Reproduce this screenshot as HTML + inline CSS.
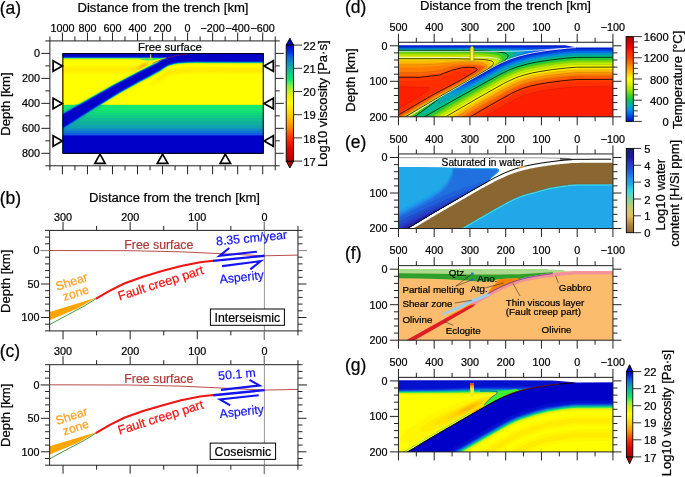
<!DOCTYPE html><html><head><meta charset="utf-8"><style>html,body{margin:0;padding:0;background:#fff;}svg{display:block;will-change:transform;font-family:"Liberation Sans", sans-serif;}</style></head><body>
<svg width="685" height="477" viewBox="0 0 685 477">
<rect width="685" height="477" fill="#fff"/>
<text x="-0.3" y="14" font-size="17.5" text-anchor="start" fill="#000"  stroke="#000" stroke-width="0.22">(a)</text>
<text x="-0.3" y="203.8" font-size="17.5" text-anchor="start" fill="#000"  stroke="#000" stroke-width="0.22">(b)</text>
<text x="-0.3" y="356.8" font-size="17.5" text-anchor="start" fill="#000"  stroke="#000" stroke-width="0.22">(c)</text>
<text x="345" y="13.2" font-size="17.5" text-anchor="start" fill="#000"  stroke="#000" stroke-width="0.22">(d)</text>
<text x="345" y="147.6" font-size="17.5" text-anchor="start" fill="#000"  stroke="#000" stroke-width="0.22">(e)</text>
<text x="345" y="259.2" font-size="17.5" text-anchor="start" fill="#000"  stroke="#000" stroke-width="0.22">(f)</text>
<text x="345" y="371" font-size="17.5" text-anchor="start" fill="#000"  stroke="#000" stroke-width="0.22">(g)</text>
<clipPath id="ca"><rect x="62.9" y="53.6" width="200.29999999999998" height="99.70000000000002"/></clipPath><g clip-path="url(#ca)"><rect x="62.9" y="53.6" width="200.29999999999998" height="99.70000000000002" fill="#b00000"/><path d="M62.4 52.6 264.4 52.6 264.4 154.1 61.9 154.1 61.9 52.6Z" fill="#b00000"/>
<path d="M62.4 52.6 264.4 52.6 264.4 154.1 61.9 154.1 61.9 52.6Z" fill="#ba0000"/>
<path d="M62.4 52.6 264.4 52.6 264.4 154.1 61.9 154.1 61.9 52.6Z" fill="#c30000"/>
<path d="M62.4 52.6 264.4 52.6 264.4 154.1 61.9 154.1 61.9 52.6Z" fill="#cd0000"/>
<path d="M62.4 52.6 264.4 52.6 264.4 154.1 61.9 154.1 61.9 52.6Z" fill="#d60000"/>
<path d="M62.4 52.6 264.4 52.6 264.4 154.1 61.9 154.1 61.9 52.6Z" fill="#e00000"/>
<path d="M62.4 52.6 264.4 52.6 264.4 154.1 61.9 154.1 61.9 52.6Z" fill="#e60a00"/>
<path d="M62.4 52.6 264.4 52.6 264.4 154.1 61.9 154.1 61.9 52.6Z" fill="#ec1300"/>
<path d="M62.4 52.6 264.4 52.6 264.4 154.1 61.9 154.1 61.9 52.6Z" fill="#f31d00"/>
<path d="M62.4 52.6 264.4 52.6 264.4 154.1 61.9 154.1 61.9 52.6Z" fill="#f92600"/>
<path d="M62.4 52.6 264.4 52.6 264.4 154.1 61.9 154.1 61.9 52.6Z" fill="#ff3000"/>
<path d="M62.4 52.6 264.4 52.6 264.4 154.1 61.9 154.1 61.9 52.6Z" fill="#ff4300"/>
<path d="M62.4 52.6 264.4 52.6 264.4 154.1 61.9 154.1 61.9 52.6Z" fill="#ff5600"/>
<path d="M62.4 52.6 264.4 52.6 264.4 154.1 61.9 154.1 61.9 52.6Z" fill="#ff6a00"/>
<path d="M62.4 52.6 264.4 52.6 264.4 154.1 61.9 154.1 61.9 52.6Z" fill="#ff7d00"/>
<path d="M62.4 52.6 264.4 52.6 264.4 154.1 61.9 154.1 61.9 52.6Z" fill="#ff9000"/>
<path d="M62.4 52.6 264.4 52.6 264.4 154.1 61.9 154.1 61.9 52.6Z" fill="#ff9d00"/>
<path d="M62.4 52.6 264.4 52.6 264.4 154.1 61.9 154.1 61.9 52.6Z" fill="#ffaa00"/>
<path d="M62.4 52.6 264.4 52.6 264.4 154.1 61.9 154.1 61.9 52.6Z" fill="#ffb600"/>
<path d="M62.4 52.6 264.4 52.6 264.4 154.1 61.9 154.1 61.9 52.6ZM143 65.1 140.9 66.6 140.6 67.1 140.9 67.4 142.4 67.2 143.6 66.6 144.9 65.6 145.2 65.1 144.9 64.7 143.4 64.9Z" fill="#ffc300"/>
<path d="M62.4 52.6 264.4 52.6 264.4 154.1 61.9 154.1 61.9 52.6ZM144.3 64.1 142.4 64.9 140.6 66.1 139.5 67.1 139.2 67.6 139.2 68.1 139.9 68.3 140.9 68.1 143.4 67.1 145.6 65.6 146.3 64.6 146.2 64.1 145.9 64 144.4 64.1Z" fill="#ffd000"/>
<path d="M62.4 52.6 264.4 52.6 264.4 154.1 61.9 154.1 61.9 52.6ZM144.4 63.6 142.1 64.6 139.8 66.1 138.1 67.6 137.8 68.1 137.7 68.6 138.4 68.9 138.9 68.9 140.7 68.6 143.1 67.6 144.9 66.6 146.7 65.1 147.3 64.1 147.2 63.6 146.9 63.4 145.9 63.3 144.9 63.5Z" fill="#ffd900"/>
<path d="M62.4 52.6 264.4 52.6 264.4 154.1 61.9 154.1 61.9 52.6ZM144.5 63.1 142.4 64 139.9 65.5 136.5 68.1 135.8 69.1 136.5 69.6 137.9 69.6 140.1 69.1 142.7 68.1 144.5 67.1 146.7 65.6 147.7 64.6 148.3 63.6 148.2 63.1 147.4 62.7 146.4 62.7 144.9 63Z" fill="#ffe300"/>
<path d="M62.4 52.6 264.4 52.6 264.4 154.1 61.9 154.1 61.9 52.6ZM146.7 62.1 144.9 62.5 142.9 63.2 140.9 64.3 135.4 67.7 132.9 68.8 130.1 69.6 133.9 70.3 135.9 70.3 139.4 69.6 142.1 68.6 145.8 66.6 147.8 65.1 148.8 64.1 149.3 63.1 149.3 62.6 148.5 62.1 146.9 62.1Z" fill="#ffec00"/>
<path d="M62.4 52.6 264.4 52.6 264.4 67.9 194.9 67.7 184.9 68 177.9 68.5 173.4 69.4 167.9 71.1 161.9 75 157.3 78.6 156.3 79.6 155.7 80.6 155.9 80.9 156.4 81.1 158.9 80.6 161.9 79.1 167.9 75.3 173.4 73.7 178.4 72.8 184.9 72.3 194.9 72 264.4 72.2 264.4 154.1 61.9 154.1 61.9 71.7 123.9 71.7 133.4 71.3 135.9 70.9 138.7 70.1 141.4 69.1 144.4 67.6 146.9 66.1 148.9 64.6 150.3 63.1 150.6 62.1 150.2 61.6 148.9 61.4 146.9 61.5 144.9 61.9 141.4 63.3 135.9 66.5 134.4 67 132.4 67.3 61.9 67.3 61.9 52.6Z" fill="#fff600"/>
<path d="M62.4 52.6 264.4 52.6 264.4 66.4 194.9 66.2 184.9 66.5 177.9 67 173.4 67.9 169.4 69.1 167.9 69.8 163.9 72.3 152.3 80.1 150.2 82.1 149.6 83.1 149.3 84.1 149.5 85.1 149.9 85.6 150.4 85.8 151.4 85.8 153.4 85.3 159.9 82.5 167.9 77.5 173.4 75.9 178.4 74.9 184.9 74.5 194.9 74.1 264.4 74.3 264.4 154.1 61.9 154.1 61.9 73.9 117.9 73.8 122.4 73.8 126.4 73.4 130.4 72.7 134.9 71.6 138 70.6 141.4 69.2 145.4 67.2 148 65.6 150.6 63.6 152.5 61.6 152.3 61.1 150.4 60.7 148.4 60.7 145.9 60.9 141.4 62.2 135.9 64.7 132.9 65.1 61.9 65.2 61.9 52.6Z" fill="#ffff00"/>
<path d="M62.4 52.6 264.4 52.6 264.4 65 194.9 64.8 185.3 65.1 178.4 65.6 173.9 66.5 170 67.6 167.8 68.6 161.4 72.8 151.4 78.5 140.7 84.1 121.6 94.6 105.3 104.6 264.4 104.6 264.4 154.1 61.9 154.1 61.9 104.6 73.9 104.6 111.4 83.3 123.9 76.7 128.9 74.2 138.4 70.7 144.9 67.6 148.4 65.6 155.6 60.6 149.9 60 139.9 60.5 61.9 60.5 61.9 52.6Z" fill="#f9f900"/>
<path d="M62.4 52.6 264.4 52.6 264.4 64.3 194.9 64.1 184.9 64.5 178.4 64.9 173.9 65.8 169.3 67.1 164.9 69.6 159.9 72.9 150.9 77.9 140.9 83.1 120.9 94.1 103.9 104.6 264.4 104.7 264.4 154.1 61.9 154.1 61.9 104.7 75.5 104.6 111.9 83.9 130.4 74.2 138.9 70.6 144.2 68.1 148.7 65.6 157.8 60.1 157.4 59.9 149.9 59.6 140.9 59.8 61.9 59.8 61.9 52.6Z" fill="#f3f300"/>
<path d="M62.4 52.6 264.4 52.6 264.4 63.9 194.9 63.7 184.9 64 178.4 64.5 173.9 65.4 169.6 66.6 168.4 67 164.9 69.1 159.9 72.5 150.9 77.4 141 82.6 120.9 93.6 103.1 104.6 110.9 104.7 264.4 104.7 264.4 154.1 61.9 154.1 61.9 104.7 76.3 104.6 111.9 84.4 130.9 74.4 144.5 68.1 157.1 61.1 159.1 59.6 149.9 59.3 61.9 59.3 61.9 52.6Z" fill="#e6f006"/>
<path d="M62.4 52.6 264.4 52.6 264.4 63.6 195.4 63.5 189 63.6 178.4 64.2 173.7 65.1 168.6 66.6 164.4 69.1 160.4 71.9 150.4 77.4 140.3 82.6 120.4 93.6 102.5 104.6 110.4 104.8 264.4 104.8 264.4 154.1 61.9 154.1 61.9 104.8 76.9 104.6 112.4 84.5 131.9 74.2 144.7 68.1 156.7 61.6 159.7 59.6 158.9 59.3 149.9 59 61.9 59 61.9 52.6Z" fill="#d3f013"/>
<path d="M62.4 52.6 264.4 52.6 264.4 63.4 194.9 63.2 184.9 63.5 177.9 64.1 173.4 65 169.5 66.1 168.1 66.6 164.8 68.6 159.9 71.9 149.9 77.4 139.9 82.6 120.8 93.1 102.1 104.6 109.4 104.8 264.4 104.8 264.4 154.1 61.9 154.1 61.9 104.8 73.4 104.8 77.3 104.6 112.4 84.7 132.9 73.9 145.9 67.6 157.2 61.6 160.1 59.6 160.4 59.2 161 59.1 149.9 58.8 61.9 58.8 61.9 52.6Z" fill="#c0f020"/>
<path d="M62.4 52.6 264.4 52.6 264.4 63.2 192.4 63.1 184.9 63.4 177.9 63.9 173.9 64.6 168.9 66.1 164.4 68.6 160.4 71.4 150.4 76.9 140.4 82.1 120.4 93.1 101.8 104.6 103.9 104.8 108.9 104.9 264.4 104.9 264.4 154.1 61.9 154.1 61.9 104.9 73.9 104.8 77.7 104.6 112.4 84.9 132.4 74.4 144.2 68.6 154.8 63.1 157.6 61.6 159.9 59.9 161.5 59.1 160.9 58.9 149.9 58.6 61.9 58.6 61.9 52.6Z" fill="#a6f02d"/>
<path d="M62.4 52.6 264.4 52.6 264.4 63.1 195.4 62.9 187.4 63.1 177.9 63.7 173.4 64.6 168.4 66.1 164.2 68.6 159.4 71.8 150.4 76.8 140.1 82.1 120.1 93.1 101.5 104.6 103.4 104.9 108.9 104.9 264.4 104.9 264.4 154.1 61.9 154.1 61.9 104.9 73.9 104.9 78 104.6 112.9 84.8 132.9 74.3 155.1 63.1 157.8 61.6 160.4 59.8 161.9 59.1 160.9 58.8 149.9 58.5 61.9 58.5 61.9 52.6Z" fill="#8df03a"/>
<path d="M62.4 52.6 264.4 52.6 264.4 63 195.4 62.8 185.4 63 177.7 63.6 172.9 64.6 168.4 66 163.9 68.6 159.9 71.4 149.9 76.9 139.8 82.1 119.9 93.1 101.2 104.6 103.4 104.9 108.4 105 264.4 105 264.4 154.1 61.9 154.1 61.9 105 74.4 104.9 78.3 104.6 112.4 85.3 133.9 73.9 155.4 63.1 157.9 61.7 160.4 59.9 162.2 59.1 161.9 58.7 161.4 58.6 149.9 58.4 61.9 58.4 61.9 52.6Z" fill="#6aee4a"/>
<path d="M62.4 52.6 264.4 52.6 264.4 62.8 194.9 62.6 184.9 63 177.9 63.5 173.4 64.4 169.2 65.6 167.8 66.1 164.5 68.1 159.9 71.2 150.4 76.5 139.6 82.1 120.5 92.6 101 104.6 102.9 104.9 107.9 105 264.4 105 264.4 154.1 61.9 154.1 61.9 105 74.4 105 78.5 104.6 113.4 84.8 134.4 73.8 155.6 63.1 162.9 58.7 163.8 58.6 149.9 58.2 61.9 58.3 61.9 52.6Z" fill="#3feb5d"/>
<path d="M62.4 52.6 264.4 52.6 264.4 62.7 192.5 62.6 184.9 62.9 177.9 63.4 173.4 64.3 168.8 65.6 167.6 66.1 164.3 68.1 160.4 70.8 158.4 72 149.4 76.9 139.4 82.1 120.3 92.6 100.8 104.6 102.4 105 107.4 105.1 264.4 105.1 264.4 154.1 61.9 154.1 61.9 105.1 74.9 105 78.7 104.6 112.9 85.2 139.4 71.3 154.9 63.6 157.7 62.1 160.4 60.2 162.9 58.9 164.2 58.6 149.9 58.1 61.9 58.1 61.9 52.6Z" fill="#14e870"/>
<path d="M62.4 52.6 264.4 52.6 264.4 62.6 189.4 62.6 177.9 63.3 173.6 64.1 168.5 65.6 164.9 67.6 159.9 71 157.4 72.4 140.1 81.6 120.1 92.6 100.6 104.6 101.9 105 104.5 105.1 100.9 108.1 100 109.1 99.8 110.1 100.4 110.6 105.9 110.8 264.4 110.8 264.4 154.1 61.9 154.1 61.9 109.8 66.5 108.1 73.1 105.1 76.9 104.9 78.9 104.6 112.9 85.3 139.4 71.4 155.1 63.6 157.9 62.1 160.4 60.3 163.4 58.9 164.5 58.6 163.4 58.4 149.9 58.1 61.9 58.1 61.9 52.6Z" fill="#12de76"/>
<path d="M62.4 52.6 264.4 52.6 264.4 62.6 195.4 62.4 186.6 62.6 177.9 63.2 173.4 64.1 168.2 65.6 163.9 68.1 159.9 71 149.9 76.5 139.9 81.6 119.9 92.6 100.5 104.6 100.9 104.9 102.5 105.1 93.5 111.1 93.1 112.1 93.7 112.6 94.9 112.8 99.9 113 264.4 113 264.4 154.1 61.9 154.1 61.9 111.8 65 110.6 75.2 105.1 77.4 104.9 79 104.6 112.9 85.4 139.4 71.4 155.2 63.6 157.9 62.2 160.4 60.3 162.4 59.4 164.8 58.6 163.4 58.4 149.9 58 61.9 58 61.9 52.6Z" fill="#11d57d"/>
<path d="M62.4 52.6 264.4 52.6 264.4 62.5 195.4 62.4 185.4 62.6 177.9 63.1 173.4 64 168.1 65.6 163.9 68.1 159.9 70.9 149.9 76.4 138.9 82.1 119.9 92.5 100.4 104.6 100.9 105 101.5 105.1 92.2 111.1 90.5 112.6 89.8 113.6 89.7 114.1 89.9 114.7 90.9 115.1 95.9 115.3 264.4 115.3 264.4 154.1 61.9 154.1 61.9 112.6 65.4 111.1 76.2 105.1 79.1 104.6 113.9 84.9 136.9 72.8 155.4 63.6 157.9 62.2 160.4 60.4 162.9 59.2 165 58.6 163.4 58.3 149.9 57.9 61.9 57.9 61.9 52.6Z" fill="#10ca86"/>
<path d="M62.4 52.6 264.4 52.6 264.4 62.4 195.4 62.3 185.4 62.5 177.9 63 173.4 63.9 167.9 65.6 163.9 68 159.9 70.8 149.9 76.3 138.9 82 119.9 92.5 100.4 104.5 100.3 104.6 100.4 104.9 100.9 105.1 91.4 111.1 88.8 113.1 86.1 115.6 85.4 116.6 85.4 117.1 85.9 117.5 86.9 117.8 92.4 118 264.4 118 264.4 154.1 61.9 154.1 61.9 113.1 66.2 111.1 76.9 105.1 78.9 104.7 79.9 104.2 90.9 97.9 115.9 83.9 137.9 72.4 155.4 63.7 157.9 62.3 161.4 60 162.9 59.3 165.2 58.6 164.9 58.4 163.9 58.2 149.9 57.9 61.9 57.9 61.9 52.6Z" fill="#10bd93"/>
<path d="M62.4 52.6 264.4 52.6 264.4 62.4 195.4 62.2 185.4 62.4 177.9 63 173.4 63.9 167.9 65.5 163.9 67.9 159.9 70.7 149.9 76.3 138.9 82 119.9 92.4 100.4 104.4 100.2 104.6 100.4 105.1 90.9 111.1 84.2 116.1 80.9 119.1 80.2 120.1 80.2 120.6 80.8 121.1 81.9 121.3 86.9 121.5 264.4 121.5 264.4 154.1 61.9 154.1 61.9 113.5 66.7 111.1 76.9 105.3 78.9 104.8 79.9 104.3 90.9 97.9 115.9 84 138.9 71.9 155.4 63.7 157.9 62.4 161.4 60.1 162.9 59.4 165.3 58.6 164.9 58.3 163.9 58.2 149.9 57.8 61.9 57.8 61.9 52.6Z" fill="#10b0a0"/>
<path d="M62.4 52.6 264.4 52.6 264.4 62.3 195.4 62.2 185.4 62.4 177.9 62.9 172.9 63.9 167.9 65.4 163.9 67.8 159.9 70.7 149.9 76.2 138.9 81.9 119.9 92.4 100.4 104.4 100.1 104.6 100.1 105.1 90.5 111.1 79.3 119.1 75.7 122.1 74.8 123.1 74.5 124.1 74.9 124.5 75.9 124.8 81.4 125 264.4 125 264.4 154.1 61.9 154.1 61.9 113.8 67.2 111.1 77.4 105.3 79.9 104.4 90.9 98 115.9 84.1 139.9 71.5 155.4 63.8 157.9 62.4 160.9 60.4 162.9 59.4 165.5 58.6 164.9 58.2 164.4 58.1 149.9 57.8 61.9 57.8 61.9 52.6Z" fill="#10a3ad"/>
<path d="M62.4 52.6 264.4 52.6 264.4 62.3 195.4 62.1 184.9 62.3 177.9 62.9 172.9 63.9 167.9 65.4 163.9 67.8 158.9 71.1 149.9 76.1 138.9 81.8 119.9 92.3 100.4 104.3 99.4 105.4 89.4 111.6 74.9 121.6 70.5 125.1 69.6 126.1 69.3 126.6 69.3 127.1 69.9 127.6 70.9 127.8 75.9 127.9 264.4 127.9 264.4 154.1 61.9 154.1 61.9 114.1 68.4 110.6 77.9 105.2 79.4 104.7 80.9 103.9 113.2 85.6 139.9 71.5 155.4 63.9 158.4 62.2 160.9 60.5 162.9 59.5 165.7 58.6 165.9 58.1 149.9 57.7 61.9 57.7 61.9 52.6Z" fill="#1096ba"/>
<path d="M62.4 52.6 264.4 52.6 264.4 62.2 195.4 62 184.9 62.3 177.9 62.8 172.9 63.8 167.9 65.3 164.4 67.4 158.9 71.1 149.8 76.1 138.9 81.8 118.9 92.8 100.4 104.2 99.4 105.3 89.9 111.1 71.3 123.6 67.9 126.1 65.7 128.1 65.7 128.6 65.9 128.8 66.8 129.1 71.9 129.3 264.4 129.3 264.4 154.1 61.9 154.1 61.9 114.2 66.9 111.6 77.9 105.3 79.4 104.8 80.9 103.9 113.3 85.6 139.9 71.6 155.4 63.9 158.4 62.3 160.9 60.5 162.9 59.5 165.9 58.6 166 58.1 149.9 57.6 61.9 57.6 61.9 52.6Z" fill="#1086c6"/>
<path d="M62.4 52.6 264.4 52.6 264.4 62.1 195.4 61.9 184.9 62.2 177.9 62.7 172.9 63.7 167.9 65.2 164.4 67.3 159.6 70.6 156.9 72.1 149.6 76.1 139.4 81.4 117.9 93.4 99.9 104.5 99.4 105.1 89.9 111 76 120.1 65 127.6 63.9 128.6 63.3 129.6 63.4 130.1 63.9 130.6 64.4 130.7 69.4 131 264.4 131 264.4 154.1 61.9 154.1 61.9 114.4 66.9 111.7 77.9 105.4 80.4 104.3 113.4 85.6 140 71.6 155.4 64 158.4 62.4 160.9 60.6 162.9 59.6 165.9 58.7 166.2 58.1 165.9 57.9 149.9 57.6 61.9 57.6 61.9 52.6Z" fill="#1073d3"/>
<path d="M62.4 52.6 264.4 52.6 264.4 62.1 194.4 61.8 184.9 62.2 177.9 62.7 172.9 63.7 167.9 65.2 163.4 67.8 159.4 70.6 150.4 75.6 139.4 81.3 119.4 92.3 99.9 104.4 99.2 105.1 89.9 110.8 69.5 124.1 63.6 128.1 61.9 129.5 61.9 114.5 77.9 105.5 80.4 104.4 113.6 85.6 140.2 71.6 155.9 63.8 158.4 62.5 161.1 60.6 163.2 59.6 165.9 58.8 166.2 58.6 166.3 58.1 165.9 57.8 149.9 57.4 61.9 57.4 61.9 52.6ZM62.4 132.9 264.4 133 264.4 154.1 61.9 154.1 61.9 132.9Z" fill="#1060e0"/>
<path d="M62.4 52.6 264.4 52.6 264.4 61.9 191.9 61.8 182.4 62.2 177.4 62.7 173.4 63.4 168.4 64.9 167.4 65.3 163.9 67.4 160 70.1 157.4 71.6 149.3 76.1 139.9 80.9 119.4 92.2 99.9 104.2 99 105.1 88.9 111.4 65.4 126.6 61.9 129 61.9 114.7 78.8 105.1 79.9 104.8 81.4 104 112.9 86.1 140.4 71.6 155.9 64 157.9 62.9 161.3 60.6 163.4 59.6 165.9 58.9 166.4 58.6 166.5 58.1 165.9 57.7 149.9 57.3 61.9 57.3 61.9 52.6ZM62.4 134.8 264.4 134.8 264.4 154.1 61.9 154.1 61.9 134.8Z" fill="#0d4add"/>
<path d="M62.4 52.6 264.4 52.6 264.4 61.8 195.4 61.6 186.9 61.8 177.9 62.4 173.4 63.3 167.9 64.9 163.9 67.2 159 70.6 149.9 75.6 139.9 80.8 119.9 91.8 99.4 104.4 98.8 105.1 89.4 110.9 61.9 128.7 61.9 114.9 79.1 105.1 80.9 104.4 113.2 86.1 139.7 72.1 155.4 64.4 158.4 62.7 161.6 60.6 163.9 59.6 166.4 58.8 166.7 58.1 166.4 57.8 165.9 57.6 149.9 57.2 61.9 57.2 61.9 52.6ZM62.4 135.2 264.4 135.2 264.4 154.1 61.9 154.1 61.9 135.2Z" fill="#0a33da"/>
<path d="M62.4 52.6 264.4 52.6 264.4 61.6 195.4 61.4 184.9 61.7 177.4 62.3 172.9 63.2 167.9 64.7 163.4 67.3 159.5 70.1 155.9 72.1 139.4 80.8 119.4 91.8 99.9 103.9 98.8 104.6 98.4 105.1 88.4 111.3 61.9 128.4 61.9 115.1 79.5 105.1 81.4 104.3 113.5 86.1 140.1 72.1 155.9 64.3 158.4 63 161 61.1 163 60.1 166.4 59 166.8 58.6 166.8 58.1 166.4 57.6 165.9 57.4 149.9 57.1 61.9 57.1 61.9 52.6ZM62.4 135.5 264.4 135.5 264.4 154.1 61.9 154.1 61.9 135.5Z" fill="#0620d5"/>
<path d="M62.4 52.6 264.4 52.6 264.4 61.3 195.4 61.1 186.9 61.3 177.9 61.9 173.4 62.8 167.9 64.4 163.4 67 158.8 70.1 148.9 75.6 138.9 80.8 118.9 91.8 98.4 104.4 97.9 105.1 89.4 110.3 61.9 128.1 61.9 115.4 80.1 105.1 81.9 104.4 113.3 86.6 139.8 72.6 155.4 64.9 158.4 63.3 161.7 61.1 163.9 60.1 166.4 59.4 167.2 58.6 167.2 58.1 166.4 57.2 165.9 57.1 149.9 56.7 61.9 56.7 61.9 52.6ZM62.4 135.8 264.4 135.8 264.4 154.1 61.9 154.1 61.9 135.8Z" fill="#0310ce"/>
<path d="M62.4 52.6 264.4 52.6 264.4 60.7 182.9 60.8 182.4 61.2 177.4 61.3 176.9 61.7 174.4 61.8 173.9 62.2 172.4 62.3 171.9 62.7 170.9 62.8 170.4 63.2 168.9 63.3 168.4 63.7 167.4 63.8 166.4 64.7 165.9 64.8 165.4 65.2 164.9 65.3 164.4 65.7 163.9 65.8 162.9 66.7 162.4 66.8 161.4 67.7 160.9 67.8 159.4 69.2 158.9 69.3 158.4 69.7 157.9 69.8 157.4 70.2 156.9 70.3 155.9 71.2 155.4 71.3 154.9 71.7 154.4 71.8 153.9 72.2 153.4 72.3 152.9 72.7 152.4 72.8 151.4 73.7 150.9 73.8 149.4 74.7 148.9 74.8 148.4 75.2 147.9 75.3 147.4 75.7 146.9 75.8 146.4 76.2 145.9 76.3 145.4 76.7 144.9 76.8 144.4 77.2 143.9 77.3 142.9 78.2 142.4 78.2 141.9 78.7 141.4 78.8 140.9 79.2 140.4 79.3 139.9 79.7 139.4 79.8 138.9 80.2 138.4 80.3 137.9 80.7 137.4 80.8 136.9 81.2 136.4 81.3 135.4 82.2 134.9 82.3 134.4 82.7 133.9 82.8 133.4 83.2 132.9 83.3 132.4 83.7 131.9 83.8 131.4 84.2 130.9 84.3 129.9 85.2 129.4 85.3 128.9 85.7 128.4 85.8 127.9 86.2 127.4 86.3 126.9 86.7 126.4 86.8 125.4 87.7 124.9 87.8 124.4 88.2 123.9 88.3 123.4 88.7 122.9 88.8 122.4 89.2 121.9 89.3 121.4 89.7 120.9 89.8 119.9 90.7 119.4 90.8 118.9 91.2 118.4 91.3 117.4 92.2 116.9 92.3 116.4 92.7 115.9 92.8 114.9 93.7 114.4 93.8 113.4 94.7 112.9 94.8 112.4 95.2 111.9 95.3 110.9 96.2 110.4 96.3 109.9 96.7 109.4 96.8 108.4 97.7 107.9 97.8 106.9 98.7 106.4 98.8 105.9 99.2 105.4 99.3 104.4 100.2 103.9 100.3 103.4 100.7 102.9 100.8 101.9 101.7 101.4 101.8 100.4 102.7 99.9 102.8 99.4 103.2 98.9 103.3 97.9 104.2 97.4 104.3 95.9 105.7 95.4 105.8 94.4 106.7 93.9 106.8 93.4 107.2 92.9 107.3 91.9 108.2 91.4 108.3 90.9 108.7 90.4 108.8 89.4 109.7 88.9 109.8 87.9 110.7 87.4 110.8 86.4 111.7 85.9 111.8 85.4 112.2 84.9 112.3 83.9 113.2 83.4 113.3 82.4 114.2 81.9 114.3 80.9 115.2 80.4 115.3 79.4 116.2 78.9 116.3 77.9 117.2 77.4 117.3 76.9 117.7 76.4 117.8 75.4 118.7 74.9 118.8 73.9 119.7 73.4 119.8 72.4 120.7 71.9 120.8 70.9 121.7 70.4 121.8 69.9 122.2 69.4 122.3 68.4 123.2 67.9 123.3 66.9 124.2 66.4 124.3 65.4 125.2 64.9 125.3 63.9 126.2 63.4 126.3 62.4 127.2 61.9 127.3 61.9 116 62.4 115.9 62.9 115.5 63.4 115.4 63.9 115 64.4 114.9 65.4 114 65.9 113.9 66.4 113.5 66.9 113.4 67.4 113 67.9 112.9 68.4 112.5 68.9 112.4 69.9 111.5 70.4 111.4 70.9 111 71.4 110.9 71.9 110.5 72.4 110.4 73.4 109.5 73.9 109.4 74.4 109 74.9 108.9 75.4 108.5 75.9 108.4 76.9 107.5 77.4 107.4 77.9 107 78.4 106.9 78.9 106.5 79.4 106.4 80.4 105.5 80.9 105.4 81.4 105 82.4 104.9 83.4 104 83.9 103.9 84.4 103.5 84.9 103.4 85.4 103 85.9 102.9 86.9 102 87.4 101.9 87.9 101.5 88.4 101.4 88.9 101 89.4 100.9 90.4 100 90.9 99.9 91.4 99.5 91.9 99.4 92.4 99 92.9 98.9 93.9 98 94.4 97.9 94.9 97.5 95.4 97.4 95.9 97 96.4 96.9 96.9 96.5 97.4 96.4 98.4 95.5 98.9 95.4 99.4 95 99.9 94.9 100.4 94.5 100.9 94.4 101.4 94 101.9 93.9 102.9 93 103.4 92.9 103.9 92.5 104.4 92.4 104.9 92 105.4 91.9 106.4 91 106.9 90.9 107.4 90.5 107.9 90.4 108.4 90 108.9 89.9 109.4 89.5 109.9 89.4 110.9 88.5 111.4 88.4 111.9 88 112.4 87.9 112.9 87.5 113.4 87.4 113.9 87 114.4 86.9 115.4 86 115.9 85.9 116.4 85.5 116.9 85.4 117.4 85 117.9 84.9 118.4 84.5 118.9 84.4 119.4 84 119.9 83.9 120.4 83.5 120.9 83.4 121.4 83 121.9 82.9 122.4 82.5 122.9 82.4 123.9 81.5 124.4 81.5 124.9 81 125.4 80.9 125.9 80.5 126.4 80.4 126.9 80 127.4 79.9 127.9 79.5 128.4 79.4 128.9 79 129.4 78.9 129.9 78.5 130.4 78.4 130.9 78 131.4 77.9 131.9 77.5 132.4 77.4 133.4 76.5 133.9 76.4 134.4 76 134.9 75.9 135.4 75.5 135.9 75.4 136.4 75 136.9 74.9 137.4 74.5 137.9 74.4 138.4 74 138.9 73.9 140.4 73 140.9 72.9 141.4 72.5 141.9 72.4 142.4 72 142.9 71.9 143.4 71.5 143.9 71.4 144.4 71 144.9 70.9 145.4 70.5 145.9 70.4 146.4 70 146.9 69.9 147.4 69.5 147.9 69.4 148.4 69 148.9 68.9 149.4 68.5 149.9 68.4 150.4 68 150.9 67.9 151.4 67.5 151.9 67.4 152.4 67 152.9 66.9 153.4 66.5 153.9 66.4 154.4 66 154.9 65.9 155.4 65.5 155.9 65.4 156.4 65 156.9 64.9 157.4 64.5 157.9 64.4 158.4 64 158.9 63.9 160.4 62.5 160.9 62.4 161.9 61.5 162.9 61.4 163.4 61 163.9 60.9 164.4 60.5 165.4 60.4 165.9 60 166.9 59.9 167.7 59.1 167.8 58.1 167.7 57.6 166.9 56.8 165.4 56.7 164.9 56.3 61.9 56.2 61.9 52.6ZM62.4 136 264.4 136 264.4 154.1 61.9 154.1 61.9 136Z" fill="#0000c8"/><path d="M139 58.6 L152 58.2 L158 58.6 L155 60 L148 60.6 L142 60 Z" fill="#40e060" opacity="0.9"/><path d="M159.5 58.2 L166.5 57.4 L164 59 L160.5 59.6 Z" fill="#50e860"/><rect x="150.1" y="54.2" width="1.1" height="5" fill="#e0e040"/><path d="M152.4 63.4 L160 60.3 L168 57.6 L178 55.3 L188 54.2" fill="none" stroke="#d02020" stroke-width="0.5"/></g><rect x="62.9" y="53.6" width="200.29999999999998" height="99.70000000000002" fill="none" stroke="#000" stroke-width="1"/>
<rect x="49.88" y="40.91" width="225.36" height="124.88" fill="none" stroke="#222" stroke-width="1"/>
<path d="M62.4 40.91v-8.5M87.44 40.91v-8.5M112.48 40.91v-8.5M137.52 40.91v-8.5M162.56 40.91v-8.5M187.6 40.91v-8.5M212.64 40.91v-8.5M237.68 40.91v-8.5M262.72 40.91v-8.5" stroke="#222" stroke-width="1" fill="none"/>
<path d="M49.88 40.91v-4.5M74.92 40.91v-4.5M99.96 40.91v-4.5M125 40.91v-4.5M150.04 40.91v-4.5M175.08 40.91v-4.5M200.12 40.91v-4.5M225.16 40.91v-4.5M250.2 40.91v-4.5M275.24 40.91v-4.5" stroke="#222" stroke-width="1" fill="none"/>
<path d="M62.4 165.79v8.5M87.44 165.79v8.5M112.48 165.79v8.5M137.52 165.79v8.5M162.56 165.79v8.5M187.6 165.79v8.5M212.64 165.79v8.5M237.68 165.79v8.5M262.72 165.79v8.5" stroke="#222" stroke-width="1" fill="none"/>
<path d="M49.88 165.79v4.5M74.92 165.79v4.5M99.96 165.79v4.5M125 165.79v4.5M150.04 165.79v4.5M175.08 165.79v4.5M200.12 165.79v4.5M225.16 165.79v4.5M250.2 165.79v4.5M275.24 165.79v4.5" stroke="#222" stroke-width="1" fill="none"/>
<path d="M49.88 53.4h-8.5M49.88 78.38h-8.5M49.88 103.35h-8.5M49.88 128.33h-8.5M49.88 153.3h-8.5" stroke="#222" stroke-width="1" fill="none"/>
<path d="M49.88 40.91h-4.5M49.88 65.89h-4.5M49.88 90.86h-4.5M49.88 115.84h-4.5M49.88 140.82h-4.5M49.88 165.79h-4.5" stroke="#222" stroke-width="1" fill="none"/>
<path d="M275.24 53.4h8.5M275.24 78.38h8.5M275.24 103.35h8.5M275.24 128.33h8.5M275.24 153.3h8.5" stroke="#222" stroke-width="1" fill="none"/>
<path d="M275.24 40.91h4.5M275.24 65.89h4.5M275.24 90.86h4.5M275.24 115.84h4.5M275.24 140.82h4.5M275.24 165.79h4.5" stroke="#222" stroke-width="1" fill="none"/>
<text x="62.4" y="32" font-size="10.8" text-anchor="middle" fill="#000"  stroke="#000" stroke-width="0.22">1000</text>
<text x="87.44" y="32" font-size="10.8" text-anchor="middle" fill="#000"  stroke="#000" stroke-width="0.22">800</text>
<text x="112.48" y="32" font-size="10.8" text-anchor="middle" fill="#000"  stroke="#000" stroke-width="0.22">600</text>
<text x="137.52" y="32" font-size="10.8" text-anchor="middle" fill="#000"  stroke="#000" stroke-width="0.22">400</text>
<text x="162.56" y="32" font-size="10.8" text-anchor="middle" fill="#000"  stroke="#000" stroke-width="0.22">200</text>
<text x="187.6" y="32" font-size="10.8" text-anchor="middle" fill="#000"  stroke="#000" stroke-width="0.22">0</text>
<text x="212.64" y="32" font-size="10.8" text-anchor="middle" fill="#000"  stroke="#000" stroke-width="0.22">−200</text>
<text x="237.68" y="32" font-size="10.8" text-anchor="middle" fill="#000"  stroke="#000" stroke-width="0.22">−400</text>
<text x="262.72" y="32" font-size="10.8" text-anchor="middle" fill="#000"  stroke="#000" stroke-width="0.22">−600</text>
<text x="40" y="57.3" font-size="10.8" text-anchor="end" fill="#000"  stroke="#000" stroke-width="0.22">0</text>
<text x="40" y="82.28" font-size="10.8" text-anchor="end" fill="#000"  stroke="#000" stroke-width="0.22">200</text>
<text x="40" y="107.25" font-size="10.8" text-anchor="end" fill="#000"  stroke="#000" stroke-width="0.22">400</text>
<text x="40" y="132.23" font-size="10.8" text-anchor="end" fill="#000"  stroke="#000" stroke-width="0.22">600</text>
<text x="40" y="157.2" font-size="10.8" text-anchor="end" fill="#000"  stroke="#000" stroke-width="0.22">800</text>
<text x="163" y="11.8" font-size="13.1" text-anchor="middle" fill="#000"  stroke="#000" stroke-width="0.22">Distance from the trench [km]</text>
<text x="9.7" y="104" font-size="13.1" text-anchor="middle" fill="#000" transform="rotate(-90 9.7 104)" stroke="#000" stroke-width="0.22">Depth [km]</text>
<path d="M264.4 221.5 V339.8 M40.5 250.6 H49.6 M297.9 250.6 H307" stroke="#8a8a8a" stroke-width="0.9" fill="none"/><path d="M49.6 250.5 L130 250.7 L180 251.8 L215 253.4 L264.4 255.8 L297.9 255.1" stroke="#b03a3a" stroke-width="0.9" fill="none"/><path d="M49.6 312 L96.8 297.6 L77.3 308.6 L49.6 320.2 Z" fill="#ffa500"/><path d="M49.6 324.6 L70 313.6 L84 306.2 L96.8 298.3" stroke="#2e8b2e" stroke-width="0.9" fill="none"/><path d="M96.6 298.3 L109 291.1 L124.2 283.5 L143.1 276.8 L162.1 271.1 L181.1 266 L200.1 262.2 L213.4 260.7" stroke="#f01414" stroke-width="2.1" fill="none" stroke-linecap="round"/><path d="M213.2 260.9 L264.6 255.8" stroke="#1414f0" stroke-width="2.4" fill="none"/><path d="M256.9 251.7 L219.5 255.9 L229.3 248 M222.1 266.1 L260.8 261.1 L250.3 269.4" stroke="#1414f0" stroke-width="2.1" fill="none"/><text x="124.3" y="248.6" font-size="12.3" fill="#b03a3a" stroke="#b03a3a" stroke-width="0.22">Free surface</text><text font-size="12.7" fill="#f01414" transform="translate(119.5 300.5) rotate(-17.5)" stroke="#f01414" stroke-width="0.22">Fault creep part</text><text font-size="12.3" fill="#ffa020" text-anchor="middle" transform="translate(72.8 285.6) rotate(-18)" stroke="#ffa020" stroke-width="0.22">Shear</text><text font-size="12.3" fill="#ffa020" text-anchor="middle" transform="translate(77.0 297) rotate(-18)" stroke="#ffa020" stroke-width="0.22">zone</text><text font-size="12.3" fill="#1414f0" transform="translate(216.6 245.5) rotate(-5.5)" stroke="#1414f0" stroke-width="0.22">8.35 cm/year</text><rect x="210.4" y="309.0" width="74" height="16.3" fill="#fff" stroke="#000" stroke-width="1"/><text x="247.4" y="321.9" font-size="12.3" text-anchor="middle" fill="#000" stroke="#000" stroke-width="0.22">Interseismic</text><text font-size="12.3" fill="#1414f0" transform="translate(220.0 283.6) rotate(-6)" stroke="#1414f0" stroke-width="0.22">Asperity</text>
<rect x="49.62" y="230.4" width="248.34" height="100.5" fill="none" stroke="#222" stroke-width="1"/>
<path d="M63.04 230.4v-8.5M130.16 230.4v-8.5M197.28 230.4v-8.5M264.4 230.4v-8.5" stroke="#222" stroke-width="1" fill="none"/>
<path d="M96.6 230.4v-4.5M163.72 230.4v-4.5M230.84 230.4v-4.5M297.96 230.4v-4.5" stroke="#222" stroke-width="1" fill="none"/>
<path d="M63.04 330.9v8.5M130.16 330.9v8.5M197.28 330.9v8.5M264.4 330.9v8.5" stroke="#222" stroke-width="1" fill="none"/>
<path d="M96.6 330.9v4.5M163.72 330.9v4.5M230.84 330.9v4.5M297.96 330.9v4.5" stroke="#222" stroke-width="1" fill="none"/>
<path d="M49.62 250.5h-8.5M49.62 284h-8.5M49.62 317.5h-8.5" stroke="#222" stroke-width="1" fill="none"/>
<path d="M49.62 230.4h-4.5M49.62 237.1h-4.5M49.62 243.8h-4.5M49.62 257.2h-4.5M49.62 263.9h-4.5M49.62 270.6h-4.5M49.62 277.3h-4.5M49.62 290.7h-4.5M49.62 297.4h-4.5M49.62 304.1h-4.5M49.62 310.8h-4.5M49.62 324.2h-4.5M49.62 330.9h-4.5" stroke="#222" stroke-width="1" fill="none"/>
<path d="M297.96 250.5h8.5M297.96 284h8.5M297.96 317.5h8.5" stroke="#222" stroke-width="1" fill="none"/>
<path d="M297.96 230.4h4.5M297.96 237.1h4.5M297.96 243.8h4.5M297.96 257.2h4.5M297.96 263.9h4.5M297.96 270.6h4.5M297.96 277.3h4.5M297.96 290.7h4.5M297.96 297.4h4.5M297.96 304.1h4.5M297.96 310.8h4.5M297.96 324.2h4.5M297.96 330.9h4.5" stroke="#222" stroke-width="1" fill="none"/>
<text x="63.04" y="220.7" font-size="10.8" text-anchor="middle" fill="#000"  stroke="#000" stroke-width="0.22">300</text>
<text x="130.16" y="220.7" font-size="10.8" text-anchor="middle" fill="#000"  stroke="#000" stroke-width="0.22">200</text>
<text x="197.28" y="220.7" font-size="10.8" text-anchor="middle" fill="#000"  stroke="#000" stroke-width="0.22">100</text>
<text x="264.4" y="220.7" font-size="10.8" text-anchor="middle" fill="#000"  stroke="#000" stroke-width="0.22">0</text>
<text x="39.5" y="254.4" font-size="10.8" text-anchor="end" fill="#000"  stroke="#000" stroke-width="0.22">0</text>
<text x="39.5" y="287.9" font-size="10.8" text-anchor="end" fill="#000"  stroke="#000" stroke-width="0.22">50</text>
<text x="39.5" y="321.4" font-size="10.8" text-anchor="end" fill="#000"  stroke="#000" stroke-width="0.22">100</text>
<path d="M40.6 250.5 H49.6 M297.9 250.5 H307" stroke="#8a8a8a" stroke-width="1.1" fill="none"/>
<path d="M264.4 330.9 v8.5 M264.4 230.4 v-8.5" stroke="#8a8a8a" stroke-width="1.1" fill="none"/>
<path d="M264.4 355.8 V474.1 M40.5 384.9 H49.6 M297.9 384.9 H307" stroke="#8a8a8a" stroke-width="0.9" fill="none"/><path d="M49.6 384.8 L130 385 L180 386.1 L215 387.7 L264.4 390.1 L297.9 389.4" stroke="#b03a3a" stroke-width="0.9" fill="none"/><path d="M49.6 446.3 L96.8 431.9 L77.3 442.9 L49.6 454.5 Z" fill="#ffa500"/><path d="M49.6 458.9 L70 447.9 L84 440.5 L96.8 432.6" stroke="#2e8b2e" stroke-width="0.9" fill="none"/><path d="M96.6 432.6 L109 425.4 L124.2 417.8 L143.1 411.1 L162.1 405.4 L181.1 400.3 L200.1 396.5 L213.4 395" stroke="#f01414" stroke-width="2.1" fill="none" stroke-linecap="round"/><path d="M213.2 395.2 L264.6 390.1" stroke="#1414f0" stroke-width="2.4" fill="none"/><path d="M221 389.9 L259.6 385.5 L249.5 379.8 M258.7 395.2 L220 399.4 L230.2 405.3" stroke="#1414f0" stroke-width="2.1" fill="none"/><text x="124.3" y="382.9" font-size="12.3" fill="#b03a3a" stroke="#b03a3a" stroke-width="0.22">Free surface</text><text font-size="12.7" fill="#f01414" transform="translate(119.5 434.8) rotate(-17.5)" stroke="#f01414" stroke-width="0.22">Fault creep part</text><text font-size="12.3" fill="#ffa020" text-anchor="middle" transform="translate(72.8 419.9) rotate(-18)" stroke="#ffa020" stroke-width="0.22">Shear</text><text font-size="12.3" fill="#ffa020" text-anchor="middle" transform="translate(77.0 431.3) rotate(-18)" stroke="#ffa020" stroke-width="0.22">zone</text><text font-size="12.3" fill="#1414f0" transform="translate(218.6 379.9) rotate(-5)" stroke="#1414f0" stroke-width="0.22">50.1 m</text><rect x="210.2" y="443.1" width="65.4" height="16.3" fill="#fff" stroke="#000" stroke-width="1"/><text x="242.9" y="456.2" font-size="12.3" text-anchor="middle" fill="#000" stroke="#000" stroke-width="0.22">Coseismic</text><text font-size="12.3" fill="#1414f0" transform="translate(220.0 417.9) rotate(-6)" stroke="#1414f0" stroke-width="0.22">Asperity</text>
<rect x="49.62" y="364.7" width="248.34" height="100.5" fill="none" stroke="#222" stroke-width="1"/>
<path d="M63.04 364.7v-8.5M130.16 364.7v-8.5M197.28 364.7v-8.5M264.4 364.7v-8.5" stroke="#222" stroke-width="1" fill="none"/>
<path d="M96.6 364.7v-4.5M163.72 364.7v-4.5M230.84 364.7v-4.5M297.96 364.7v-4.5" stroke="#222" stroke-width="1" fill="none"/>
<path d="M63.04 465.2v8.5M130.16 465.2v8.5M197.28 465.2v8.5M264.4 465.2v8.5" stroke="#222" stroke-width="1" fill="none"/>
<path d="M96.6 465.2v4.5M163.72 465.2v4.5M230.84 465.2v4.5M297.96 465.2v4.5" stroke="#222" stroke-width="1" fill="none"/>
<path d="M49.62 384.8h-8.5M49.62 418.3h-8.5M49.62 451.8h-8.5" stroke="#222" stroke-width="1" fill="none"/>
<path d="M49.62 364.7h-4.5M49.62 371.4h-4.5M49.62 378.1h-4.5M49.62 391.5h-4.5M49.62 398.2h-4.5M49.62 404.9h-4.5M49.62 411.6h-4.5M49.62 425h-4.5M49.62 431.7h-4.5M49.62 438.4h-4.5M49.62 445.1h-4.5M49.62 458.5h-4.5M49.62 465.2h-4.5" stroke="#222" stroke-width="1" fill="none"/>
<path d="M297.96 384.8h8.5M297.96 418.3h8.5M297.96 451.8h8.5" stroke="#222" stroke-width="1" fill="none"/>
<path d="M297.96 364.7h4.5M297.96 371.4h4.5M297.96 378.1h4.5M297.96 391.5h4.5M297.96 398.2h4.5M297.96 404.9h4.5M297.96 411.6h4.5M297.96 425h4.5M297.96 431.7h4.5M297.96 438.4h4.5M297.96 445.1h4.5M297.96 458.5h4.5M297.96 465.2h4.5" stroke="#222" stroke-width="1" fill="none"/>
<text x="63.04" y="355" font-size="10.8" text-anchor="middle" fill="#000"  stroke="#000" stroke-width="0.22">300</text>
<text x="130.16" y="355" font-size="10.8" text-anchor="middle" fill="#000"  stroke="#000" stroke-width="0.22">200</text>
<text x="197.28" y="355" font-size="10.8" text-anchor="middle" fill="#000"  stroke="#000" stroke-width="0.22">100</text>
<text x="264.4" y="355" font-size="10.8" text-anchor="middle" fill="#000"  stroke="#000" stroke-width="0.22">0</text>
<text x="39.5" y="388.7" font-size="10.8" text-anchor="end" fill="#000"  stroke="#000" stroke-width="0.22">0</text>
<text x="39.5" y="422.2" font-size="10.8" text-anchor="end" fill="#000"  stroke="#000" stroke-width="0.22">50</text>
<text x="39.5" y="455.7" font-size="10.8" text-anchor="end" fill="#000"  stroke="#000" stroke-width="0.22">100</text>
<path d="M40.6 384.8 H49.6 M297.9 384.8 H307" stroke="#8a8a8a" stroke-width="1.1" fill="none"/>
<path d="M264.4 465.2 v8.5 M264.4 364.7 v-8.5" stroke="#8a8a8a" stroke-width="1.1" fill="none"/>
<text x="174.5" y="202" font-size="13.1" text-anchor="middle" fill="#000"  stroke="#000" stroke-width="0.22">Distance from the trench [km]</text>
<text x="10.3" y="281.3" font-size="13.1" text-anchor="middle" fill="#000" transform="rotate(-90 10.3 281.3)" stroke="#000" stroke-width="0.22">Depth [km]</text>
<text x="10.3" y="415.3" font-size="13.1" text-anchor="middle" fill="#000" transform="rotate(-90 10.3 415.3)" stroke="#000" stroke-width="0.22">Depth [km]</text>
<clipPath id="cd"><rect x="398.4" y="42.3" width="214.5" height="74.5"/></clipPath><g clip-path="url(#cd)"><rect x="398.4" y="40" width="214.5" height="80" fill="#001ecc"/><path d="M397.9 46.7 538.4 46.9 560.4 47.3 565.4 47.5 567.9 48 564.4 48 563.9 48.5 559.4 48.6 558.9 49.1 555.4 49.1 554.9 49.6 551.4 49.6 550.9 50.1 547.4 50.2 546.9 50.7 543.9 50.7 543.4 51.2 540.9 51.2 540.4 51.8 537.9 51.8 537.4 52.3 534.9 52.3 534.4 52.8 532.4 52.8 531.9 53.3 529.9 53.3 529.4 53.8 527.4 53.8 526.9 54.4 525.4 54.3 524.9 54.9 523.4 54.9 522.9 55.4 521.4 55.4 520.9 55.9 519.4 55.9 518.9 56.4 517.9 56.4 517.4 56.9 516.4 56.9 515.9 57.4 514.9 57.4 514.4 57.9 513.4 57.9 512.9 58.4 511.9 58.4 511.4 58.9 510.4 58.9 509.9 59.4 509.4 59.4 508.9 59.9 507.9 59.9 507.4 60.4 506.9 60.4 506.4 60.9 505.4 60.9 504.9 61.4 504.4 61.4 503.9 62 503.4 61.9 502.9 62.5 502.4 62.4 501.9 63 501.4 63 500.9 63.5 499.9 63.5 499.4 64 498.9 64 498.4 64.5 497.9 64.5 497.4 65 496.9 65 496.4 65.5 495.9 65.5 495.4 66 494.9 66 493.9 67 493.4 67 492.9 67.5 492.4 67.5 491.9 68 491.4 68 490.9 68.5 490.4 68.5 489.4 69.5 488.9 69.5 488.4 70 487.9 70 487.4 70.5 486.9 70.5 485.9 71.5 485.4 71.5 484.9 72 484.4 72 483.9 72.5 483.4 72.5 482.9 73 482.4 73 481.4 74 480.9 74 480.4 74.5 479.9 74.5 479.4 75 478.9 75 477.9 76 477.4 76 476.9 76.5 476.4 76.5 475.9 77 475.4 77 474.4 78 473.9 78 473.9 78.4 479.8 76 495.9 67 506.9 61.8 511.9 59.8 517.4 58 523.4 56.3 529.4 54.9 538.4 53.2 548.9 51.7 561.4 50.1 572.4 49.2 576.9 49 613.9 48.9 613.9 118 397.4 118 397.4 46.7ZM472.9 78.5 472.9 78.8 473.7 78.5 472.9 78.5ZM471.9 79 471.9 79.1 472.3 79 471.9 79Z" fill="#003ae4"/>
<path d="M397.9 47.6 479.4 47.6 513.4 47.8 537.9 48.5 542.6 49 543.4 49.5 542.1 50.5 539 51.5 537.9 51.5 537.1 52 534.9 52.1 534.4 52.5 532.4 52.6 531.9 53.1 529.9 53.1 529.4 53.6 527.4 53.7 526.9 54.1 525.4 54.2 524.9 54.7 523.4 54.7 522.9 55.2 521.4 55.2 520.9 55.7 519.4 55.8 518.9 56.3 517.9 56.3 517.4 56.8 516.4 56.8 515.9 57.3 514.9 57.3 514.4 57.8 513.4 57.8 512.9 58.3 511.9 58.3 511.4 58.8 510.4 58.8 509.9 59.3 509.4 59.3 508.9 59.8 507.9 59.9 507.4 60.4 506.9 60.4 506.4 60.9 505.4 60.9 504.9 61.4 504.4 61.4 503.9 61.9 503.4 61.9 502.9 62.4 502.4 62.4 501.9 62.9 501.4 62.9 500.9 63.4 499.9 63.4 499.4 63.9 498.9 63.9 498.4 64.4 497.9 64.4 497.4 64.9 496.9 64.9 496.4 65.4 495.9 65.4 495.4 65.9 494.9 65.9 493.9 66.9 493.4 66.9 492.9 67.4 492.4 67.4 491.9 67.9 491.4 67.9 490.9 68.4 490.4 68.4 489.4 69.4 488.9 69.4 488.4 69.9 487.9 69.9 487.4 70.4 486.9 70.4 485.9 71.4 485.4 71.4 484.9 71.9 484.4 71.9 483.9 72.4 483.4 72.4 482.9 72.9 482.4 72.9 481.4 73.9 480.9 73.9 480.4 74.4 479.9 74.4 479.4 74.9 478.9 74.9 477.9 75.9 477.4 75.9 476.9 76.4 476.4 76.4 475.9 76.9 475.4 76.9 474.4 78 473.9 78 473.4 78.5 472.9 78.5 472.4 79 471.9 79 470.9 80 470.4 80 469.9 80.5 469.4 80.5 468.9 81 468.4 81 467.4 82 466.9 82 466.9 82.4 472.9 80.4 482.6 76 496.9 68 507.4 63.1 512.4 61.1 516.9 59.6 527.9 56.6 535.9 55.1 548.4 53.1 560.4 51.6 571.9 50.6 576.9 50.3 613.9 50.2 613.9 118 397.4 118 397.4 47.6ZM465.9 82.5 466.5 82.5 465.9 82.5Z" fill="#0058f0"/>
<path d="M397.9 48.1 474.9 48.1 505.9 48.4 517.4 48.7 525.9 49.1 530.4 49.6 532.3 50 533.5 50.5 533.2 51 532.4 51.5 530.2 52.5 525.9 54 525.4 54 524.5 54.5 523.4 54.6 522.9 55 521.4 55.1 520.9 55.6 519.4 55.6 518.9 56.1 517.9 56.1 517.4 56.6 516.4 56.7 515.9 57.2 514.9 57.2 514.4 57.7 513.4 57.7 512.9 58.2 511.9 58.2 511.4 58.7 510.4 58.7 509.9 59.2 509.4 59.3 508.9 59.8 507.9 59.8 507.4 60.3 506.9 60.3 506.4 60.8 505.4 60.8 504.9 61.3 504.4 61.3 503.9 61.8 503.4 61.8 502.9 62.3 502.4 62.3 501.9 62.8 501.4 62.8 500.9 63.3 499.9 63.4 499.4 63.9 498.9 63.9 498.4 64.4 497.9 64.4 497.4 64.9 496.9 64.9 496.4 65.4 495.9 65.4 495.4 65.9 494.9 65.9 493.9 66.9 493.4 66.9 492.9 67.4 492.4 67.4 491.9 67.9 491.4 67.9 490.9 68.4 490.4 68.4 489.4 69.4 488.9 69.4 488.4 69.9 487.9 69.9 487.4 70.4 486.9 70.4 485.9 71.4 485.4 71.4 484.9 71.9 484.4 71.9 483.9 72.4 483.4 72.4 482.9 72.9 482.4 72.9 481.4 73.9 480.9 73.9 480.4 74.4 479.9 74.4 479.4 74.9 478.9 74.9 477.9 75.9 477.4 75.9 476.9 76.4 476.4 76.4 475.9 76.9 475.4 76.9 474.4 77.9 473.9 77.9 473.4 78.4 472.9 78.4 472.4 78.9 471.9 78.9 470.9 79.9 470.4 79.9 469.9 80.4 469.4 80.4 468.9 80.9 468.4 80.9 467.4 82 466.9 82 466.4 82.5 465.9 82.5 465.4 83 464.9 83 463.9 84 463.4 84 462.9 84.5 462.4 84.5 461.4 85.5 460.9 85.5 460.4 86 459.9 86 461.4 86.3 462.9 86.2 464.4 85.7 470.9 83 485 76 498.4 68.6 507.9 64.2 512.4 62.4 516.9 60.9 527.9 57.9 536.4 56.2 547.9 54.4 560.9 52.8 572.4 51.7 576.9 51.5 613.9 51.4 613.9 118 397.4 118 397.4 48.1Z" fill="#0078f0"/>
<path d="M397.9 48.5 469.9 48.6 498.9 48.8 509.9 49.2 517.9 49.6 524.4 50.4 525 50.5 525.7 51 525.9 51.5 525.7 52 524.5 53 523.5 53.5 518.5 56 517.9 56 517.4 56.5 516.4 56.6 515.9 57 514.9 57.1 514.4 57.6 513.4 57.6 512.9 58.1 511.9 58.1 511.4 58.6 510.4 58.7 509.9 59.2 509.4 59.2 508.9 59.7 507.9 59.7 507.4 60.2 506.9 60.2 506.4 60.7 505.4 60.7 504.9 61.2 504.4 61.3 503.9 61.8 503.4 61.8 502.9 62.3 502.4 62.3 501.9 62.8 501.4 62.8 500.9 63.3 499.9 63.3 499.4 63.8 498.9 63.8 498.4 64.3 497.9 64.3 497.4 64.8 496.9 64.8 496.4 65.3 495.9 65.3 495.4 65.8 494.9 65.8 493.9 66.8 493.4 66.8 492.9 67.3 492.4 67.4 491.9 67.8 491.4 67.9 490.9 68.4 490.4 68.4 489.4 69.4 488.9 69.4 488.4 69.9 487.9 69.9 487.4 70.4 486.9 70.4 485.9 71.4 485.4 71.4 484.9 71.9 484.4 71.9 483.9 72.4 483.4 72.4 482.9 72.9 482.4 72.9 481.4 73.9 480.9 73.9 480.4 74.4 479.9 74.4 479.4 74.9 478.9 74.9 477.9 75.9 477.4 75.9 476.9 76.4 476.4 76.4 475.9 76.9 475.4 76.9 474.4 77.9 473.9 77.9 473.4 78.4 472.9 78.4 472.4 78.9 471.9 78.9 470.9 79.9 470.4 79.9 469.9 80.4 469.4 80.4 468.9 80.9 468.4 80.9 467.4 81.9 466.9 81.9 466.4 82.4 465.9 82.4 465.4 82.9 464.9 82.9 463.9 83.9 463.4 83.9 462.9 84.4 462.4 84.4 461.4 85.4 460.9 85.5 460.4 86 459.9 86 459.4 86.5 458.9 86.5 457.9 87.5 457.4 87.5 456.9 88 456.4 88 456.5 89 456.8 89.5 457.9 89.9 458.9 89.8 460.9 89.2 468.1 86 487.4 76 497.9 70.1 506.4 66.1 511.4 64 515.4 62.6 521.4 60.7 526.9 59.3 535.4 57.5 547.4 55.6 560.9 53.9 572.4 52.9 576.9 52.7 613.9 52.6 613.9 118 397.4 118 397.4 48.5Z" fill="#0092e0"/>
<path d="M397.9 49 468.4 49.1 496.9 49.4 507.9 49.8 515.9 50.4 518.4 51 519.5 51.5 520.1 52 520.2 52.5 520.1 53 519.6 53.5 514.5 57 512.7 58 511.9 58 511.4 58.5 510.4 58.6 509.9 59.1 509.4 59.1 508.9 59.6 507.9 59.6 507.4 60.1 506.9 60.1 506.4 60.6 505.4 60.7 504.9 61.2 504.4 61.2 503.9 61.7 503.4 61.7 502.9 62.2 502.4 62.2 501.9 62.7 501.4 62.7 500.9 63.2 499.9 63.3 499.4 63.8 498.9 63.8 498.4 64.3 497.9 64.3 497.4 64.8 496.9 64.8 496.4 65.3 495.9 65.3 495.4 65.8 494.9 65.8 493.9 66.8 493.4 66.8 492.9 67.3 492.4 67.3 491.9 67.8 491.4 67.8 490.9 68.3 490.4 68.3 489.4 69.3 488.9 69.3 488.4 69.8 487.9 69.8 487.4 70.3 486.9 70.3 485.9 71.3 485.4 71.3 484.9 71.8 484.4 71.8 483.9 72.3 483.4 72.3 482.9 72.8 482.4 72.8 481.4 73.8 480.9 73.8 480.4 74.3 479.9 74.3 479.4 74.8 478.9 74.8 477.9 75.8 477.4 75.8 476.9 76.3 476.4 76.3 475.9 76.8 475.4 76.8 474.4 77.8 473.9 77.8 473.4 78.3 472.9 78.4 472.4 78.8 471.9 78.9 470.9 79.9 470.4 79.9 469.9 80.4 469.4 80.4 468.9 80.9 468.4 80.9 467.4 81.9 466.9 81.9 466.4 82.4 465.9 82.4 465.4 82.9 464.9 82.9 463.9 83.9 463.4 83.9 462.9 84.4 462.4 84.4 461.4 85.4 460.9 85.4 460.4 85.9 459.9 85.9 459.4 86.4 458.9 86.4 457.9 87.4 457.4 87.4 456.9 87.9 456.4 88 455.4 89 454.9 89 454.4 89.5 453.9 89.5 453.4 90 453 90 450.4 94 450.2 94.5 450.4 95.1 451.9 94.8 454.4 94 463.4 89.9 471.1 86 498.4 71.2 505.4 67.8 514.4 64.1 525.4 60.8 533.8 59 545.9 57 560.4 55.2 571.9 54.1 576.9 53.8 613.9 53.7 613.9 118 397.4 118 397.4 49Z" fill="#00a6c0"/>
<path d="M397.9 49.5 467.4 49.5 495.4 49.9 504.9 50.4 508.9 50.8 513.4 51.8 514.9 52.4 515.5 53 515.3 54 513.6 56 511.7 57.5 508.6 59.5 507.9 59.5 507.4 60 506.9 60.1 506.4 60.5 505.4 60.6 504.9 61.1 504.4 61.1 503.9 61.6 503.4 61.6 502.9 62.1 502.4 62.2 501.9 62.7 501.4 62.7 500.9 63.2 499.9 63.2 499.4 63.7 498.9 63.7 498.4 64.2 497.9 64.2 497.4 64.7 496.9 64.7 496.4 65.2 495.9 65.3 495.4 65.8 494.9 65.8 493.9 66.8 493.4 66.8 492.9 67.3 492.4 67.3 491.9 67.8 491.4 67.8 490.9 68.3 490.4 68.3 489.4 69.3 488.9 69.3 488.4 69.8 487.9 69.8 487.4 70.3 486.9 70.3 485.9 71.3 485.4 71.3 484.9 71.8 484.4 71.8 483.9 72.3 483.4 72.3 482.9 72.8 482.4 72.8 481.4 73.8 480.9 73.8 480.4 74.3 479.9 74.3 479.4 74.8 478.9 74.8 477.9 75.8 477.4 75.8 476.9 76.3 476.4 76.3 475.9 76.8 475.4 76.8 474.4 77.8 473.9 77.8 473.4 78.3 472.9 78.3 472.4 78.8 471.9 78.8 470.9 79.8 470.4 79.8 469.9 80.3 469.4 80.3 468.9 80.8 468.4 80.8 467.4 81.8 466.9 81.8 466.4 82.3 465.9 82.3 465.4 82.8 464.9 82.9 463.9 83.8 463.4 83.9 462.9 84.4 462.4 84.4 461.4 85.4 460.9 85.4 460.4 85.9 459.9 85.9 459.4 86.4 458.9 86.4 457.9 87.4 457.4 87.4 456.9 87.9 456.4 87.9 455.4 88.9 454.9 88.9 454.4 89.4 453.9 89.4 453.4 89.9 452.9 90 451.9 91 451.4 91 450.9 91.5 450.4 91.5 449.9 92 449.5 92 446.5 95 439.2 101.5 438.5 102.5 438.4 103 438.9 103.2 441.3 102.5 444.7 101 457.9 94.5 473.9 86 501.4 71 512.4 66.1 517.4 64.4 522.9 62.7 531.9 60.6 543.9 58.5 558.9 56.5 570.9 55.4 576.9 55 613.9 54.9 613.9 118 397.4 118 397.4 49.5Z" fill="#00b69c"/>
<path d="M397.9 49.9 465.9 50 493.9 50.5 501.4 51.1 506.9 51.9 510.4 53 511.2 54 511.2 55.5 510.6 56.5 509.1 58 506 60.5 505.4 60.5 504.9 61 504.4 61.1 503.9 61.6 503.4 61.6 502.9 62.1 502.4 62.1 501.9 62.6 501.4 62.6 500.9 63.1 499.9 63.2 499.4 63.7 498.9 63.7 498.4 64.2 497.9 64.2 497.4 64.7 496.9 64.7 496.4 65.2 495.9 65.2 495.4 65.7 494.9 65.7 493.9 66.7 493.4 66.7 492.9 67.2 492.4 67.2 491.9 67.7 491.4 67.7 490.9 68.2 490.4 68.3 489.4 69.2 488.9 69.3 488.4 69.7 487.9 69.8 487.4 70.3 486.9 70.3 485.9 71.2 485.4 71.3 484.9 71.8 484.4 71.8 483.9 72.3 483.4 72.3 482.9 72.8 482.4 72.8 481.4 73.8 480.9 73.8 480.4 74.3 479.9 74.3 479.4 74.8 478.9 74.8 477.9 75.7 477.4 75.8 476.9 76.3 476.4 76.3 475.9 76.8 475.4 76.8 474.4 77.8 473.9 77.8 473.4 78.3 472.9 78.3 472.4 78.8 471.9 78.8 470.9 79.8 470.4 79.8 469.9 80.3 469.4 80.3 468.9 80.8 468.4 80.8 467.4 81.8 466.9 81.8 466.4 82.3 465.9 82.3 465.4 82.8 464.9 82.8 463.9 83.8 463.4 83.8 462.9 84.3 462.4 84.3 461.4 85.3 460.9 85.3 460.4 85.8 459.9 85.8 459.4 86.3 458.9 86.3 457.9 87.3 457.4 87.4 456.9 87.8 456.4 87.9 455.4 88.9 454.9 88.9 454.4 89.4 453.9 89.4 453.4 89.9 452.9 89.9 451.9 90.9 451.4 90.9 450.9 91.4 450.4 91.4 449.9 91.9 449.4 91.9 448.4 92.9 447.9 93 447.4 93.5 446.9 93.5 446.4 94 446 94 425.4 110.5 421.7 114 421.4 114.5 421.9 114.7 422.9 114.5 426.4 113 435.2 108.5 458.3 96 500.4 72.8 510.9 68 514.9 66.5 519.9 64.8 528.4 62.5 537.4 60.8 549.9 58.8 564.9 57.1 576.4 56.2 613.9 56.1 613.9 118 397.4 118 397.4 49.9Z" fill="#00c274"/>
<path d="M397.9 50.4 460.9 50.5 476.9 50.7 488.4 51.1 497.9 51.8 504.4 52.9 506.8 54 508.1 55.5 508.1 56 507.5 57.5 506 59.5 503.8 61.5 503.4 61.5 502.9 62 502.4 62 501.9 62.5 501.4 62.6 500.9 63.1 499.9 63.1 499.4 63.6 498.9 63.6 498.4 64.1 497.9 64.1 497.4 64.6 496.9 64.7 496.4 65.2 495.9 65.2 495.4 65.7 494.9 65.7 493.9 66.7 493.4 66.7 492.9 67.2 492.4 67.2 491.9 67.7 491.4 67.7 490.9 68.2 490.4 68.2 489.4 69.2 488.9 69.2 488.4 69.7 487.9 69.7 487.4 70.2 486.9 70.2 485.9 71.2 485.4 71.2 484.9 71.7 484.4 71.7 483.9 72.2 483.4 72.2 482.9 72.7 482.4 72.7 481.4 73.7 480.9 73.7 480.4 74.2 479.9 74.2 479.4 74.7 478.9 74.7 477.9 75.7 477.4 75.7 476.9 76.2 476.4 76.2 475.9 76.7 475.4 76.7 474.4 77.7 473.9 77.7 473.4 78.2 472.9 78.2 472.4 78.7 471.9 78.8 470.9 79.7 470.4 79.8 469.9 80.2 469.4 80.3 468.9 80.7 468.4 80.8 467.4 81.7 466.9 81.8 466.4 82.3 465.9 82.3 465.4 82.8 464.9 82.8 463.9 83.8 463.4 83.8 462.9 84.3 462.4 84.3 461.4 85.3 460.9 85.3 460.4 85.8 459.9 85.8 459.4 86.3 458.9 86.3 457.9 87.3 457.4 87.3 456.9 87.8 456.4 87.8 455.4 88.8 454.9 88.8 454.4 89.3 453.9 89.3 453.4 89.8 452.9 89.9 451.9 90.8 451.4 90.9 450.9 91.4 450.4 91.4 449.9 91.9 449.4 91.9 448.4 92.9 447.9 92.9 447.4 93.4 446.9 93.4 446.4 93.9 445.9 93.9 444.9 94.9 444.4 95 443.9 95.4 443.4 95.5 442.4 96.5 441.9 96.5 441.2 97 428.9 106.3 415.9 115.8 412.4 118 397.4 118 397.4 50.4ZM574.4 57.5 613.9 57.3 613.9 118 422.4 118 444.4 105.4 497.4 75.8 504.4 72.2 512.4 68.7 517.4 66.9 523.9 64.9 529.9 63.4 535.9 62.2 545.9 60.6 555.9 59.3 564.4 58.3 574.2 57.5Z" fill="#12cb50"/>
<path d="M397.9 51.2 460.4 51.3 475.4 51.6 486.4 52 494.9 52.6 500.2 53.5 502.4 54.2 504.7 55.5 505 56 505.2 57 504.5 59.5 502.8 61.5 500.9 63 499.9 63.1 499.4 63.6 498.9 63.6 498.4 64.1 497.9 64.1 497.4 64.6 496.9 64.6 496.4 65.1 495.9 65.1 495.4 65.6 494.9 65.6 493.9 66.6 493.4 66.6 492.9 67.1 492.4 67.2 491.9 67.6 491.4 67.7 490.9 68.2 490.4 68.2 489.4 69.2 488.9 69.2 488.4 69.7 487.9 69.7 487.4 70.2 486.9 70.2 485.9 71.2 485.4 71.2 484.9 71.7 484.4 71.7 483.9 72.2 483.4 72.2 482.9 72.7 482.4 72.7 481.4 73.7 480.9 73.7 480.4 74.2 479.9 74.2 479.4 74.7 478.9 74.7 477.9 75.7 477.4 75.7 476.9 76.2 476.4 76.2 475.9 76.7 475.4 76.7 474.4 77.7 473.9 77.7 473.4 78.2 472.9 78.2 472.4 78.7 471.9 78.7 470.9 79.7 470.4 79.7 469.9 80.2 469.4 80.2 468.9 80.7 468.4 80.7 467.4 81.7 466.9 81.7 466.4 82.2 465.9 82.2 465.4 82.7 464.9 82.7 463.9 83.7 463.4 83.7 462.9 84.2 462.4 84.2 461.4 85.2 460.9 85.2 460.4 85.7 459.9 85.7 459.4 86.2 458.9 86.3 457.9 87.2 457.4 87.3 456.9 87.8 456.4 87.8 455.4 88.7 454.9 88.8 454.4 89.3 453.9 89.3 453.4 89.8 452.9 89.8 451.9 90.8 451.4 90.8 450.9 91.3 450.4 91.3 449.9 91.8 449.4 91.8 448.4 92.8 447.9 92.8 447.4 93.3 446.9 93.4 446.4 93.8 445.9 93.9 444.9 94.8 444.4 94.9 443.9 95.4 443.4 95.4 442.4 96.4 441.9 96.4 441.4 96.9 440.9 96.9 440.4 97.4 439.9 97.5 438.9 98.4 438.4 98.5 437.9 99 437.6 99 419.4 112.3 414 116 410.8 118 397.4 118 397.4 51.2ZM600.4 58.5 613.9 58.5 613.9 118 425.6 118 446.4 105.9 497.9 76.8 502.4 74.5 507.9 71.9 516.4 68.4 524.9 65.9 533.4 63.9 545.4 61.9 558.4 60.2 575.4 58.6 600.3 58.5Z" fill="#36d130"/>
<path d="M397.9 52 461.9 52.2 476.9 52.5 487.4 53 495.4 54 497.6 54.5 500.7 55.5 501.4 56 502.3 57 502.9 59.5 501.8 61.5 499.4 63.5 498.9 63.5 498.4 64 497.9 64.1 497.4 64.5 496.9 64.6 496.4 65.1 495.9 65.1 495.4 65.6 494.9 65.6 493.9 66.6 493.4 66.6 492.9 67.1 492.4 67.1 491.9 67.6 491.4 67.6 490.9 68.1 490.4 68.1 489.4 69.1 488.9 69.1 488.4 69.6 487.9 69.7 487.4 70.2 486.9 70.2 485.9 71.1 485.4 71.2 484.9 71.6 484.4 71.7 483.9 72.1 483.4 72.2 482.9 72.7 482.4 72.7 481.4 73.6 480.9 73.7 480.4 74.1 479.9 74.2 479.4 74.7 478.9 74.7 477.9 75.6 477.4 75.7 476.9 76.1 476.4 76.2 475.9 76.7 475.4 76.7 474.4 77.6 473.9 77.7 473.4 78.2 472.9 78.2 472.4 78.7 471.9 78.7 470.9 79.6 470.4 79.7 469.9 80.2 469.4 80.2 468.9 80.7 468.4 80.7 467.4 81.7 466.9 81.7 466.4 82.2 465.9 82.2 465.4 82.7 464.9 82.7 463.9 83.7 463.4 83.7 462.9 84.2 462.4 84.2 461.4 85.2 460.9 85.2 460.4 85.7 459.9 85.7 459.4 86.2 458.9 86.2 457.9 87.2 457.4 87.2 456.9 87.7 456.4 87.7 455.4 88.7 454.9 88.7 454.4 89.2 453.9 89.2 453.4 89.7 452.9 89.8 451.9 90.7 451.4 90.8 450.9 91.2 450.4 91.3 449.9 91.7 449.4 91.8 448.4 92.7 447.9 92.8 447.4 93.3 446.9 93.3 446.4 93.8 445.9 93.8 444.9 94.8 444.4 94.8 443.9 95.3 443.4 95.3 442.4 96.3 441.9 96.3 440.4 97.3 439.9 97.4 438.9 98.3 438.4 98.4 437.9 98.9 437.4 98.9 436.4 99.9 435.9 99.9 435.4 100.4 434.9 100.5 433.9 101.4 433.4 101.5 418.4 112.3 409.8 118 397.4 118 397.4 52ZM572.4 60 576.9 59.8 613.9 59.7 613.9 118 428.4 118 447.4 106.8 497.4 78.4 503.9 75 512.9 71 517.4 69.3 523.9 67.3 529.4 65.9 535.4 64.7 551.9 62.1 562.4 60.9 572.2 60Z" fill="#5ed818"/>
<path d="M397.9 52.8 460.4 53 473.9 53.3 483.4 53.8 490.4 54.5 496.4 55.7 498.1 56.5 499.4 57.5 500.1 58.5 501.1 59.5 501.1 60.5 500.3 62 497.4 64.5 496.9 64.5 496.4 65 495.9 65.1 495.4 65.5 494.9 65.6 493.9 66.5 493.4 66.6 492.9 67.1 492.4 67.1 491.9 67.6 491.4 67.6 490.9 68.1 490.4 68.1 489.4 69.1 488.9 69.1 488.4 69.6 487.9 69.6 487.4 70.1 486.9 70.1 485.9 71.1 485.4 71.1 484.9 71.6 484.4 71.6 483.9 72.1 483.4 72.1 482.9 72.6 482.4 72.6 481.4 73.6 480.9 73.6 480.4 74.1 479.9 74.1 479.4 74.6 478.9 74.6 477.9 75.6 477.4 75.6 476.9 76.1 476.4 76.1 475.9 76.6 475.4 76.6 474.4 77.6 473.9 77.6 473.4 78.1 472.9 78.1 472.4 78.6 471.9 78.6 470.9 79.6 470.4 79.6 469.9 80.1 469.4 80.1 468.9 80.6 468.4 80.7 467.4 81.6 466.9 81.6 466.4 82.1 465.9 82.2 465.4 82.6 464.9 82.7 463.9 83.6 463.4 83.7 462.9 84.1 462.4 84.2 461.4 85.1 460.9 85.2 460.4 85.6 459.9 85.7 459.4 86.1 458.9 86.2 457.9 87.1 457.4 87.2 456.9 87.7 456.4 87.7 455.4 88.6 454.9 88.7 454.4 89.2 453.9 89.2 453.4 89.7 452.9 89.7 451.9 90.7 451.4 90.7 450.9 91.2 450.4 91.2 449.9 91.7 449.4 91.7 448.4 92.7 447.9 92.7 447.4 93.2 446.9 93.2 446.4 93.7 445.9 93.7 444.9 94.7 444.4 94.7 443.9 95.2 443.4 95.3 442.4 96.2 441.9 96.3 440.4 97.2 439.9 97.3 438.9 98.2 438.4 98.3 437.9 98.8 437.4 98.8 436.4 99.7 434.9 100.4 433.9 101.3 433.4 101.4 432.9 101.8 431.4 102.5 430.4 103.4 429.9 103.5 416.9 112.8 408.9 118 397.4 118 397.4 52.8ZM574.9 61 613.9 60.8 613.9 118 431 118 448.4 107.7 498.4 79.2 505.4 75.6 513.9 71.9 518.9 70.1 524.9 68.3 530.4 66.9 536.9 65.6 546.9 64 556.9 62.7 564.9 61.8 574.7 61Z" fill="#8ae208"/>
<path d="M397.9 53.8 456.4 53.9 470.9 54.2 480.9 54.7 489 55.5 493.4 56.6 495.5 57.5 497 58.5 499 59.5 499.5 61 499.2 62 497.8 63.5 496.1 65 495.3 65.5 494.9 65.5 493.8 66.5 493.4 66.5 492.9 67 492.4 67 491.9 67.5 491.4 67.6 490.9 68 490.4 68.1 489.4 69 488.9 69.1 488.4 69.6 487.9 69.6 487.4 70.1 486.9 70.1 485.9 71.1 485.4 71.1 484.9 71.6 484.4 71.6 483.9 72.1 483.4 72.1 482.9 72.6 482.4 72.6 481.4 73.6 480.9 73.6 480.4 74.1 479.9 74.1 479.4 74.6 478.9 74.6 477.9 75.6 477.4 75.6 476.9 76.1 476.4 76.1 475.9 76.6 475.4 76.6 474.4 77.6 473.9 77.6 473.4 78.1 472.9 78.1 472.4 78.6 471.9 78.6 470.9 79.6 470.4 79.6 469.9 80.1 469.4 80.1 468.9 80.6 468.4 80.6 467.4 81.6 466.9 81.6 466.4 82.1 465.9 82.1 465.4 82.6 464.9 82.6 463.9 83.6 463.4 83.6 462.9 84.1 462.4 84.1 461.4 85.1 460.9 85.1 460.4 85.6 459.9 85.6 459.4 86.1 458.9 86.1 457.9 87.1 457.4 87.1 456.9 87.6 456.4 87.6 455.4 88.6 454.9 88.6 454.4 89.1 453.9 89.1 453.4 89.6 452.9 89.7 451.9 90.6 451.4 90.6 450.9 91.1 450.4 91.2 449.9 91.6 449.4 91.7 448.4 92.6 447.9 92.7 447.4 93.1 446.9 93.2 446.4 93.6 445.9 93.7 444.9 94.6 444.4 94.7 443.9 95.1 443.4 95.2 442.4 96.1 441.9 96.2 441.4 96.6 440.9 96.7 440.4 97.2 439.9 97.2 438.9 98.1 437.4 98.7 436.4 99.6 434.9 100.3 433.9 101.1 431.4 102.3 430.4 103.2 428.9 103.9 413.4 114.7 408.2 118 397.4 118 397.4 53.8ZM570.9 62.5 576.9 62.1 613.9 62 613.9 118 433.4 118 447.8 109.5 473.9 94.5 499.4 80 506.3 76.5 514.2 73 518.4 71.5 524.9 69.5 530.9 68 535.9 67 551.9 64.5 560.4 63.5 570.5 62.5Z" fill="#aee900"/>
<path d="M397.9 54.7 453.4 54.9 467.4 55.1 477.8 55.5 484.9 56.3 490.5 57.5 496.6 59.5 497.7 60.5 498 61.5 498 62 497.3 63 495.4 65 491.7 67.5 491.4 67.5 490.9 68 490.4 68 489.4 69 488.9 69 488.4 69.5 487.9 69.6 487.4 70 486.9 70.1 485.9 71 485.4 71.1 484.9 71.5 484.4 71.6 483.9 72 483.4 72.1 482.9 72.5 482.4 72.6 481.4 73.5 480.9 73.6 480.4 74 479.9 74.1 479.4 74.5 478.9 74.6 477.9 75.5 477.4 75.6 476.9 76 476.4 76.1 475.9 76.5 475.4 76.6 474.4 77.5 473.9 77.6 473.4 78 472.9 78.1 472.4 78.5 471.9 78.6 470.9 79.5 470.4 79.6 469.9 80 469.4 80.1 468.9 80.6 468.4 80.6 467.4 81.5 466.9 81.6 466.4 82 465.9 82.1 465.4 82.6 464.9 82.6 463.9 83.5 463.4 83.6 462.9 84.1 462.4 84.1 461.4 85 460.9 85.1 460.4 85.5 459.9 85.6 459.4 86.1 458.9 86.1 457.9 87 457.4 87.1 456.9 87.6 456.4 87.6 455.4 88.5 454.9 88.6 454.4 89.1 453.9 89.1 453.4 89.6 452.9 89.6 451.9 90.5 451.4 90.6 450.9 91.1 450.4 91.1 449.9 91.6 449.4 91.6 448.4 92.5 447.9 92.6 447.4 93.1 446.9 93.1 446.4 93.6 445.9 93.6 444.9 94.5 444.4 94.6 443.9 95.1 443.4 95.1 442.4 96 440.9 96.6 440.4 97.1 439.9 97.1 438.9 98 437.4 98.6 436.4 99.5 434.9 100.1 433.9 101 431.4 102.2 430.4 103 428.9 103.7 427.9 104.5 422.8 107.5 422.4 108 421.1 108.5 420.9 109.1 420.3 109 420.3 109.5 419.4 110.1 418.9 109.8 418.6 110 418.9 110.5 410.9 115.9 407.6 118 405.5 118 405.4 117.8 405 118 397.4 118 397.4 54.7ZM417.8 110.5 417.9 110.7 418 110.5 417.9 110.4ZM416.1 111.5 416.4 111.8 416.6 111.5 416.4 111.3ZM415.2 112 415.4 112.1 415.4 111.9ZM414.4 112.5ZM413.5 113 413.9 113.2 414.1 113 413.9 112.8ZM412.7 113.5 412.9 113.6 412.9 113.4ZM411.8 114 411.9 113.9ZM411 114.5 411.4 114.7 411.5 114.5 411.4 114.2ZM410.1 115 410.4 115.1 410.4 114.8ZM409.3 115.5 409.4 115.4ZM408.4 116 408.9 116.2 409 116 408.9 115.7ZM407.6 116.5 407.9 116.6 407.9 116.3ZM406.7 117 406.9 117.1 406.9 116.9ZM405.9 117.5ZM574.4 63.5 613.9 63.3 613.9 118 436 118 475.9 94.8 499.4 81.5 505.9 78.1 514.9 74.1 519.4 72.5 525.4 70.7 530.9 69.3 536.9 68.1 546.4 66.6 555.9 65.3 564.4 64.3 574 63.5Z" fill="#caef00"/>
<path d="M397.9 55.8 450.4 55.9 463.9 56.2 473.9 56.6 482.9 57.5 493.6 59.5 495.5 60.5 496.1 61 496.6 62 495.8 63.5 494.6 65 488.3 69.5 487.9 69.5 487.4 70 486.9 70 485.9 70.9 485.4 71 484.9 71.5 484.4 71.5 483.9 72 483.4 72 482.9 72.5 482.4 72.5 481.4 73.4 480.9 73.5 480.4 74 479.9 74 479.4 74.5 478.9 74.5 477.9 75.4 477.4 75.5 476.9 76 476.4 76 475.9 76.5 475.4 76.5 473.4 78 472.9 78 472.4 78.5 471.9 78.5 470.9 79.4 470.4 79.5 469.9 80 469.4 80 468.9 80.5 468.4 80.5 467.4 81.4 466.9 81.5 466.4 82 465.9 82 465.4 82.5 464.9 82.6 463.9 83.5 463.4 83.5 462.9 84 462.4 84 460.4 85.5 459.9 85.5 459.4 86 458.9 86.1 457.8 87 457.4 87 456.9 87.5 456.4 87.5 454.4 89 453.9 89 453.4 89.5 452.9 89.6 451.9 90.4 451.4 90.5 450.9 91 450.4 91 449.9 91.5 449.4 91.6 448.4 92.4 447.3 93 446.9 93 446.4 93.5 445.9 93.6 444.9 94.3 443.4 95 442.9 95.5 439.9 97 431.4 102.1 414.7 112 415.4 112.5 414.4 113.2 414.3 113 414.6 112.5 414.4 112.2 412.4 113.3 412.1 113.5 412.9 113.8 413.4 113.2 414 113.5 411.9 114.9 411.7 114.5 412.1 114 411.9 113.6 409.9 114.8 409.6 115 410.4 115.3 410.9 114.7 411.8 115 407 118 405.6 118 406 117.5 405.9 117.2 404.5 118 397.4 118 397.4 55.8ZM408.7 115.5 407 116.5 407.9 116.8 408.4 116.2 408.9 116.3 409.6 115.5 409.4 115.1 408.9 115.4ZM406.2 117 406.9 117.2 407.1 117 406.9 116.6 406.4 116.9ZM571.4 65 576.9 64.7 613.9 64.6 613.9 118 438.5 118 476.9 95.7 500.2 82.5 505.9 79.5 514.9 75.5 518.9 74 524.9 72.2 530.4 70.7 535.9 69.6 551.9 67.1 562.4 65.8 571.2 65ZM417.4 110.7 417.6 111 417.4 111.2 417.2 111ZM415.9 111.8 416.2 112 415.9 112.2 415.8 112Z" fill="#e2f500"/>
<path d="M397.9 57.2 448.4 57.3 470.4 57.8 482.4 58.7 489.9 59.5 493 60.5 494.4 61.3 495 62 494.6 63.5 493.7 65 492 66.5 487 70 438.4 97.7 403.9 118 397.4 118 397.4 57.2ZM574.9 66 613.9 65.8 613.9 118 441.1 118 477.9 96.6 501.4 83.3 508.4 79.7 516.4 76.3 521.4 74.5 526.9 72.9 532.4 71.6 538.4 70.5 547.9 68.9 557.9 67.6 574.9 66ZM414.9 112.5ZM413.4 113.5ZM412.4 113.8 412.7 114 412.4 114.2 412.3 114ZM411.9 114.5ZM410.9 114.9 411.3 115 410.9 115.2 410.8 115ZM409.9 115.3 410.5 115.5 409.9 115.9 409.7 115.5ZM409.4 115.9 409.8 116 409.4 116.2 409.3 116ZM408.4 116.3 409 116.5 408.4 116.8 408.2 116.5ZM407.4 116.8 408.1 117 406.5 118 405.7 118 406.4 117.2 406.9 117.4 407.2 117Z" fill="#f5fc00"/>
<path d="M397.9 58.7 456.9 58.7 479.9 59.2 484.9 59.6 489.9 60.5 491.4 61 492.9 61.8 493.2 62 493.3 63 493 64.5 491.8 66 486.5 70 439.4 96.8 403.3 118 397.4 118 397.4 58.7ZM571.9 67.5 576.9 67.2 613.9 67.1 613.9 118 443.6 118 478.9 97.5 501.8 84.5 508.7 81 516.7 77.5 526 74.5 531.9 73 537 72 553.1 69.5 561.9 68.4 571.9 67.5ZM409.9 115.4 410.1 115.5 409.8 115.5ZM408.4 116.5ZM407.4 116.9 407.7 117 407.4 117.2 407.3 117ZM406.4 117.3 406.9 117.5 406.4 117.8 406.3 117.5ZM405.9 117.9 406.1 118 405.9 118Z" fill="#fff300"/>
<path d="M447.4 59.5 470.9 59.5 481.9 60.1 486.9 60.8 490.4 61.8 490.9 62 491.3 62.5 491.7 64 491.5 65 490.5 66.5 486 70 437.9 97.2 402.6 118 397.4 118 397.4 59.7 447.2 59.5ZM590.4 68.5 613.9 68.5 613.9 118 446.3 118 480.9 97.9 503.4 85.2 511.9 81 519.4 78 526.4 75.8 532.9 74.2 540.9 72.7 551.4 71.1 563.4 69.6 574.4 68.7 590.2 68.5ZM406.4 117.5Z" fill="#ffdc00"/>
<path d="M446.4 60.5 464.9 60.2 474.4 60.4 481.4 60.9 484.9 61.3 488 62 489.7 63.5 490.1 65 489.8 65.5 489.9 66 489.6 66.5 485.3 70 438.9 96.2 401.8 118 397.4 118 397.4 61 419.9 61 439.9 60.7 446 60.5ZM574.9 70 613.9 69.8 613.9 118 448.9 118 481.9 98.9 503.4 86.7 510.4 83.2 517.9 79.9 522.9 78.2 528.4 76.6 533.4 75.5 539.4 74.3 548.4 72.9 557.9 71.6 574.6 70Z" fill="#ffc400"/>
<path d="M450.9 61.5 461.4 61.1 466.9 61.1 475.9 61.3 481.9 61.7 483.9 62 486.9 63.4 488.1 64.5 488.3 65 488.3 65.5 488.7 66 488.5 66.5 488.1 67 484.6 70 456.4 86 438.9 95.7 400.9 118 397.4 118 397.4 62.8 419.9 62.8 439.9 62.3 450.6 61.5ZM572.9 71.5 576.9 71.3 613.9 71.2 613.9 118 451.6 118 483.6 99.5 504.4 87.7 511.4 84.2 518.4 81.2 522.9 79.6 528.4 78 538.9 75.8 555.4 73.3 572.6 71.5Z" fill="#ffac00"/>
<path d="M461.9 62 473.4 62.1 479.9 62.7 482.4 63.3 484.4 64 485.9 65 486.2 65.5 487.1 66 487.2 66.5 486 68 483.8 70 456.5 85.5 438.9 95.1 399.9 118 397.4 118 397.4 64.7 419.9 64.7 439.9 63.8 449.4 62.7 461.9 62ZM571.4 73 576.9 72.6 613.9 72.5 613.9 118 454.3 118 485.4 100 504.9 89 511.8 85.5 518.8 82.5 526.4 80 532.2 78.5 537 77.5 552.7 75 571 73Z" fill="#ff9400"/>
<path d="M460.9 63.5 469.9 63.5 477.4 64 481.4 64.8 483.1 65.5 485.1 66 485.6 66.5 485.4 67 484.7 68 482.8 70 465.4 80 437.4 95.3 398.8 118 397.4 118 397.4 67.6 419.9 67.6 439.9 66.1 448.9 64.5 460.5 63.5ZM573.9 74.5 577.4 74.3 613.9 74.2 613.9 118 457.7 118 485.9 101.7 505.9 90.4 512.9 86.9 519.9 83.9 524.9 82.2 529.9 80.8 539.9 78.7 548.4 77.3 557.4 76.1 573.7 74.5Z" fill="#ff7c00"/>
<path d="M461.9 65.5 468.9 65.4 479.9 65.7 482.4 66.1 483.3 66.5 483.5 67 482.7 68.5 481.5 70 464.3 80 436.4 95.1 397.4 118 397.4 72.6 419.9 72.6 439.9 70.6 445.4 68.7 450.9 67 455.4 66.2 461.7 65.5ZM590.4 76 613.9 76 613.9 118 461.2 118 487.4 102.9 507.5 91.5 516.4 87.2 523.4 84.5 529.9 82.6 535.9 81.2 545.4 79.5 554.4 78.3 564.9 77 574.9 76.1 590.2 76Z" fill="#ff6400"/>
<path d="M464.9 66.5 473.9 66.2 478.9 66.4 479.6 66.5 480.5 67 480.7 68 480.5 69 479.9 70 462.9 80 434.4 95.2 397.4 117 397.4 75.7 419.9 75.7 439.9 73.5 446.9 70.8 454.4 68.4 459.8 67 464.6 66.5ZM573.4 78 577.4 77.8 613.9 77.7 613.9 118 464.7 118 487.9 104.6 507.9 93.2 514.9 89.8 521.4 87 530.9 84.1 540.9 82 557.4 79.6 573.2 78Z" fill="#ff4c00"/>
<path d="M463.9 67.5 469.9 67.3 473.9 67.6 475.4 68 476.5 68.5 477 69 477.4 70 461 80 432.5 95 397.4 115.6 397.4 77.3 419.9 77.3 439.9 75 444.5 73 451.5 70.5 459.9 68.1 461.9 67.7 463.8 67.5ZM577.4 79.5 613.9 79.4 613.9 118 468.2 118 485.4 108 507.4 95.5 516.4 91 522.4 88.5 532.6 85.5 537.2 84.5 545.7 83 552.4 82 564.7 80.5 577.3 79.5Z" fill="#ff3a00"/>
<path d="M465.4 70 469.9 70.1 471.4 70.5 471.5 71 463.5 76.5 457.8 80 449.1 84.5 439.9 89 429.1 95 397.4 113.6 397.4 80.9 419.9 80.9 439.9 78.4 446.9 75.2 454.4 72.5 461.9 70.3 465.4 70ZM574.4 82.5 577.4 82.3 613.9 82.2 613.9 118 473.8 118 510.4 97.1 517.4 93.7 523.4 91.2 532.4 88.5 542.4 86.4 558.9 84 574.1 82.5Z" fill="#ff2e00"/>
<path d="M397.9 86.8 412.4 86.9 419.9 87.3 426.2 87 428.5 87.5 429 88 429 88.5 428.6 89.5 427.2 91 421.3 95.5 397.4 109.7 397.4 86.8ZM571.9 87 577.4 86.6 613.9 86.5 613.9 118 482.3 118 512.9 100.6 519.9 97.2 525.4 95 533.9 92.5 542.4 90.7 555.4 88.8 571.6 87Z" fill="#fe1e00"/><path d="M397.4 47.6 479.4 47.6 513.4 47.8 537.9 48.5 542.6 49 543.4 49.5 542.1 50.5 539 51.5 537.9 51.5 537.1 52 534.9 52.1 534.4 52.5 532.4 52.6 531.9 53.1 529.9 53.1 529.4 53.6 527.4 53.7 526.9 54.1 525.4 54.2 524.9 54.7 523.4 54.7 522.9 55.2 521.4 55.2 520.9 55.7 519.4 55.8 518.9 56.3 517.9 56.3 517.4 56.8 516.4 56.8 515.9 57.3 514.9 57.3 514.4 57.8 513.4 57.8 512.9 58.3 511.9 58.3 511.4 58.8 510.4 58.8 509.9 59.3 509.4 59.3 508.9 59.8 507.9 59.9 507.4 60.4 506.9 60.4 506.4 60.9 505.4 60.9 504.9 61.4 504.4 61.4 503.9 61.9 503.4 61.9 502.9 62.4 502.4 62.4 501.9 62.9 501.4 62.9 500.9 63.4 499.9 63.4 499.4 63.9 498.9 63.9 498.4 64.4 497.9 64.4 497.4 64.9 496.9 64.9 496.4 65.4 495.9 65.4 495.4 65.9 494.9 65.9 493.9 66.9 493.4 66.9 492.9 67.4 492.4 67.4 491.9 67.9 491.4 67.9 490.9 68.4 490.4 68.4 489.4 69.4 488.9 69.4 488.4 69.9 487.9 69.9 487.4 70.4 486.9 70.4 485.9 71.4 485.4 71.4 484.9 71.9 484.4 71.9 483.9 72.4 483.4 72.4 482.9 72.9 482.4 72.9 481.4 73.9 480.9 73.9 480.4 74.4 479.9 74.4 479.4 74.9 478.9 74.9 477.9 75.9 477.4 75.9 476.9 76.4 476.4 76.4 475.9 76.9 475.4 76.9 474.4 78 473.9 78 473.4 78.5 472.9 78.5 472.4 79 471.9 79 470.9 80 470.4 80 469.9 80.5 469.4 80.5 468.9 81 468.4 81 467.4 82 466.9 82 466.9 82.4 472.9 80.4 482.6 76 496.9 68 507.4 63.1 512.4 61.1 516.9 59.6 527.9 56.6 535.9 55.1 548.4 53.1 560.4 51.6 571.9 50.6 576.9 50.3 613.9 50.2M465.9 82.5 466.5 82.5 466.4 82.5Z" fill="none" stroke="#000" stroke-width="0.3" opacity="0.35"/>
<path d="M397.4 48.5 469.9 48.6 498.9 48.8 509.9 49.2 517.9 49.6 524.4 50.4 525 50.5 525.7 51 525.9 51.5 525.7 52 524.5 53 523.5 53.5 518.5 56 517.9 56 517.4 56.5 516.4 56.6 515.9 57 514.9 57.1 514.4 57.6 513.4 57.6 512.9 58.1 511.9 58.1 511.4 58.6 510.4 58.7 509.9 59.2 509.4 59.2 508.9 59.7 507.9 59.7 507.4 60.2 506.9 60.2 506.4 60.7 505.4 60.7 504.9 61.2 504.4 61.3 503.9 61.8 503.4 61.8 502.9 62.3 502.4 62.3 501.9 62.8 501.4 62.8 500.9 63.3 499.9 63.3 499.4 63.8 498.9 63.8 498.4 64.3 497.9 64.3 497.4 64.8 496.9 64.8 496.4 65.3 495.9 65.3 495.4 65.8 494.9 65.8 493.9 66.8 493.4 66.8 492.9 67.3 492.4 67.4 491.9 67.8 491.4 67.9 490.9 68.4 490.4 68.4 489.4 69.4 488.9 69.4 488.4 69.9 487.9 69.9 487.4 70.4 486.9 70.4 485.9 71.4 485.4 71.4 484.9 71.9 484.4 71.9 483.9 72.4 483.4 72.4 482.9 72.9 482.4 72.9 481.4 73.9 480.9 73.9 480.4 74.4 479.9 74.4 479.4 74.9 478.9 74.9 477.9 75.9 477.4 75.9 476.9 76.4 476.4 76.4 475.9 76.9 475.4 76.9 474.4 77.9 473.9 77.9 473.4 78.4 472.9 78.4 472.4 78.9 471.9 78.9 470.9 79.9 470.4 79.9 469.9 80.4 469.4 80.4 468.9 80.9 468.4 80.9 467.4 81.9 466.9 81.9 466.4 82.4 465.9 82.4 465.4 82.9 464.9 82.9 463.9 83.9 463.4 83.9 462.9 84.4 462.4 84.4 461.4 85.4 460.9 85.5 460.4 86 459.9 86 459.4 86.5 458.9 86.5 457.9 87.5 457.4 87.5 456.9 88 456.4 88 456.5 89 456.8 89.5 457.9 89.9 458.9 89.8 460.9 89.2 468.1 86 487.4 76 497.9 70.1 506.4 66.1 511.4 64 515.4 62.6 521.4 60.7 526.9 59.3 535.4 57.5 547.4 55.6 560.9 53.9 572.4 52.9 576.9 52.7 613.9 52.6" fill="none" stroke="#000" stroke-width="0.3" opacity="0.35"/>
<path d="M397.4 49.5 467.4 49.5 495.4 49.9 504.9 50.4 508.9 50.8 513.4 51.8 514.9 52.4 515.5 53 515.3 54 513.6 56 511.7 57.5 508.6 59.5 507.9 59.5 507.4 60 506.9 60.1 506.4 60.5 505.4 60.6 504.9 61.1 504.4 61.1 503.9 61.6 503.4 61.6 502.9 62.1 502.4 62.2 501.9 62.7 501.4 62.7 500.9 63.2 499.9 63.2 499.4 63.7 498.9 63.7 498.4 64.2 497.9 64.2 497.4 64.7 496.9 64.7 496.4 65.2 495.9 65.3 495.4 65.8 494.9 65.8 493.9 66.8 493.4 66.8 492.9 67.3 492.4 67.3 491.9 67.8 491.4 67.8 490.9 68.3 490.4 68.3 489.4 69.3 488.9 69.3 488.4 69.8 487.9 69.8 487.4 70.3 486.9 70.3 485.9 71.3 485.4 71.3 484.9 71.8 484.4 71.8 483.9 72.3 483.4 72.3 482.9 72.8 482.4 72.8 481.4 73.8 480.9 73.8 480.4 74.3 479.9 74.3 479.4 74.8 478.9 74.8 477.9 75.8 477.4 75.8 476.9 76.3 476.4 76.3 475.9 76.8 475.4 76.8 474.4 77.8 473.9 77.8 473.4 78.3 472.9 78.3 472.4 78.8 471.9 78.8 470.9 79.8 470.4 79.8 469.9 80.3 469.4 80.3 468.9 80.8 468.4 80.8 467.4 81.8 466.9 81.8 466.4 82.3 465.9 82.3 465.4 82.8 464.9 82.9 463.9 83.8 463.4 83.9 462.9 84.4 462.4 84.4 461.4 85.4 460.9 85.4 460.4 85.9 459.9 85.9 459.4 86.4 458.9 86.4 457.9 87.4 457.4 87.4 456.9 87.9 456.4 87.9 455.4 88.9 454.9 88.9 454.4 89.4 453.9 89.4 453.4 89.9 452.9 90 451.9 91 451.4 91 450.9 91.5 450.4 91.5 449.9 92 449.5 92 446.5 95 439.2 101.5 438.5 102.5 438.4 103 438.9 103.2 441.3 102.5 444.7 101 457.9 94.5 473.9 86 501.4 71 512.4 66.1 517.4 64.4 522.9 62.7 531.9 60.6 543.9 58.5 558.9 56.5 570.9 55.4 576.9 55 613.9 54.9" fill="none" stroke="#000" stroke-width="0.3" opacity="0.35"/>
<path d="M397.4 52 461.9 52.2 476.9 52.5 487.4 53 495.4 54 497.6 54.5 500.7 55.5 501.4 56 502.3 57 502.9 59.5 501.8 61.5 499.4 63.5 498.9 63.5 498.4 64 497.9 64.1 497.4 64.5 496.9 64.6 496.4 65.1 495.9 65.1 495.4 65.6 494.9 65.6 493.9 66.6 493.4 66.6 492.9 67.1 492.4 67.1 491.9 67.6 491.4 67.6 490.9 68.1 490.4 68.1 489.4 69.1 488.9 69.1 488.4 69.6 487.9 69.7 487.4 70.2 486.9 70.2 485.9 71.1 485.4 71.2 484.9 71.6 484.4 71.7 483.9 72.1 483.4 72.2 482.9 72.7 482.4 72.7 481.4 73.6 480.9 73.7 480.4 74.1 479.9 74.2 479.4 74.7 478.9 74.7 477.9 75.6 477.4 75.7 476.9 76.1 476.4 76.2 475.9 76.7 475.4 76.7 474.4 77.6 473.9 77.7 473.4 78.2 472.9 78.2 472.4 78.7 471.9 78.7 470.9 79.6 470.4 79.7 469.9 80.2 469.4 80.2 468.9 80.7 468.4 80.7 467.4 81.7 466.9 81.7 466.4 82.2 465.9 82.2 465.4 82.7 464.9 82.7 463.9 83.7 463.4 83.7 462.9 84.2 462.4 84.2 461.4 85.2 460.9 85.2 460.4 85.7 459.9 85.7 459.4 86.2 458.9 86.2 457.9 87.2 457.4 87.2 456.9 87.7 456.4 87.7 455.4 88.7 454.9 88.7 454.4 89.2 453.9 89.2 453.4 89.7 452.9 89.8 451.9 90.7 451.4 90.8 450.9 91.2 450.4 91.3 449.9 91.7 449.4 91.8 448.4 92.7 447.9 92.8 447.4 93.3 446.9 93.3 446.4 93.8 445.9 93.8 444.9 94.8 444.4 94.8 443.9 95.3 443.4 95.3 442.4 96.3 441.9 96.3 440.4 97.3 439.9 97.4 438.9 98.3 438.4 98.4 437.9 98.9 437.4 98.9 436.4 99.9 435.9 99.9 435.4 100.4 434.9 100.5 433.9 101.4 433.4 101.5 418.4 112.3 409.8 118M428.4 118 447.4 106.8 499.4 77.3 503.9 75 510.9 71.8 515.4 70 519.9 68.5 528.4 66.2 537.4 64.4 549.9 62.4 564.9 60.6 576.4 59.8 613.9 59.7" fill="none" stroke="#000" stroke-width="0.3" opacity="0.35"/>
<path d="M397.4 53.8 455.4 53.9 469.9 54.2 479.9 54.6 489 55.5 492.9 56.5 495.4 57.4 497 58.5 499 59.5 499.5 60.5 499.5 61 499.2 62 498.3 63 496.1 65 495.3 65.5 494.9 65.5 493.8 66.5 493.4 66.5 492.9 67 492.4 67 491.9 67.5 491.4 67.6 490.9 68 490.4 68.1 489.4 69 488.9 69.1 488.4 69.6 487.9 69.6 487.4 70.1 486.9 70.1 485.9 71.1 485.4 71.1 484.9 71.6 484.4 71.6 483.9 72.1 483.4 72.1 482.9 72.6 482.4 72.6 481.4 73.6 480.9 73.6 480.4 74.1 479.9 74.1 479.4 74.6 478.9 74.6 477.9 75.6 477.4 75.6 476.9 76.1 476.4 76.1 475.9 76.6 475.4 76.6 474.4 77.6 473.9 77.6 473.4 78.1 472.9 78.1 472.4 78.6 471.9 78.6 470.9 79.6 470.4 79.6 469.9 80.1 469.4 80.1 468.9 80.6 468.4 80.6 467.4 81.6 466.9 81.6 466.4 82.1 465.9 82.1 465.4 82.6 464.9 82.6 463.9 83.6 463.4 83.6 462.9 84.1 462.4 84.1 461.4 85.1 460.9 85.1 460.4 85.6 459.9 85.6 459.4 86.1 458.9 86.1 457.9 87.1 457.4 87.1 456.9 87.6 456.4 87.6 455.4 88.6 454.9 88.6 454.4 89.1 453.9 89.1 453.4 89.6 452.9 89.7 451.9 90.6 451.4 90.6 450.9 91.1 450.4 91.2 449.9 91.6 449.4 91.7 448.4 92.6 447.9 92.7 447.4 93.1 446.9 93.2 446.4 93.6 445.9 93.7 444.9 94.6 444.4 94.7 443.9 95.1 443.4 95.2 442.4 96.1 441.9 96.2 441.4 96.6 440.9 96.7 440.4 97.2 439.9 97.2 438.9 98.1 437.4 98.7 436.4 99.6 434.9 100.3 433.9 101.1 431.4 102.3 430.4 103.2 428.9 103.9 413.4 114.7 408.2 118M433.4 118 447.8 109.5 473.9 94.5 500.4 79.5 505.2 77 511.9 74 516.9 72 521.4 70.5 528.9 68.5 538.8 66.5 551.9 64.5 564.9 63 576.4 62.1 613.9 62" fill="none" stroke="#000" stroke-width="0.3" opacity="0.35"/>
<path d="M397.4 55.8 450.4 55.9 463.9 56.2 473.9 56.6 482.9 57.5 493.6 59.5 495.5 60.5 496.1 61 496.6 62 495.8 63.5 494.6 65 488.3 69.5 487.9 69.5 487.4 70 486.9 70 485.9 70.9 485.4 71 484.9 71.5 484.4 71.5 483.9 72 483.4 72 482.9 72.5 482.4 72.5 481.4 73.4 480.9 73.5 480.4 74 479.9 74 479.4 74.5 478.9 74.5 477.9 75.4 477.4 75.5 476.9 76 476.4 76 475.9 76.5 475.4 76.5 473.4 78 472.9 78 472.4 78.5 471.9 78.5 470.9 79.4 470.4 79.5 469.9 80 469.4 80 468.9 80.5 468.4 80.5 467.4 81.4 466.9 81.5 466.4 82 465.9 82 465.4 82.5 464.9 82.6 463.9 83.5 463.4 83.5 462.9 84 462.4 84 460.4 85.5 459.9 85.5 459.4 86 458.9 86.1 457.8 87 457.4 87 456.9 87.5 456.4 87.5 454.4 89 453.9 89 453.4 89.5 452.9 89.6 451.9 90.4 451.4 90.5 450.9 91 450.4 91 449.9 91.5 449.4 91.6 448.4 92.4 447.3 93 446.9 93 446.4 93.5 445.9 93.6 444.9 94.3 443.4 95 442.9 95.5 439.9 97 431.4 102.1 414.7 112 415.4 112.5 414.4 113.2 414.3 113 414.6 112.5 414.4 112.2 412.4 113.3 412.1 113.5 412.9 113.8 413.4 113.2 414 113.5 411.9 114.9 411.7 114.5 412.1 114 411.9 113.6 409.9 114.8 409.6 115 410.4 115.3 410.9 114.7 411.8 115 407 118M405.6 118 406 117.5 405.9 117.2 404.5 118M438.5 118 477.4 95.4 502.4 81.3 513.4 76.1 517.4 74.5 522.4 72.9 530.4 70.7 539.4 69 550.9 67.2 565.9 65.5 576.4 64.7 613.9 64.6M417.4 110.7 417.6 111 417.4 111.2 417.2 111ZM415.9 111.8 416.2 112 415.9 112.2 415.8 112ZM408.9 115.4 407 116.5 407.9 116.8 408.4 116.2 408.9 116.3 409.6 115.5 409.4 115.1ZM406.4 116.9 406.2 117 406.9 117.2 407.1 117 406.9 116.6Z" fill="none" stroke="#000" stroke-width="0.3" opacity="0.35"/>
<path d="M397.4 61 419.9 61 439.9 60.7 461.4 60.2 475.4 60.5 482.9 61 488 62 489.7 63.5 490.1 65 489.8 65.5 489.9 66 489.6 66.5 485.3 70 438.9 96.2 401.8 118M448.9 118 483.5 98 505.4 85.6 516.4 80.5 519.9 79.2 525.3 77.5 533.4 75.5 542.9 73.7 553.4 72.2 567.4 70.6 576.9 69.9 613.9 69.8" fill="none" stroke="#000" stroke-width="0.3" opacity="0.35"/>
<path d="M397.4 64.7 419.9 64.7 439.9 63.8 447.9 62.9 457.4 62.2 462.4 62 470.9 62 477.9 62.4 482.4 63.3 484.3 64 485.4 64.6 485.9 65 486.2 65.5 487.1 66 487.2 66.5 486 68 483.8 70 456.5 85.5 438.9 95.1 399.9 118M454.3 118 485.4 100 506.7 88 512.9 85 517.5 83 521.6 81.5 526.4 80 534.4 78 545.8 76 560.7 74 571 73 576.9 72.6 613.9 72.5" fill="none" stroke="#000" stroke-width="0.3" opacity="0.35"/>
<path d="M397.4 72.6 419.9 72.6 439.9 70.6 445.4 68.7 450.9 67 455.4 66.2 461.9 65.5 468.9 65.4 479.9 65.7 482.4 66.1 483.3 66.5 483.5 67 482.7 68.5 481.5 70 464.3 80 436.4 95.1 397.4 118M461.2 118 488.9 102 508.9 90.8 519.4 86 528.4 83 536.4 81.1 547.9 79.2 561.9 77.3 573.4 76.3 577.4 76 613.9 76" fill="none" stroke="#000" stroke-width="0.3" opacity="0.35"/>
<path d="M397.4 86.8 412.4 86.9 419.9 87.3 426.2 87 428.5 87.5 429 88 429 88.5 428.6 89.5 427.2 91 421.3 95.5 397.4 109.7M482.3 118 498.4 108.7 514.9 99.5 524.4 95.3 529.4 93.7 534.4 92.4 541.4 90.9 552.4 89.2 564.4 87.7 574.9 86.7 613.9 86.5" fill="none" stroke="#000" stroke-width="0.3" opacity="0.35"/><path d="M397.4 50.4 459.4 50.5 475.4 50.7 486.9 51.1 496.9 51.7 503.4 52.7 504.8 53 506.4 53.7 507.4 54.5 508.1 55.5 508 56.5 507.5 57.5 506 59.5 503.8 61.5 503.4 61.5 502.9 62 502.4 62 501.9 62.5 501.4 62.6 500.9 63.1 499.9 63.1 499.4 63.6 498.9 63.6 498.4 64.1 497.9 64.1 497.4 64.6 496.9 64.7 496.4 65.2 495.9 65.2 495.4 65.7 494.9 65.7 493.9 66.7 493.4 66.7 492.9 67.2 492.4 67.2 491.9 67.7 491.4 67.7 490.9 68.2 490.4 68.2 489.4 69.2 488.9 69.2 488.4 69.7 487.9 69.7 487.4 70.2 486.9 70.2 485.9 71.2 485.4 71.2 484.9 71.7 484.4 71.7 483.9 72.2 483.4 72.2 482.9 72.7 482.4 72.7 481.4 73.7 480.9 73.7 480.4 74.2 479.9 74.2 479.4 74.7 478.9 74.7 477.9 75.7 477.4 75.7 476.9 76.2 476.4 76.2 475.9 76.7 475.4 76.7 474.4 77.7 473.9 77.7 473.4 78.2 472.9 78.2 472.4 78.7 471.9 78.8 470.9 79.7 470.4 79.8 469.9 80.2 469.4 80.3 468.9 80.7 468.4 80.8 467.4 81.7 466.9 81.8 466.4 82.3 465.9 82.3 465.4 82.8 464.9 82.8 463.9 83.8 463.4 83.8 462.9 84.3 462.4 84.3 461.4 85.3 460.9 85.3 460.4 85.8 459.9 85.8 459.4 86.3 458.9 86.3 457.9 87.3 457.4 87.3 456.9 87.8 456.4 87.8 455.4 88.8 454.9 88.8 454.4 89.3 453.9 89.3 453.4 89.8 452.9 89.9 451.9 90.8 451.4 90.9 450.9 91.4 450.4 91.4 449.9 91.9 449.4 91.9 448.4 92.9 447.9 92.9 447.4 93.4 446.9 93.4 446.4 93.9 445.9 93.9 444.9 94.9 444.4 95 443.9 95.4 443.4 95.5 442.4 96.5 441.9 96.5 441.2 97 428.9 106.3 415.9 115.8 412.4 118M422.4 118 445.4 104.8 499.4 74.7 509.9 69.7 514.4 67.9 518.9 66.4 527.9 63.9 536.4 62.1 548.9 60.2 564.4 58.3 576.4 57.4 613.9 57.3" fill="none" stroke="#000" stroke-width="0.75"/>
<path d="M397.4 58.7 455.9 58.7 478.9 59.2 484.4 59.5 488.9 60.3 490.9 60.8 492.4 61.5 493.2 62 493.3 62.5 493.3 63.5 493 64.5 491.8 66 486.5 70 439.4 96.8 403.3 118M405.9 118 405.9 117.9 406.1 118M443.6 118 478.9 97.5 503.7 83.5 509.8 80.5 515.4 78 519.4 76.5 524.2 75 531.9 73 539.9 71.5 552.9 69.5 566.4 68 576.4 67.2 613.9 67.1M409.9 115.4 410.1 115.5 409.8 115.5ZM408.4 116.5ZM407.4 116.9 407.7 117 407.4 117.2 407.3 117ZM406.4 117.3 406.9 117.5 406.4 117.8 406.3 117.5Z" fill="none" stroke="#000" stroke-width="0.75"/>
<path d="M397.4 77.3 419.9 77.3 439.9 75 444.5 73 451.4 70.5 456.5 69 462.4 67.6 469.4 67.3 473.9 67.6 475.4 68 476.5 68.5 477 69 477.4 70 461 80 432.5 95 397.4 115.6M468.2 118 492.4 104 511.2 93.5 516.4 91 522.4 88.5 530.6 86 537.2 84.5 548.9 82.5 560.3 81 570.2 80 576.9 79.5 613.9 79.4" fill="none" stroke="#000" stroke-width="0.75"/><path d="M380 133 382 131.8 384 130.7 386 129.5 388 128.3 390 127.1 392 126 394 124.8 396 123.6 398 122.4 400 121.3 402 120.1 404 118.9 406 117.7 408 116.5 410 115.3 412 114.2 414 113 416 111.8 418 110.6 420 109.3 422 108.1 424 106.9 426 105.7 428 104.5 430 103.3 432 102.1 434 100.9 436 99.8 438 98.6 440 97.4 442 96.2 444 95.1 446 93.9 448 92.8 450 91.6 452 90.5 454 89.3 456 88.2 458 87 460 85.9 462 84.7 464 83.5 466 82.4 468 81.2 470 80 472 78.9 474 77.7 476 76.6 478 75.5 480 74.3 482 73.2 484 72.1 486 71 488 69.8 490 68.7 492 67.6 494 66.5 496 65.4 498 64.4 500 63.4 502 62.5 504 61.6 506 60.7 508 59.9 510 59.1 512 58.3 514 57.7 516 57 518 56.4 520 55.8 522 55.3 524 54.8 526 54.3 528 53.8 530 53.4 532 53 534 52.6 536 52.3 538 51.9 540 51.6 542 51.3 544 51 546 50.7 548 50.4 550 50.1 552 49.9 554 49.6 556 49.4 558 49.1 560 48.9 562 48.7 564 48.5 566 48.3 568 48.2 570 48 572 47.8 574 47.7 576 47.6" fill="none" stroke="#fff" stroke-width="0.8"/><path d="M398 51.3 L470 51.3 L497 51.5 L520 51.0 L545 49.6 L566 48.4" fill="none" stroke="#f4f4f4" stroke-width="0.75"/><path d="M398 57.4 L470 57.5 L494 57.8 L500 59.5" fill="none" stroke="#f4f4f4" stroke-width="0.75"/><path d="M470.0 61 L470.2 48.6 Q470.4 46.2 472.0 46.2 Q473.6 46.2 473.8 48.6 L474.0 61 Z" fill="#f0e000" stroke="#8a8a00" stroke-width="0.5"/><rect x="471.1" y="49.5" width="1.8" height="11" fill="#f8f060"/><path d="M390 38 L620 38 L620 47.4 L577 47.4 L565 45.3 L390 45.3 Z" fill="#fff"/></g>
<rect x="398.45" y="42.25" width="214.5" height="74.55" fill="none" stroke="#222" stroke-width="1"/>
<path d="M398.45 42.25v-8.5M434.2 42.25v-8.5M469.95 42.25v-8.5M505.7 42.25v-8.5M541.45 42.25v-8.5M577.2 42.25v-8.5M612.95 42.25v-8.5" stroke="#222" stroke-width="1" fill="none"/>
<path d="M416.33 42.25v-4.5M452.08 42.25v-4.5M487.83 42.25v-4.5M523.58 42.25v-4.5M559.33 42.25v-4.5M595.08 42.25v-4.5" stroke="#222" stroke-width="1" fill="none"/>
<path d="M398.45 116.8v8.5M434.2 116.8v8.5M469.95 116.8v8.5M505.7 116.8v8.5M541.45 116.8v8.5M577.2 116.8v8.5M612.95 116.8v8.5" stroke="#222" stroke-width="1" fill="none"/>
<path d="M416.33 116.8v4.5M452.08 116.8v4.5M487.83 116.8v4.5M523.58 116.8v4.5M559.33 116.8v4.5M595.08 116.8v4.5" stroke="#222" stroke-width="1" fill="none"/>
<path d="M398.45 45.8h-8.5M398.45 81.3h-8.5M398.45 116.8h-8.5" stroke="#222" stroke-width="1" fill="none"/>
<path d="M398.45 52.9h-4.5M398.45 60h-4.5M398.45 67.1h-4.5M398.45 74.2h-4.5M398.45 88.4h-4.5M398.45 95.5h-4.5M398.45 102.6h-4.5M398.45 109.7h-4.5" stroke="#222" stroke-width="1" fill="none"/>
<path d="M612.95 45.8h8.5M612.95 81.3h8.5M612.95 116.8h8.5" stroke="#222" stroke-width="1" fill="none"/>
<path d="M612.95 52.9h4.5M612.95 60h4.5M612.95 67.1h4.5M612.95 74.2h4.5M612.95 88.4h4.5M612.95 95.5h4.5M612.95 102.6h4.5M612.95 109.7h4.5" stroke="#222" stroke-width="1" fill="none"/>
<text x="398.45" y="30.95" font-size="10.8" text-anchor="middle" fill="#000"  stroke="#000" stroke-width="0.22">500</text>
<text x="434.2" y="30.95" font-size="10.8" text-anchor="middle" fill="#000"  stroke="#000" stroke-width="0.22">400</text>
<text x="469.95" y="30.95" font-size="10.8" text-anchor="middle" fill="#000"  stroke="#000" stroke-width="0.22">300</text>
<text x="505.7" y="30.95" font-size="10.8" text-anchor="middle" fill="#000"  stroke="#000" stroke-width="0.22">200</text>
<text x="541.45" y="30.95" font-size="10.8" text-anchor="middle" fill="#000"  stroke="#000" stroke-width="0.22">100</text>
<text x="577.2" y="30.95" font-size="10.8" text-anchor="middle" fill="#000"  stroke="#000" stroke-width="0.22">0</text>
<text x="612.95" y="30.95" font-size="10.8" text-anchor="middle" fill="#000"  stroke="#000" stroke-width="0.22">−100</text>
<text x="387.5" y="49.7" font-size="10.8" text-anchor="end" fill="#000"  stroke="#000" stroke-width="0.22">0</text>
<text x="387.5" y="85.2" font-size="10.8" text-anchor="end" fill="#000"  stroke="#000" stroke-width="0.22">100</text>
<text x="387.5" y="120.7" font-size="10.8" text-anchor="end" fill="#000"  stroke="#000" stroke-width="0.22">200</text>
<g transform="translate(0 111.7)"><clipPath id="ce"><rect x="398.4" y="42.3" width="214.5" height="74.5"/></clipPath><g clip-path="url(#ce)"><path d="M382.9 161 383.9 160.5 384.9 159.9 385.9 159.3 386.9 158.7 387.9 158.1 389 157.5 390 156.9 391 156.4 392 155.8 393 155.2 394 154.6 395 154 396 153.4 397 152.8 398 152.2 399 151.7 400 151.1 401 150.5 402 149.9 403 149.3 404 148.7 405 148.1 406 147.5 407 146.9 408 146.3 409 145.8 410 145.2 411 144.6 412 144 413 143.4 414 142.8 415 142.2 416 141.6 417.1 141 418.1 140.4 419.1 139.8 420.1 139.2 421.1 138.6 422.1 138 423.1 137.4 424.2 136.8 425.2 136.2 426.2 135.6 427.2 135 428.2 134.4 429.2 133.8 430.2 133.2 431.2 132.6 432.2 131.9 433.2 131.3 434.3 130.7 435.3 130.1 436.3 129.5 437.2 128.9 438.2 128.3 439.2 127.7 440.2 127.1 441.2 126.5 442.2 125.9 443.2 125.3 444.2 124.8 445.2 124.2 446.1 123.6 447.1 123 448.1 122.4 449.1 121.8 450 121.3 451 120.7 452 120.1 453 119.5 453.9 119 454.9 118.4 455.8 117.9 456.8 117.3 457.8 116.8 458.8 116.2 459.7 115.6 460.7 115.1 461.7 114.5 462.7 113.9 463.8 113.3 464.8 112.7 465.8 112.2 466.8 111.6 467.9 111 468.9 110.4 469.9 109.8 470.9 109.2 471.9 108.6 472.9 108 473.9 107.4 474.9 106.8 475.9 106.2 476.9 105.7 477.9 105.1 478.9 104.5 479.9 104 480.8 103.4 481.8 102.8 482.8 102.3 483.8 101.7 484.8 101.1 485.7 100.6 486.7 100 487.7 99.4 488.7 98.9 489.7 98.3 490.7 97.8 491.6 97.2 492.6 96.7 493.6 96.1 494.5 95.6 495.5 95 496.5 94.4 497.6 93.8 498.7 93.2 499.7 92.6 500.7 92.1 501.7 91.5 502.6 91 503.6 90.4 504.5 89.9 505.3 89.5 506.2 89 507 88.6 507.7 88.2 508.5 87.8 509.2 87.4 510 87 510.9 86.6 511.9 86.2 512.7 85.8 513.6 85.4 514.5 85 515.3 84.6 516.1 84.2 516.9 83.9 517.7 83.6 518.4 83.3 519.2 83 519.9 82.7 520.5 82.5 521.2 82.2 522 82 522.9 81.7 523.7 81.4 524.5 81.2 525.3 80.9 526.2 80.7 527 80.5 527.8 80.2 528.6 80 529.4 79.8 530.2 79.6 531.1 79.4 531.9 79.2 532.7 79 533.5 78.8 534.3 78.6 535.1 78.3 535.9 78 536.8 77.8 537.6 77.5 538.5 77.3 539.3 77 540.2 76.8 541.1 76.5 542.1 76.3 543 76 543.9 75.8 544.8 75.6 545.8 75.3 546.7 75.1 547.6 74.9 548.5 74.6 549.4 74.4 550.3 74.2 551.2 74 552.1 73.8 553 73.7 554 73.5 555 73.4 556 73.2 556.9 73.1 557.9 72.9 558.8 72.8 559.8 72.7 560.7 72.5 561.6 72.4 562.6 72.3 563.5 72.1 564.4 72 565.3 71.9 566.2 71.8 567.1 71.7 568 71.6 569 71.4 570 71.3 571 71.2 572 71.1 572.9 71 573.7 71 574.5 70.9 575.2 70.9 575.9 70.8 576.5 70.8 577.2 70.8 578.1 70.8 579.1 70.8 580.1 70.8 581.1 70.8 582.1 70.8 583.1 70.8 584.1 70.8 585.1 70.8 586.1 70.8 587.1 70.8 588.1 70.8 589.1 70.8 590.1 70.8 591.1 70.7 592.1 70.7 593.1 70.7 594.1 70.7 595.1 70.7 596.1 70.7 597.1 70.7 598.1 70.7 599 70.7 600 70.7 601 70.7 602 70.7 603 70.7 604 70.7 605 70.7 606 70.7 607 70.7 608 70.7 609 70.7 610 70.7 611 70.7 612 70.7 613 70.7 614 70.7 615 70.7 616 70.7 617 70.7 618 70.7 619 70.7 620 70.7 621 70.7 622 70.7 623 70.7 624 70.7 625 70.7 626 70.7 627 70.7 628 70.7 629 70.7 630 70.7 631 70.7 632 70.7 633 70.7 634 70.7 635 70.7 636 70.7 637 70.7 638 70.7 639 70.7 640 70.7 L640 125 L370 125 Z" fill="#20a8e8"/><path d="M386.5 132.7 387.5 132.1 388.5 131.5 389.5 130.9 390.5 130.3 391.5 129.7 392.5 129.1 393.5 128.6 394.5 128 395.5 127.4 396.5 126.8 397.5 126.2 398.5 125.6 399.5 125 400.5 124.4 401.5 123.8 402.5 123.3 403.5 122.7 404.5 122.1 405.5 121.5 406.5 120.9 407.5 120.3 408.5 119.7 409.5 119.1 410.5 118.5 411.5 117.9 412.5 117.3 413.5 116.7 414.5 116.1 415.5 115.5 416.5 114.9 417.5 114.3 418.5 113.7 419.5 113.1 420.5 112.5 421.5 111.9 422.5 111.3 423.5 110.7 424.5 110.1 425.5 109.5 426.5 108.9 427.5 108.3 428.5 107.7 429.5 107.1 430.5 106.5 431.5 105.9 432.5 105.3 433.5 104.7 434.5 104.1 435.5 103.5 436.5 102.9 437.5 102.3 438.5 101.7 439.5 101.2 440.5 100.6 441.5 100 442.5 99.4 443.5 98.8 444.5 98.3 445.5 97.7 446.5 97.1 447.5 96.5 448.5 96 449.5 95.4 450.5 94.8 451.5 94.2 452.5 93.7 453.5 93.1 454.5 92.5 455.5 91.9 456.5 91.4 457.5 90.8 458.5 90.2 459.5 89.6 460.5 89 461.5 88.4 462.5 87.9 463.5 87.3 464.5 86.7 465.5 86.1 466.5 85.5 467.5 84.9 468.5 84.4 469.5 83.8 470.5 83.2 471.5 82.6 472.5 82.1 473.5 81.5 474.5 80.9 475.5 80.3 476.5 79.8 477.5 79.2 478.5 78.6 479.5 78.1 480.5 77.5 481.5 76.9 482.5 76.4 483.5 75.9 484.5 75.3 485.5 74.8 486.5 74.2 487.6 73.7 488.6 73.1 489.6 72.6 490.6 72 491.6 71.5 492.6 71 493.6 70.4 494.6 69.9 495.6 69.4 496.6 68.9 497.6 68.4 498.5 67.9 499.5 67.5 500.5 67 501.5 66.6 502.5 66.1 503.5 65.7 504.5 65.2 505.4 64.8 506.4 64.4 507.4 63.9 508.4 63.5 509.3 63.1 510.3 62.7 511.3 62.4 512.2 62 513.2 61.7 514.1 61.3 515.1 61 516.1 60.7 517.1 60.4 518 60.1 519 59.8 520 59.5 521 59.2 521.9 58.9 522.9 58.7 523.9 58.4 524.9 58.2 525.8 57.9 526.8 57.7 527.8 57.5 528.8 57.3 529.7 57 530.7 56.8 531.7 56.6 532.7 56.5 533.6 56.3 534.6 56.1 535.6 55.9 536.6 55.7 537.6 55.6 538.6 55.4 539.6 55.2 540.6 55.1 541.6 54.9 542.5 54.8 543.5 54.6 544.5 54.5 545.5 54.3 546.5 54.2 547.5 54 548.5 53.9 549.5 53.8 550.5 53.6 551.4 53.5 552.4 53.4 553.4 53.3 554.4 53.1 555.4 53 556.4 52.9 557.4 52.8 558.4 52.7 559.4 52.6 560.4 52.4 561.4 52.3 562.4 52.2 563.3 52.1 564.3 52 565.3 52 566.3 51.9 567.3 51.8 568.3 51.7 569.3 51.6 570.3 51.5 571.3 51.4 572.3 51.4 573.2 51.3 574.2 51.2 575.1 51.2 576.1 51.2 577 51.2 578 51.2 579 51.1 580 51.1 581 51.1 582 51.1 583 51.1 584 51.1 585 51.1 586 51.1 587 51.1 588 51.1 589 51.1 590 51.1 591 51.1 592 51.1 593 51.1 594 51.1 595 51.1 596 51.1 597 51.1 598 51.1 599 51.1 600 51.1 601 51.1 602 51.1 603 51.1 604 51.1 605 51.1 606 51.1 607 51.1 608 51.1 609 51.1 610 51.1 611 51.1 612 51.1 613 51.1 614 51.1 615 51.1 616 51.1 617 51.1 618 51.1 619 51.1 620 51.1 621 51.1 622 51.1 623 51.1 624 51.1 625 51.1 626 51.1 627 51.1 628 51.1 629 51.1 630 51.1  L640 72.2 639 72.2 638 72.2 637 72.2 636 72.2 635 72.2 634 72.2 633 72.2 632 72.2 631 72.2 630 72.2 629 72.2 628 72.2 627 72.2 626 72.2 625 72.2 624 72.2 623 72.2 622 72.2 621 72.2 620 72.2 619 72.2 618 72.2 617 72.2 616 72.2 615 72.2 614 72.2 613 72.2 612 72.2 611 72.2 610 72.2 609 72.2 608 72.2 607 72.2 606 72.2 605 72.2 604 72.2 603 72.2 602 72.2 601 72.2 600 72.2 599.1 72.2 598.1 72.2 597.1 72.2 596.1 72.2 595.1 72.2 594.1 72.2 593.1 72.2 592.1 72.2 591.1 72.2 590.1 72.3 589.1 72.3 588.1 72.3 587.1 72.3 586.1 72.3 585.1 72.3 584.1 72.3 583.1 72.3 582.1 72.3 581.1 72.3 580.1 72.3 579.1 72.3 578.1 72.3 577.2 72.3 576.6 72.3 576 72.3 575.3 72.4 574.6 72.4 573.8 72.5 573 72.5 572.1 72.6 571.2 72.7 570.2 72.8 569.1 72.9 568.1 73.1 567.2 73.2 566.3 73.3 565.4 73.4 564.5 73.5 563.6 73.6 562.7 73.7 561.8 73.9 560.9 74 560 74.1 559 74.3 558.1 74.4 557.1 74.6 556.1 74.7 555.2 74.9 554.2 75 553.2 75.2 552.3 75.3 551.4 75.5 550.5 75.7 549.6 75.9 548.7 76.1 547.8 76.4 546.9 76.6 546 76.8 545.1 77 544.2 77.3 543.2 77.5 542.3 77.8 541.4 78 540.5 78.3 539.6 78.5 538.7 78.8 537.9 79 537 79.3 536.2 79.5 535.4 79.8 534.6 80 533.8 80.3 533 80.5 532.2 80.6 531.4 80.8 530.6 81 529.8 81.2 529 81.5 528.2 81.7 527.4 81.9 526.6 82.1 525.8 82.4 525 82.6 524.1 82.9 523.3 83.1 522.5 83.4 521.7 83.7 521 83.9 520.4 84.1 519.7 84.4 519 84.7 518.2 85 517.5 85.3 516.7 85.6 515.9 86 515.1 86.3 514.2 86.7 513.4 87.1 512.5 87.5 511.6 88 510.7 88.4 509.9 88.8 509.2 89.1 508.4 89.5 507.7 89.9 506.9 90.3 506.1 90.8 505.2 91.2 504.3 91.7 503.4 92.3 502.4 92.8 501.5 93.4 500.4 93.9 499.4 94.5 498.3 95.1 497.3 95.8 496.2 96.3 495.3 96.9 494.3 97.4 493.3 98 492.4 98.5 491.4 99.1 490.4 99.6 489.4 100.2 488.5 100.7 487.5 101.3 486.5 101.9 485.5 102.4 484.5 103 483.5 103.6 482.5 104.1 481.6 104.7 480.6 105.3 479.6 105.8 478.7 106.4 477.7 107 476.7 107.5 475.7 108.1 474.7 108.7 473.7 109.3 472.7 109.9 471.7 110.5 470.7 111.1 469.6 111.7 468.6 112.3 467.6 112.9 466.5 113.5 465.5 114 464.5 114.6 463.5 115.2 462.5 115.8 461.5 116.4 460.5 116.9 459.5 117.5 458.5 118.1 457.5 118.6 456.6 119.2 455.6 119.7 454.7 120.3 453.7 120.8 452.7 121.4 451.8 122 450.8 122.6 449.8 123.1 448.9 123.7 447.9 124.3 446.9 124.9 445.9 125.5 444.9 126 444 126.6 443 127.2 442 127.8 441 128.4 440 129 439 129.6 438 130.2 437 130.8 436 131.4 435 132 434 132.6 433 133.2 432 133.8 431 134.4 430 135.1 429 135.7 428 136.3 427 136.9 425.9 137.5 424.9 138.1 423.9 138.7 422.9 139.3 421.9 139.9 420.8 140.5 419.8 141.1 418.8 141.7 417.8 142.3 416.8 142.9 415.8 143.5 414.8 144.1 413.8 144.7 412.8 145.3 411.8 145.9 410.8 146.5 409.8 147 408.8 147.6 407.8 148.2 406.8 148.8 405.8 149.4 404.8 150 403.8 150.6 402.8 151.2 401.8 151.8 400.8 152.4 399.8 152.9 398.8 153.5 397.7 154.1 396.7 154.7 395.7 155.3 394.7 155.9 393.7 156.5 392.7 157.1 391.7 157.7 390.7 158.2 389.7 158.8 388.7 159.4 387.7 160 386.7 160.6 385.7 161.2 384.7 161.8 383.7 162.3 Z" fill="#8a6630"/><path d="M384.1 163.1 385.1 162.5 386.1 162 387.1 161.4 388.2 160.8 389.2 160.2 390.2 159.6 391.2 159 392.2 158.4 393.2 157.8 394.2 157.3 395.2 156.7 396.2 156.1 397.2 155.5 398.2 154.9 399.2 154.3 400.2 153.7 401.2 153.1 402.2 152.5 403.2 152 404.2 151.4 405.2 150.8 406.2 150.2 407.2 149.6 408.2 149 409.2 148.4 410.2 147.8 411.2 147.2 412.3 146.6 413.3 146 414.3 145.5 415.3 144.9 416.3 144.3 417.3 143.7 418.3 143.1 419.3 142.5 420.3 141.9 421.3 141.3 422.3 140.7 423.3 140.1 424.4 139.5 425.4 138.9 426.4 138.3 427.4 137.6 428.4 137 429.4 136.4 430.5 135.8 431.5 135.2 432.5 134.6 433.5 134 434.5 133.4 435.5 132.8 436.5 132.2 437.5 131.6 438.5 131 439.5 130.4 440.5 129.8 441.5 129.2 442.5 128.6 443.4 128 444.4 127.4 445.4 126.8 446.4 126.2 447.4 125.6 448.3 125.1 449.3 124.5 450.3 123.9 451.3 123.3 452.2 122.8 453.2 122.2 454.2 121.6 455.1 121.1 456.1 120.5 457 120 458 119.4 459 118.8 459.9 118.3 460.9 117.7 461.9 117.1 462.9 116.6 463.9 116 464.9 115.4 466 114.8 467 114.2 468 113.6 469.1 113 470.1 112.4 471.1 111.8 472.1 111.2 473.1 110.7 474.2 110.1 475.2 109.5 476.2 108.9 477.1 108.3 478.1 107.7 479.1 107.2 480.1 106.6 481.1 106 482 105.5 483 104.9 484 104.3 485 103.8 486 103.2 486.9 102.6 487.9 102.1 488.9 101.5 489.9 101 490.9 100.4 491.8 99.8 492.8 99.3 493.8 98.7 494.8 98.2 495.7 97.7 496.7 97.1 497.7 96.5 498.8 95.9 499.9 95.3 500.9 94.7 501.9 94.2 502.9 93.6 503.8 93.1 504.7 92.5 505.6 92 506.5 91.6 507.3 91.1 508.1 90.7 508.8 90.3 509.6 89.9 510.3 89.6 511.1 89.2 512 88.8 512.9 88.3 513.7 87.9 514.6 87.5 515.4 87.2 516.3 86.8 517.1 86.5 517.8 86.1 518.6 85.8 519.3 85.5 520 85.2 520.7 85 521.3 84.8 522 84.5 522.8 84.3 523.6 84 524.4 83.7 525.2 83.5 526 83.2 526.8 83 527.6 82.8 528.4 82.5 529.2 82.3 530 82.1 530.8 81.9 531.6 81.7 532.4 81.5 533.2 81.3 534 81.2 534.8 80.9 535.6 80.6 536.4 80.4 537.2 80.1 538 79.9 538.9 79.6 539.8 79.4 540.6 79.1 541.5 78.9 542.5 78.7 543.4 78.4 544.3 78.2 545.2 77.9 546.1 77.7 547 77.5 547.9 77.2 548.8 77 549.7 76.8 550.6 76.6 551.5 76.4 552.4 76.2 553.4 76.1 554.3 75.9 555.3 75.8 556.3 75.6 557.2 75.5 558.2 75.3 559.1 75.2 560.1 75 561 74.9 561.9 74.8 562.8 74.6 563.7 74.5 564.6 74.4 565.5 74.3 566.4 74.2 567.3 74.1 568.2 74 569.2 73.8 570.2 73.7 571.2 73.6 572.2 73.5 573.1 73.4 573.9 73.4 574.7 73.3 575.4 73.3 576 73.2 576.6 73.2 577.2 73.2 578.1 73.2 579.1 73.2 580.1 73.2 581.1 73.2 582.1 73.2 583.1 73.2 584.1 73.2 585.1 73.2 586.1 73.2 587.1 73.2 588.1 73.2 589.1 73.2 590.1 73.2 591.1 73.1 592.1 73.1 593.1 73.1 594.1 73.1 595.1 73.1 596.1 73.1 597.1 73.1 598.1 73.1 599.1 73.1 600.1 73.1 601 73.1 602 73.1 603 73.1 604 73.1 605 73.1 606 73.1 607 73.1 608 73.1 609 73.1 610 73.1 611 73.1 612 73.1 613 73.1 614 73.1 615 73.1 616 73.1 617 73.1 618 73.1 619 73.1 620 73.1 621 73.1 622 73.1 623 73.1 624 73.1 625 73.1 626 73.1 627 73.1 628 73.1 629 73.1 630 73.1 631 73.1 632 73.1 633 73.1 634 73.1 635 73.1 636 73.1 637 73.1 638 73.1 639 73.1 640 73.1" fill="none" stroke="#40e0e8" stroke-width="1.3"/><path d="M383.7 162.4 384.7 161.8 385.7 161.3 386.7 160.7 387.7 160.1 388.8 159.5 389.8 158.9 390.8 158.3 391.8 157.7 392.8 157.2 393.8 156.6 394.8 156 395.8 155.4 396.8 154.8 397.8 154.2 398.8 153.6 399.8 153 400.8 152.4 401.8 151.9 402.8 151.3 403.8 150.7 404.8 150.1 405.8 149.5 406.8 148.9 407.8 148.3 408.8 147.7 409.8 147.1 410.8 146.5 411.8 146 412.8 145.4 413.8 144.8 414.9 144.2 415.9 143.6 416.9 143 417.9 142.4 418.9 141.8 419.9 141.2 420.9 140.6 421.9 140 422.9 139.4 424 138.8 425 138.2 426 137.6 427 137 428 136.4 429 135.7 430 135.1 431.1 134.5 432.1 133.9 433.1 133.3 434.1 132.7 435.1 132.1 436.1 131.5 437.1 130.9 438.1 130.3 439.1 129.7 440.1 129.1 441.1 128.5 442 127.9 443 127.3 444 126.7 445 126.1 446 125.5 447 125 447.9 124.4 448.9 123.8 449.9 123.2 450.9 122.6 451.8 122.1 452.8 121.5 453.8 120.9 454.7 120.4 455.7 119.8 456.6 119.3 457.6 118.7 458.6 118.1 459.6 117.6 460.5 117 461.5 116.4 462.5 115.9 463.5 115.3 464.5 114.7 465.6 114.1 466.6 113.5 467.6 112.9 468.7 112.3 469.7 111.7 470.7 111.2 471.7 110.6 472.7 110 473.8 109.4 474.8 108.8 475.8 108.2 476.7 107.6 477.7 107 478.7 106.5 479.7 105.9 480.7 105.3 481.6 104.8 482.6 104.2 483.6 103.7 484.6 103.1 485.6 102.5 486.5 102 487.5 101.4 488.5 100.8 489.5 100.3 490.5 99.7 491.4 99.2 492.4 98.6 493.4 98 494.4 97.5 495.3 97 496.3 96.4 497.3 95.8 498.4 95.2 499.5 94.6 500.5 94 501.5 93.5 502.5 92.9 503.4 92.4 504.4 91.8 505.2 91.3 506.1 90.9 506.9 90.4 507.7 90 508.5 89.6 509.2 89.2 509.9 88.9 510.7 88.5 511.6 88 512.5 87.6 513.4 87.2 514.3 86.8 515.1 86.4 515.9 86.1 516.7 85.7 517.5 85.4 518.3 85.1 519 84.8 519.7 84.5 520.4 84.2 521.1 84 521.8 83.8 522.5 83.5 523.4 83.2 524.2 83 525 82.7 525.8 82.5 526.6 82.2 527.4 82 528.2 81.8 529 81.6 529.8 81.3 530.6 81.1 531.4 80.9 532.2 80.7 533 80.6 533.8 80.4 534.6 80.1 535.4 79.9 536.2 79.6 537.1 79.4 537.9 79.1 538.8 78.9 539.6 78.6 540.5 78.4 541.4 78.1 542.3 77.9 543.3 77.6 544.2 77.4 545.1 77.1 546 76.9 546.9 76.7 547.8 76.5 548.7 76.2 549.6 76 550.5 75.8 551.4 75.6 552.3 75.4 553.2 75.3 554.2 75.1 555.2 75 556.2 74.8 557.1 74.7 558.1 74.5 559 74.4 560 74.2 560.9 74.1 561.8 74 562.7 73.8 563.7 73.7 564.6 73.6 565.4 73.5 566.3 73.4 567.2 73.3 568.1 73.2 569.1 73 570.2 72.9 571.2 72.8 572.1 72.7 573 72.6 573.8 72.6 574.6 72.5 575.3 72.5 576 72.4 576.6 72.4 577.2 72.4 578.1 72.4 579.1 72.4 580.1 72.4 581.1 72.4 582.1 72.4 583.1 72.4 584.1 72.4 585.1 72.4 586.1 72.4 587.1 72.4 588.1 72.4 589.1 72.4 590.1 72.4 591.1 72.3 592.1 72.3 593.1 72.3 594.1 72.3 595.1 72.3 596.1 72.3 597.1 72.3 598.1 72.3 599.1 72.3 600 72.3 601 72.3 602 72.3 603 72.3 604 72.3 605 72.3 606 72.3 607 72.3 608 72.3 609 72.3 610 72.3 611 72.3 612 72.3 613 72.3 614 72.3 615 72.3 616 72.3 617 72.3 618 72.3 619 72.3 620 72.3 621 72.3 622 72.3 623 72.3 624 72.3 625 72.3 626 72.3 627 72.3 628 72.3 629 72.3 630 72.3 631 72.3 632 72.3 633 72.3 634 72.3 635 72.3 636 72.3 637 72.3 638 72.3 639 72.3 640 72.3" fill="none" stroke="#7a5a28" stroke-width="0.5"/><clipPath id="cwe"><path d="M398.4 55.1 L440 55.6 L470 56.5 L496 56.8 Q500.2 57.1 498.6 59.6 L487.4 69.8 L487 70.4 L486 71 L485 71.5 L484 72.1 L483 72.6 L482 73.2 L481 73.8 L480 74.3 L479 74.9 L478 75.5 L477 76 L476 76.6 L475 77.2 L474 77.7 L473 78.3 L472 78.9 L471 79.5 L470 80 L469 80.6 L468 81.2 L467 81.8 L466 82.4 L465 82.9 L464 83.5 L463 84.1 L462 84.7 L461 85.3 L460 85.9 L459 86.4 L458 87 L457 87.6 L456 88.2 L455 88.8 L454 89.3 L453 89.9 L452 90.5 L451 91.1 L450 91.6 L449 92.2 L448 92.8 L447 93.4 L446 93.9 L445 94.5 L444 95.1 L443 95.7 L442 96.2 L441 96.8 L440 97.4 L439 98 L438 98.6 L437 99.2 L436 99.8 L435 100.3 L434 100.9 L433 101.5 L432 102.1 L431 102.7 L430 103.3 L429 103.9 L428 104.5 L427 105.1 L426 105.7 L425 106.3 L424 106.9 L423 107.5 L422 108.1 L421 108.7 L420 109.3 L419 110 L418 110.6 L417 111.2 L416 111.8 L415 112.4 L414 113 L413 113.6 L412 114.2 L411 114.8 L410 115.3 L409 115.9 L408 116.5 L407 117.1 L406 117.7 L405 118.3 L404 118.9 L403 119.5 L402 120.1 L401 120.7 L400 121.3 L399 121.8 L398 122.4 L397 123 L396 123.6 L395 124.2 Z"/></clipPath><g clip-path="url(#cwe)"><rect x="395" y="50" width="110" height="75" fill="#20a8e8"/><path d="M454.4 56 504.9 55.9 504.9 118 397.4 118 397.4 99.8 415.3 91 429.9 83.4 439.9 76.7 446.9 69.6 451.9 59.9 452.3 57.5 452.8 56.5 453.4 56.1 454.2 56Z" fill="#209ce8"/>
<path d="M454.4 56.5 504.9 56.4 504.9 118 397.4 118 397.4 101.8 414.9 93.2 429.9 85.3 439.9 78.5 446.9 71.3 451.9 61.7 452.6 57.5 452.9 57 453.4 56.6 454.2 56.5Z" fill="#2090e8"/>
<path d="M454.4 57 504.9 56.9 504.9 118 397.4 118 397.4 103.3 414.9 94.7 429.9 86.7 439.9 80 446.9 73 451.9 63.5 452.9 57.5 453.4 57.1 454.2 57Z" fill="#2080e4"/>
<path d="M454.4 57.5 504.9 57.4 504.9 118 397.4 118 397.4 104.8 414.9 96.2 429.9 88.4 439.9 81.9 446.9 75.6 451.8 68 452.2 67 454.2 57.5Z" fill="#2070e0"/>
<path d="M492.9 66.9 493.9 66.7 504.9 66.7 504.9 118 397.4 118 397.4 106.9 429.9 90.9 437.4 87 445.4 83.3 454.4 79.7 463.9 76.3 474.9 72.7 484.7 70 492.7 67Z" fill="#2060d8"/>
<path d="M477.4 75.5 478.9 75 504.9 75 504.9 118 397.4 118 397.4 110.5 407.7 105 427.4 95.7 444.4 88.2 462.9 80.7 477.3 75.5Z" fill="#2050d0"/>
<path d="M467.4 81.4 468.4 81.3 504.9 81.2 504.9 118 397.4 118 397.4 113.8 413.7 105 426.9 98.7 437.9 93.7 467.3 81.5Z" fill="#2444c8"/>
<path d="M456.4 87.9 457.4 87.5 504.9 87.5 504.9 118 397.4 118 397.4 116.2 418.1 105 436.9 96.2 456 88Z" fill="#2838c0"/>
<path d="M446.9 93.4 447.9 93.2 504.9 93.2 504.9 118 397.7 118 421.6 105 435.9 98.2 446.7 93.5Z" fill="#252cb4"/>
<path d="M437.4 98.9 438.4 98.6 504.9 98.6 504.9 118 400.5 118 424.4 105 437.1 99Z" fill="#2220a8"/></g><path d="M470 56.9 L496 57.0 Q499.8 57.3 498.4 59.6 L491 66.5" fill="none" stroke="#30c0f0" stroke-width="0.8"/><path d="M395 124.2 397 123 399 121.8 401 120.7 403 119.5 405 118.3 407 117.1 409 115.9 411 114.8 413 113.6 415 112.4 417 111.2 419 110 421 108.7 423 107.5 425 106.3 427 105.1 429 103.9 431 102.7 433 101.5 435 100.3 437 99.2 439 98 441 96.8 443 95.7 445 94.5 447 93.4 449 92.2 451 91.1 453 89.9 455 88.8 457 87.6 459 86.4 461 85.3 463 84.1 465 82.9 467 81.8 469 80.6 471 79.5 473 78.3 475 77.2 477 76 479 74.9 481 73.8 483 72.6 485 71.5 487 70.4 489 69.2 491 68.1 493 67 495 65.9 497 64.9 499 63.9 501 63 503 62 505 61.1 507 60.3 509 59.5 511 58.7 513 58 515 57.3 517 56.7 519 56.1 521 55.5 523 55 525 54.5 527 54 529 53.6 531 53.2 533 52.8 535 52.4 537 52.1 539 51.8 541 51.4 543 51.1 545 50.8 547 50.5 549 50.3 551 50 553 49.8 555 49.5 557 49.3 559 49 561 48.8 563 48.6 565 48.4 567 48.3 569 48.1 571 47.9 573 47.8 575 47.6 577 47.6 579 47.6 581 47.6 583 47.6 585 47.6 587 47.6 589 47.6 591 47.5 593 47.5 595 47.5 597 47.5 599 47.5 601 47.5 603 47.5 605 47.5 607 47.5 609 47.5 611 47.5" fill="none" stroke="#000" stroke-width="1.0"/><path d="M398.4 46.0 L540 46.1 L566 46.6 L574 47.6" fill="none" stroke="#555" stroke-width="0.6"/><path d="M560 47.2 L568 47.6 L572 47.9" fill="none" stroke="#222" stroke-width="1.2"/><path d="M517.5 55.2 L527.5 53.6 L523.5 55.6 L520 56.8 Z" fill="#d8a040"/></g></g><text x="441.6" y="165.6" font-size="10.2" fill="#000" stroke="#000" stroke-width="0.22">Saturated in water</text>
<rect x="398.45" y="153.95" width="214.5" height="74.55" fill="none" stroke="#222" stroke-width="1"/>
<path d="M398.45 153.95v-8.5M434.2 153.95v-8.5M469.95 153.95v-8.5M505.7 153.95v-8.5M541.45 153.95v-8.5M577.2 153.95v-8.5M612.95 153.95v-8.5" stroke="#222" stroke-width="1" fill="none"/>
<path d="M416.33 153.95v-4.5M452.08 153.95v-4.5M487.83 153.95v-4.5M523.58 153.95v-4.5M559.33 153.95v-4.5M595.08 153.95v-4.5" stroke="#222" stroke-width="1" fill="none"/>
<path d="M398.45 228.5v8.5M434.2 228.5v8.5M469.95 228.5v8.5M505.7 228.5v8.5M541.45 228.5v8.5M577.2 228.5v8.5M612.95 228.5v8.5" stroke="#222" stroke-width="1" fill="none"/>
<path d="M416.33 228.5v4.5M452.08 228.5v4.5M487.83 228.5v4.5M523.58 228.5v4.5M559.33 228.5v4.5M595.08 228.5v4.5" stroke="#222" stroke-width="1" fill="none"/>
<path d="M398.45 157.5h-8.5M398.45 193h-8.5M398.45 228.5h-8.5" stroke="#222" stroke-width="1" fill="none"/>
<path d="M398.45 164.6h-4.5M398.45 171.7h-4.5M398.45 178.8h-4.5M398.45 185.9h-4.5M398.45 200.1h-4.5M398.45 207.2h-4.5M398.45 214.3h-4.5M398.45 221.4h-4.5" stroke="#222" stroke-width="1" fill="none"/>
<path d="M612.95 157.5h8.5M612.95 193h8.5M612.95 228.5h8.5" stroke="#222" stroke-width="1" fill="none"/>
<path d="M612.95 164.6h4.5M612.95 171.7h4.5M612.95 178.8h4.5M612.95 185.9h4.5M612.95 200.1h4.5M612.95 207.2h4.5M612.95 214.3h4.5M612.95 221.4h4.5" stroke="#222" stroke-width="1" fill="none"/>
<text x="398.45" y="142.65" font-size="10.8" text-anchor="middle" fill="#000"  stroke="#000" stroke-width="0.22">500</text>
<text x="434.2" y="142.65" font-size="10.8" text-anchor="middle" fill="#000"  stroke="#000" stroke-width="0.22">400</text>
<text x="469.95" y="142.65" font-size="10.8" text-anchor="middle" fill="#000"  stroke="#000" stroke-width="0.22">300</text>
<text x="505.7" y="142.65" font-size="10.8" text-anchor="middle" fill="#000"  stroke="#000" stroke-width="0.22">200</text>
<text x="541.45" y="142.65" font-size="10.8" text-anchor="middle" fill="#000"  stroke="#000" stroke-width="0.22">100</text>
<text x="577.2" y="142.65" font-size="10.8" text-anchor="middle" fill="#000"  stroke="#000" stroke-width="0.22">0</text>
<text x="612.95" y="142.65" font-size="10.8" text-anchor="middle" fill="#000"  stroke="#000" stroke-width="0.22">−100</text>
<text x="387.5" y="161.4" font-size="10.8" text-anchor="end" fill="#000"  stroke="#000" stroke-width="0.22">0</text>
<text x="387.5" y="196.9" font-size="10.8" text-anchor="end" fill="#000"  stroke="#000" stroke-width="0.22">100</text>
<text x="387.5" y="232.4" font-size="10.8" text-anchor="end" fill="#000"  stroke="#000" stroke-width="0.22">200</text>
<g transform="translate(0 223.4)"><clipPath id="cf"><rect x="398.4" y="42.3" width="214.5" height="74.5"/></clipPath><g clip-path="url(#cf)"><rect x="395" y="40" width="222" height="85" fill="#fbbc6e"/><path d="M395 45.5 L562 45.5 Q572 46.0 578 47.5 L578 47.4 L577 47.4 L576 47.4 L575 47.4 L574 47.5 L573 47.6 L572 47.6 L571 47.7 L570 47.8 L569 47.9 L568 48 L567 48.1 L566 48.1 L565 48.2 L564 48.3 L563 48.4 L562 48.5 L561 48.6 L560 48.7 L559 48.8 L558 48.9 L557 49.1 L556 49.2 L555 49.3 L554 49.4 L553 49.6 L552 49.7 L551 49.8 L550 49.9 L549 50.1 L548 50.2 L540 50.0 L520 50.9 L500 51.1 L470 51.1 L440 50.4 L395 49.9 Z" fill="#a8dc8c"/><path d="M395 49.8 L440 50.3 L470 51.1 L500 51.0 L520 50.8 L540 49.5 L553 48.9 L553 49.5 L552 49.6 L551 49.7 L550 49.8 L549 50 L548 50.1 L547 50.2 L546 50.4 L545 50.5 L544 50.7 L543 50.8 L542 51 L541 51.1 L540 51.3 L539 51.5 L538 51.6 L536.9 51.8 L535.9 52 L534.9 52.1 L533.9 52.3 L532.9 52.5 L531.9 52.7 L530.9 52.9 L529.9 53.1 L528.9 53.3 L527.9 53.5 L526.9 53.7 L525.9 54 L524.9 54.2 L523.9 54.5 L522.9 54.7 L521.9 55 L520.9 55.3 L519.9 55.5 L518.9 55.8 L517.9 56.1 L518 54.8 L497.6 55.8 L492 57.6 L485 58.0 L475 57.8 L470 57.4 L446 55.8 L420 55.0 L395 54.7 Z" fill="#2ea02e"/><path d="M470 80 471 79.5 472 78.9 473 78.3 474 77.7 475 77.2 476 76.6 477 76 478 75.5 479 74.9 480 74.3 481 73.8 482 73.2 483 72.6 484 72.1 485 71.5 486 71 487 70.4 488 69.8 489 69.2 490 68.7 491 68.1 492 67.6 493 67 494 66.5 495 65.9 496 65.4 497 64.9 498 64.4 499 63.9 500 63.4 501 63 502 62.5 503 62 504 61.6 505 61.1 506 60.7 507 60.3 508 59.9 509 59.5 510 59.1 511 58.7 512 58.3 513 58 514 57.7 515 57.3 516 57 517 56.7 518 56.4 519 56.1 520 55.8 521 55.5 522 55.3 523 55 524 54.8 525 54.5 526 54.3 527 54 528 53.8 529 53.6 530 53.4 531 53.2 532 53 533 52.8 534 52.6 535 52.4 536 52.3 537 52.1 538 51.9 539 51.8 540 51.6 541 51.4 542 51.3 543 51.1 544 51 545 50.8 546 50.7 547 50.5 548 50.4 549 50.3 550 50.1 551 50 552 49.9 553 49.8 554 49.6 555 49.5 556 49.4 557 49.3 558 49.1 559 49 560 48.9 561 48.8 562 48.7 563 48.6 564 48.5 565 48.4 566 48.3 567 48.3 568 48.2 569 48.1 570 48 571 47.9 572 47.8 573 47.8 574 47.7 575 47.6 576 47.6 577 47.6 578 47.6 579 47.6 580 47.6 581 47.6 582 47.6 583 47.6 584 47.6 585 47.6 586 47.6 587 47.6 588 47.6 589 47.6 590 47.6 591 47.5 592 47.5 593 47.5 594 47.5 595 47.5 596 47.5 597 47.5 598 47.5 599 47.5 600 47.5 601 47.5 602 47.5 603 47.5 604 47.5 605 47.5 606 47.5 607 47.5 608 47.5 609 47.5 610 47.5 611 47.5 612 47.5 613 47.5 614 47.5 615 47.5 616 47.5 617 47.5 618 47.5 619 47.5 620 47.5 621 47.5 622 47.5 623 47.5 624 47.5 625 47.5 L625 51 624 51 623 51 622 51 621 51 620 51 619 51 618 51 617 51 616 51 615 51 614 51 613 51 612 51 611 51 610 51 609 51 608 51 607 51 606 51 605 51 604 51 603 51 602 51 601 51 600 51 599 51 598 51 597 51 596 51 595 51 594 51 593 51 592 51 591 51 590 51.1 589 51.1 588 51.1 587 51.1 586 51.1 585 51.1 584 51.1 583 51.1 582 51.1 581 51.1 580 51.1 579 51.1 578 51.1 577 51.1 576.1 51.1 575.1 51.1 574.2 51.2 573.2 51.2 572.3 51.3 571.3 51.4 570.3 51.5 569.3 51.6 568.3 51.7 567.3 51.7 566.3 51.8 565.3 51.9 564.3 52 563.3 52.1 562.4 52.2 561.4 52.3 560.4 52.4 559.4 52.5 558.4 52.6 557.4 52.7 556.4 52.9 555.4 53 554.4 53.1 553.4 53.2 552.4 53.4 551.4 53.5 550.4 53.6 549.5 53.7 548.5 53.9 547.5 54 546.5 54.1 545.5 54.3 544.5 54.4 543.5 54.6 542.5 54.7 541.6 54.9 540.6 55.1 539.6 55.2 538.6 55.4 537.6 55.5 536.6 55.7 535.6 55.9 534.6 56.1 533.6 56.2 532.7 56.4 531.7 56.6 530.7 56.8 529.7 57 528.7 57.2 527.8 57.4 526.8 57.7 525.8 57.9 524.9 58.1 523.9 58.4 522.9 58.7 521.9 58.9 521 59.2 520 59.5 519 59.8 518 60.1 517.1 60.4 516.1 60.7 515.1 61 514.1 61.3 513.2 61.6 512.2 62 511.3 62.4 510.3 62.7 509.3 63.1 508.4 63.5 507.4 63.9 506.4 64.4 505.4 64.8 504.5 65.2 503.5 65.7 502.5 66.1 501.5 66.6 500.5 67.1 499.5 67.5 498.6 68 497.6 68.5 496.6 69 495.7 69.5 494.7 70.1 493.7 70.6 492.7 71.2 491.7 71.7 490.7 72.3 489.7 72.9 488.7 73.4 487.7 74 486.7 74.6 485.7 75.1 484.7 75.7 483.7 76.3 482.7 76.8 481.7 77.4 480.7 77.9 479.7 78.5 478.7 79.1 477.7 79.6 476.7 80.2 475.7 80.8 474.7 81.4 473.7 81.9 472.7 82.5 471.7 83.1Z" fill="#f4929a"/><path d="M560 40 L625 40 L625 47.6 L577 47.6 L566 47.9 L560 45.4 Z" fill="#fff"/><path d="M548 46.2 L566 46.8 L577 47.6 L625 47.6 L625 45 L548 45 Z" fill="#fff"/><path d="M395 123.2 L409.8 114.9 L447.3 93.8 L469.2 82.1 L476.0 80.5 L473.0 83.3 L447.0 98.4 L409.8 119.6 L395 128.0 Z" fill="#e01e26"/><path d="M448 93.2 L469.2 81.6 L473.5 80.6" fill="none" stroke="#fb8a1c" stroke-width="1.0"/><path d="M441.6 91.2 L442.6 89.9 L460 81.5 L471 76.2 L489.6 69.2 L489.9 72.2 L471 79.8 L460 85.3 L443.8 91.5 Z" fill="#a0cce8"/><path d="M497.6 55.8 L518 54.8 L520 56.2 L487.9 69.8 L491.5 64.2 L497.2 58.6 Z" fill="#f98208"/><path d="M487.7 70.5 488.7 69.9 489.7 69.3 490.7 68.7 491.7 68.2 492.7 67.6 493.7 67.1 494.7 66.5 495.7 66 496.7 65.5 497.7 65 498.7 64.5 499.7 64 500.7 63.6 501.7 63.1 502.7 62.6 503.7 62.2 504.7 61.7 505.7 61.3 506.7 60.9 507.7 60.5 508.6 60 509.6 59.6 510.6 59.3 511.6 58.9 512.6 58.5 513.6 58.2 514.6 57.9 515.6 57.6 516.6 57.2 517.6 56.9 518.6 56.6 519.6 56.4 520.6 56.1 521.6 55.8 522.6 55.5 523.6 55.3 524.6 55 525.6 54.8 526.6 54.5 527.6 54.3 528.6 54.1 529.6 53.9 530.6 53.7 531.6 53.5 532.6 53.3 533.6 53.1 534.6 52.9 535.6 52.7 536.6 52.6 537.6 52.4 538.6 52.2 539.6 52.1 540.6 51.9 541.6 51.8 542.6 51.6 543.6 51.4 544.6 51.3 545.6 51.2 546.6 51 547.6 50.9 548.6 50.7 549.6 50.6 550.6 50.5 551.6 50.3 552.6 50.2" fill="none" stroke="#6a40a8" stroke-width="1.0"/><rect x="471.1" y="49.2" width="2.5" height="2.3" fill="#2a6cc8"/><rect x="471.1" y="55.3" width="2.5" height="2.3" fill="#2a6cc8"/><path d="M390 38 L620 38 L620 47.6 L578 47.6 L572 46.5 L565 45.8 L560 45.5 L390 45.5 Z" fill="#fff"/></g></g><path d="M455.8 286.2 L471.5 274.2 M455.8 286.2 L471.5 280.2 M454.5 303.0 L471.6 300.4 M453.2 325.3 L444.5 321.6 M485.3 287.9 L503.7 283.1 M520 296 L512.9 283.3 M558.5 283.3 L555.6 275.8" fill="none" stroke="#222" stroke-width="0.55"/><text x="448.8" y="275.9" font-size="9.8" fill="#000" stroke="#000" stroke-width="0.22">Qtz.</text><text x="477.2" y="281.7" font-size="9.8" fill="#000" stroke="#000" stroke-width="0.22">Ano.</text><text x="402.4" y="293.3" font-size="9.8" fill="#000" stroke="#000" stroke-width="0.22">Partial melting</text><text x="470.3" y="292.4" font-size="9.8" fill="#000" stroke="#000" stroke-width="0.22">Atg.</text><text x="402.4" y="306.6" font-size="9.8" fill="#000" stroke="#000" stroke-width="0.22">Shear zone</text><text x="402.4" y="322.6" font-size="9.8" fill="#000" stroke="#000" stroke-width="0.22">Olivine</text><text x="445.8" y="333.5" font-size="9.8" fill="#000" stroke="#000" stroke-width="0.22">Eclogite</text><text x="558.8" y="290.6" font-size="9.8" fill="#000" stroke="#000" stroke-width="0.22">Gabbro</text><text x="505.8" y="305.6" font-size="9.8" fill="#000" stroke="#000" stroke-width="0.22">Thin viscous layer</text><text x="505.8" y="314.6" font-size="9.8" fill="#000" stroke="#000" stroke-width="0.22">(Fault creep part)</text><text x="541.6" y="333.2" font-size="9.8" fill="#000" stroke="#000" stroke-width="0.22">Olivine</text>
<rect x="398.45" y="265.65" width="214.5" height="74.55" fill="none" stroke="#222" stroke-width="1"/>
<path d="M398.45 265.65v-8.5M434.2 265.65v-8.5M469.95 265.65v-8.5M505.7 265.65v-8.5M541.45 265.65v-8.5M577.2 265.65v-8.5M612.95 265.65v-8.5" stroke="#222" stroke-width="1" fill="none"/>
<path d="M416.33 265.65v-4.5M452.08 265.65v-4.5M487.83 265.65v-4.5M523.58 265.65v-4.5M559.33 265.65v-4.5M595.08 265.65v-4.5" stroke="#222" stroke-width="1" fill="none"/>
<path d="M398.45 340.2v8.5M434.2 340.2v8.5M469.95 340.2v8.5M505.7 340.2v8.5M541.45 340.2v8.5M577.2 340.2v8.5M612.95 340.2v8.5" stroke="#222" stroke-width="1" fill="none"/>
<path d="M416.33 340.2v4.5M452.08 340.2v4.5M487.83 340.2v4.5M523.58 340.2v4.5M559.33 340.2v4.5M595.08 340.2v4.5" stroke="#222" stroke-width="1" fill="none"/>
<path d="M398.45 269.2h-8.5M398.45 304.7h-8.5M398.45 340.2h-8.5" stroke="#222" stroke-width="1" fill="none"/>
<path d="M398.45 276.3h-4.5M398.45 283.4h-4.5M398.45 290.5h-4.5M398.45 297.6h-4.5M398.45 311.8h-4.5M398.45 318.9h-4.5M398.45 326h-4.5M398.45 333.1h-4.5" stroke="#222" stroke-width="1" fill="none"/>
<path d="M612.95 269.2h8.5M612.95 304.7h8.5M612.95 340.2h8.5" stroke="#222" stroke-width="1" fill="none"/>
<path d="M612.95 276.3h4.5M612.95 283.4h4.5M612.95 290.5h4.5M612.95 297.6h4.5M612.95 311.8h4.5M612.95 318.9h4.5M612.95 326h4.5M612.95 333.1h4.5" stroke="#222" stroke-width="1" fill="none"/>
<text x="398.45" y="254.35" font-size="10.8" text-anchor="middle" fill="#000"  stroke="#000" stroke-width="0.22">500</text>
<text x="434.2" y="254.35" font-size="10.8" text-anchor="middle" fill="#000"  stroke="#000" stroke-width="0.22">400</text>
<text x="469.95" y="254.35" font-size="10.8" text-anchor="middle" fill="#000"  stroke="#000" stroke-width="0.22">300</text>
<text x="505.7" y="254.35" font-size="10.8" text-anchor="middle" fill="#000"  stroke="#000" stroke-width="0.22">200</text>
<text x="541.45" y="254.35" font-size="10.8" text-anchor="middle" fill="#000"  stroke="#000" stroke-width="0.22">100</text>
<text x="577.2" y="254.35" font-size="10.8" text-anchor="middle" fill="#000"  stroke="#000" stroke-width="0.22">0</text>
<text x="612.95" y="254.35" font-size="10.8" text-anchor="middle" fill="#000"  stroke="#000" stroke-width="0.22">−100</text>
<text x="387.5" y="273.1" font-size="10.8" text-anchor="end" fill="#000"  stroke="#000" stroke-width="0.22">0</text>
<text x="387.5" y="308.6" font-size="10.8" text-anchor="end" fill="#000"  stroke="#000" stroke-width="0.22">100</text>
<text x="387.5" y="344.1" font-size="10.8" text-anchor="end" fill="#000"  stroke="#000" stroke-width="0.22">200</text>
<g transform="translate(0 335.1)"><clipPath id="cg"><rect x="398.4" y="42.3" width="214.5" height="74.5"/></clipPath><g clip-path="url(#cg)"><rect x="395" y="40" width="222" height="85" fill="#b00000"/><path d="M397.9 43 613.9 43 613.9 118 397.4 118 397.4 43Z" fill="#ba0000"/>
<path d="M397.9 43 613.9 43 613.9 118 397.4 118 397.4 43Z" fill="#c30000"/>
<path d="M397.9 43 613.9 43 613.9 118 397.4 118 397.4 43Z" fill="#cd0000"/>
<path d="M397.9 43 613.9 43 613.9 118 397.4 118 397.4 43Z" fill="#d60000"/>
<path d="M397.9 43 613.9 43 613.9 118 397.4 118 397.4 43Z" fill="#e00000"/>
<path d="M397.9 43 613.9 43 613.9 118 397.4 118 397.4 43Z" fill="#e60a00"/>
<path d="M397.9 43 613.9 43 613.9 118 397.4 118 397.4 43Z" fill="#ec1300"/>
<path d="M397.9 43 613.9 43 613.9 118 397.4 118 397.4 43Z" fill="#f31d00"/>
<path d="M397.9 43 613.9 43 613.9 118 397.4 118 397.4 43Z" fill="#f92600"/>
<path d="M397.9 43 613.9 43 613.9 118 397.4 118 397.4 43Z" fill="#ff3000"/>
<path d="M397.9 43 613.9 43 613.9 118 397.4 118 397.4 43Z" fill="#ff4300"/>
<path d="M397.9 43 613.9 43 613.9 118 397.4 118 397.4 43ZM480.2 74 480.4 73.9ZM479.2 74.5 479.4 74.4ZM478.4 75Z" fill="#ff5600"/>
<path d="M397.9 43 613.9 43 613.9 118 397.4 118 397.4 43ZM480.7 73.5 481.4 73.5 481.4 73.3 480.9 73.4ZM479.6 74 480.4 74 480.4 73.6 479.9 73.9ZM478.6 74.5 479.4 74.5 479.4 74.1 478.9 74.4ZM477.8 75 477.1 75.5 477.9 75.5 478.4 75 478.4 74.7 477.9 74.9ZM476.9 76Z" fill="#ff6a00"/>
<path d="M397.9 43 613.9 43 613.9 118 397.4 118 397.4 43ZM481.4 73 478.2 74.5 476.1 76 476.9 76 477.4 75.5 477.9 75.5 478.9 74.5 479.4 74.5 479.9 74 480.4 74 480.9 73.5 481.4 73.5 481.9 72.8 481.4 73ZM475.9 76.5Z" fill="#ff7d00"/>
<path d="M397.9 43 613.9 43 613.9 118 397.4 118 397.4 43ZM482.2 72.5 482.9 72.5 482.9 72.3 482.4 72.4ZM480.9 73 477.1 75 475.1 76.5 475.9 76.5 476.4 76 476.9 76 477.4 75.5 477.9 75.5 478.9 74.5 479.4 74.5 479.9 74 480.4 74 480.9 73.5 481.4 73.5 481.9 73 481.9 72.6 481.4 72.8Z" fill="#ff9000"/>
<path d="M397.9 43 613.9 43 613.9 118 397.4 118 397.4 43ZM483.1 72 483.9 72 483.9 71.8 483.4 71.9ZM481.7 72.5 478.9 73.8 476 75.5 474.7 76.5 474.2 77 474.4 77.3 475.4 76.5 475.9 76.5 476.4 76 476.9 76 477.4 75.5 477.9 75.5 478.9 74.5 479.4 74.6 479.9 74 480.4 74.1 480.9 73.5 481.4 73.5 482.4 72.5 482.9 72.5 482.9 72.1 481.9 72.4Z" fill="#ff9d00"/>
<path d="M397.9 43 613.9 43 613.9 118 397.4 118 397.4 43ZM484.1 71.5 484.9 71.5 484.9 71.3 484.4 71.4ZM482.6 72 479.4 73.4 476.5 75 474.3 76.5 473.4 77.5 474.4 77.5 475.4 76.5 475.9 76.5 476.4 76 476.9 76.1 477.4 75.6 477.9 75.6 478.9 74.6 479.4 74.6 479.9 74.1 480.4 74.1 480.9 73.6 481.4 73.6 482.4 72.5 482.9 72.5 483.4 72 483.9 72 483.9 71.5 482.9 71.9Z" fill="#ffaa00"/>
<path d="M397.9 43 613.9 43 613.9 118 397.4 118 397.4 43ZM485.1 71 485.9 71 485.9 70.9 485.4 70.9ZM483.4 71.5 480.4 72.7 476.4 74.8 473.3 77 472.8 77.5 472.6 78 473.4 78 473.9 77.5 474.4 77.5 475.4 76.5 475.9 76.6 476.4 76.1 476.9 76.1 477.4 75.6 477.9 75.6 478.9 74.6 479.4 74.6 479.9 74.1 480.4 74.1 480.9 73.6 481.4 73.6 482.4 72.5 482.9 72.6 483.4 72 483.9 72 484.4 71.5 484.9 71.5 484.9 71 483.9 71.3Z" fill="#ffb600"/>
<path d="M397.9 43 613.9 43 613.9 118 397.4 118 397.4 43ZM472.1 70.5 469.5 71.5 466.5 73 464.1 74.5 463.1 75.5 463.4 75.9 464.4 75.8 468.2 74.5 472.9 72 474.5 70.5 473.9 70.2 472.4 70.4ZM486.1 70.5 486.4 70.4ZM484.3 71 479.9 72.8 475.4 75.2 472.3 77.5 471.9 78 471.9 78.5 472.4 78.5 472.9 78 473.4 78 473.9 77.5 474.4 77.5 475.4 76.6 475.9 76.6 476.4 76.1 476.9 76.1 477.4 75.6 477.9 75.6 478.9 74.6 479.4 74.6 479.9 74.1 480.4 74.1 480.9 73.6 481.4 73.6 482.4 72.6 482.9 72.6 483.4 72.1 483.9 72.1 484.4 71.5 484.9 71.5 485.4 71 485.9 71 485.9 70.5 484.4 71Z" fill="#ffc300"/>
<path d="M397.9 43 613.9 43 613.9 118 397.4 118 397.4 43ZM477.3 68 475 68.5 472 69.5 465.5 72.5 460.5 75.5 458.7 77 458 78 458.3 78.5 458.9 78.6 461.7 78 465.9 76.5 471.2 74 475.5 71.5 478.1 69.5 478.8 68.5 478.4 68.1 477.4 68ZM487.2 70 487.4 70ZM485.1 70.5 480.4 72.4 474.9 75.3 471.8 77.5 471 78.5 471.1 79 471.4 79 471.9 78.5 472.4 78.5 472.9 78 473.4 78 473.9 77.6 474.4 77.6 475.4 76.6 475.9 76.6 476.4 76.1 476.9 76.1 477.4 75.6 477.9 75.6 478.9 74.6 479.4 74.6 479.9 74.1 480.4 74.1 480.9 73.6 481.4 73.6 482.4 72.6 482.9 72.6 483.4 72.1 483.9 72.1 484.4 71.6 484.9 71.6 485.4 71 485.9 71 486.4 70.5 486.4 70.1 485.4 70.4Z" fill="#ffd000"/>
<path d="M397.9 43 613.9 43 613.9 118 397.4 118 397.4 43ZM479 66.5 475.4 67.5 471.9 68.8 467.4 70.7 462.9 73 458.6 75.5 455.7 77.5 453.5 79.5 453 80.5 453.4 80.9 454.4 81 456.4 80.7 458.9 80 465.4 77.5 472.4 74.2 476.3 72 479.3 70 481.6 68 482.1 67 481.9 66.5 481.4 66.3 479.4 66.4ZM488 69.5 488.4 69.5ZM485.9 70 479.9 72.3 474.4 75.3 470.7 78 469.9 79 470.1 79.5 470.9 79.5 471.9 78.5 472.4 78.5 472.9 78.1 473.4 78.1 473.9 77.6 474.4 77.6 475.4 76.6 475.9 76.6 476.4 76.1 476.9 76.1 477.4 75.6 477.9 75.6 478.9 74.6 479.4 74.6 479.9 74.1 480.4 74.1 480.9 73.6 481.4 73.6 482.4 72.6 482.9 72.6 483.4 72.1 483.9 72.1 484.4 71.6 484.9 71.6 485.4 71.1 485.9 71.1 486.9 70 487.4 70 487.4 69.6 485.9 70Z" fill="#ffd900"/>
<path d="M397.9 43 613.9 43 613.9 118 397.4 118 397.4 43ZM481.1 65 476.4 66.3 471.4 68.2 465.4 70.9 459.9 73.7 454.2 77 449 80.5 447.2 82 446.4 83 446.2 83.5 446.4 84 447.4 84.2 449.4 84 455.9 82.2 463.4 79.3 474.4 74.3 474.6 74.5 471.4 76.7 469 79 468.7 79.5 468.8 80 469.9 80 470.4 79.5 470.9 79.5 471.9 78.5 472.4 78.6 472.9 78.1 473.4 78.1 473.9 77.6 474.4 77.6 475.4 76.6 475.9 76.6 476.4 76.1 476.9 76.1 477.4 75.6 477.9 75.6 478.9 74.6 479.4 74.6 479.9 74.1 480.4 74.1 480.9 73.6 481.4 73.6 482.4 72.6 482.9 72.6 483.4 72.1 483.9 72.1 484.4 71.6 484.9 71.6 485.4 71.1 485.9 71.1 486.9 70 487.4 70 487.9 69.5 488.4 69.5 488.9 69 489.4 69 488.4 69 485.4 69.8 478.9 72.3 476.4 73.5 475.9 73.6 475.6 73.5 478.4 71.7 482.9 68.5 484.5 67 485.2 66 485.3 65.5 485.1 65 484.4 64.7 481.4 64.9ZM474.9 73.9 475.4 73.8 475.5 74 474.9 74.1 474.7 74Z" fill="#ffe300"/>
<path d="M397.9 43 613.9 43 613.9 118 397.4 118 397.4 43ZM483 63.5 477.9 64.9 471.4 67.3 463.4 70.9 454.9 75.2 444.2 81 438.5 84.5 436.4 86 434.7 87.5 433.9 88.5 433.7 89 433.8 89.5 434.9 90 436.4 89.9 438.9 89.5 443.4 88.2 452.9 84.8 466.4 79.2 466.9 79.2 467.1 79.5 466.9 80.5 467.4 80.9 467.8 81 468.4 80.5 468.9 80.5 469.4 80 469.9 80 470.4 79.5 470.9 79.5 471.9 78.6 472.4 78.6 472.9 78.1 473.4 78.1 473.9 77.6 474.4 77.6 475.4 76.6 475.9 76.6 476.4 76.1 476.9 76.1 477.4 75.6 477.9 75.6 478.9 74.6 479.4 74.6 479.9 74.1 480.4 74.1 480.9 73.6 481.4 73.6 482.4 72.6 482.9 72.6 483.4 72.1 483.9 72.1 484.4 71.6 484.9 71.6 485.4 71.1 485.9 71.1 486.9 70 487.4 70.1 487.9 69.5 488.4 69.5 488.9 69 489.4 69 489.9 68.5 489.9 68.2 485.4 69.2 484.4 69.1 488 65.5 488.6 64.5 488.7 64 488.4 63.5 487.4 63.1 485.9 63.1 483.4 63.4Z" fill="#ffec00"/>
<path d="M397.9 43 613.9 43 613.9 83.1 574.9 83.3 566.4 84.1 554.9 85.8 547.9 87 542.9 88.3 534.9 90.6 524.4 94.3 515.9 98 509.4 101.4 480.4 118 397.4 118 397.4 43ZM484.8 62 477.9 63.8 468.4 67.3 449.4 75.8 437.4 81.6 429.9 86 424.4 90 422.3 92 421 93.5 420.4 95 420.5 96 421.2 96.5 421.9 96.7 424.4 96.8 427.9 96.3 432.4 95 437.9 93.2 443.9 90.8 461.4 83 462.9 82.6 465.4 82.4 465.9 82 466.4 82 466.9 81.5 467.4 81.5 468.4 80.5 468.9 80.5 469.4 80 469.9 80 470.4 79.6 470.9 79.6 471.9 78.6 472.4 78.6 472.9 78.1 473.4 78.1 473.9 77.6 474.4 77.6 475.4 76.6 475.9 76.6 476.4 76.1 476.9 76.1 477.4 75.7 477.9 75.7 478.9 74.7 479.4 74.7 479.9 74.2 480.4 74.2 480.9 73.7 481.4 73.7 482.4 72.6 482.9 72.6 483.4 72.1 483.9 72.1 484.4 71.6 484.9 71.6 485.4 71.1 485.9 71.1 486.9 70.1 487.4 70.1 487.9 69.6 488.4 69.6 488.9 69 489.4 69 490.4 68 490.9 68 491.4 67.5 491.9 67.5 492.2 67 490.3 67 490 66.5 492.5 63.5 492.6 62.5 492 62 490.9 61.7 489.4 61.6 484.9 62ZM572.9 88.5 577.4 88.2 613.9 88.1 613.9 97.6 576.9 97.7 567.9 98.5 554.3 100.5 547.9 101.6 544.6 102.5 538.4 104.3 533.5 106 529.8 107.5 520.4 111.8 509.4 118 490.3 118 516 103.5 523.9 99.8 532.9 96.4 539.4 94.3 548.4 92 563.4 89.6 572.8 88.5ZM574.4 103 577.4 102.7 613.9 102.7 613.9 118 519.7 118 522.9 116.3 532.4 111.8 537.9 109.7 543.9 107.9 547.9 106.8 555.9 105.4 567.4 103.7 574 103Z" fill="#fff600"/>
<path d="M397.9 43 613.9 43 613.9 80.4 577.4 80.5 573.9 80.7 564.4 81.7 551.4 83.7 547.9 84.3 540.4 86.2 533.9 88.2 523.4 91.8 518.9 93.6 513.4 96.2 495.4 106.2 475.1 118 397.4 118 397.4 43ZM488.4 60.5 483.4 61.1 474.4 62.8 467.9 64.2 462.4 65.8 456.9 67.8 449.4 70.9 440.9 74.7 433.4 78.3 426.9 81.8 419.4 86.3 413.4 90.3 407.8 94.5 403.4 98.5 400.9 101.5 399.6 104 399.5 105 399.7 106 400.4 106.8 401.4 107.3 403.9 107.8 407.9 107.7 412.9 106.8 418.9 105.3 425.4 103.3 435.9 99.3 437.4 98.5 437.9 98.5 438.4 98 438.9 98 439.9 97 440.4 97 440.9 96.5 441.4 96.5 441.9 96 442.4 96 443.4 95 443.9 95 444.4 94.5 444.9 94.5 445.9 93.5 446.4 93.5 446.9 93 447.4 93 447.9 92.5 448.4 92.5 449.4 91.5 449.9 91.5 450.4 91 450.9 91 451.4 90.5 451.9 90.5 452.9 89.5 453.4 89.5 453.9 89 454.4 89 454.9 88.5 455.4 88.5 456.4 87.5 456.9 87.5 457.4 87 457.9 87 458.9 86 459.4 86 459.9 85.5 460.4 85.5 460.9 85 461.4 85 462.4 84 462.9 84 463.4 83.5 463.9 83.5 464.9 82.5 465.4 82.5 465.9 82 466.4 82 466.9 81.5 467.4 81.5 468.4 80.5 468.9 80.5 469.4 80.1 469.9 80.1 470.4 79.6 470.9 79.6 471.9 78.6 472.4 78.6 472.9 78.1 473.4 78.1 473.9 77.6 474.4 77.6 475.4 76.6 475.9 76.7 476.4 76.2 476.9 76.2 477.4 75.7 477.9 75.7 478.9 74.7 479.4 74.7 479.9 74.2 480.4 74.2 480.9 73.7 481.4 73.7 482.4 72.6 482.9 72.7 483.4 72.1 483.9 72.1 484.4 71.6 484.9 71.6 485.4 71.1 485.9 71.1 486.9 70.1 487.4 70.1 487.9 69.6 488.4 69.6 488.9 69.1 489.4 69.1 490.4 68 490.9 68 491.4 67.5 491.9 67.5 492.4 67 492.9 67 493.4 66.5 493.9 66.5 494.9 65.5 495.4 65.5 495.9 65 496.4 65 496.9 64.5 497.4 64.5 497.9 64 498.4 64 498.7 63.5 498.6 62.5 498.4 62 497.8 61.5 496.7 61 493.4 60.4 488.9 60.5ZM597.4 91 613.9 91 613.9 94.1 576.4 94.2 565.9 95.3 547.9 98.2 536.9 101.2 531.4 103.2 525.4 105.7 517.9 109.3 502.4 118 496.1 118 515.5 107 521.6 104 525 102.5 534 99 543.9 96 547.9 95 553.4 94 563.1 92.5 571.4 91.5 576.9 91.1 597.4 91ZM572.9 106.5 577.4 106.1 613.9 106 613.9 118 527.2 118 532.1 115.5 535.7 114 541.5 112 546.9 110.5 557.7 108.5 567.9 107 572.8 106.5Z" fill="#ffff00"/>
<path d="M397.9 43 613.9 43 613.9 76 576.9 76.2 571.5 76.5 562.9 77.5 549.9 79.5 547.3 80 537.7 82.5 521 88 511 92.5 490.5 104 466.3 118 405.4 118 406.4 117 406.9 117 407.4 116.5 407.9 116.5 408.4 116 408.9 116 409.9 115 410.4 115 410.9 114.5 411.4 114.5 412.4 113.5 412.9 113.5 413.4 113 413.9 113 414.9 112 415.4 112 415.9 111.5 416.4 111.5 417.4 110.5 417.9 110.5 418.4 110 418.9 110 419.9 109 420.4 109 420.9 108.5 421.4 108.5 422.4 107.5 422.9 107.5 423.9 106.5 424.4 106.5 424.9 106 425.4 106 426.4 105 426.9 105 427.4 104.5 427.9 104.5 428.9 103.5 429.4 103.5 429.9 103 430.4 103 431.4 102 431.9 102 432.4 101.5 432.9 101.5 433.4 101 433.9 101 434.9 100 435.4 100 435.9 99.5 436.4 99.5 437.4 98.5 437.9 98.5 438.4 98 438.9 98 439.9 97 440.4 97 440.9 96.5 441.4 96.5 441.9 96 442.4 96 443.4 95 443.9 95 444.4 94.5 444.9 94.5 445.9 93.5 446.4 93.5 446.9 93 447.4 93 447.9 92.5 448.4 92.5 449.4 91.5 449.9 91.5 450.4 91 450.9 91 451.4 90.5 451.9 90.5 452.9 89.5 453.4 89.5 453.9 89 454.4 89 454.9 88.5 455.4 88.5 456.4 87.5 456.9 87.5 457.4 87 457.9 87 458.9 86 459.4 86 459.9 85.5 460.4 85.5 460.9 85 461.4 85 462.4 84 462.9 84 463.4 83.5 463.9 83.5 464.9 82.5 465.4 82.5 465.9 82 466.4 82 466.9 81.5 467.4 81.5 468.4 80.6 468.9 80.6 469.4 80.1 469.9 80.1 470.4 79.6 470.9 79.6 471.9 78.6 472.4 78.6 472.9 78.1 473.4 78.1 473.9 77.6 474.4 77.6 475.4 76.7 475.9 76.7 476.4 76.2 476.9 76.2 477.4 75.7 477.9 75.7 478.9 74.7 479.4 74.7 479.9 74.2 480.4 74.2 480.9 73.7 481.4 73.7 482.4 72.7 482.9 72.7 483.4 72.2 483.9 72.2 484.4 71.6 484.9 71.6 485.4 71.1 485.9 71.1 486.9 70.1 487.4 70.1 487.9 69.6 488.4 69.6 488.9 69.1 489.4 69.1 490.4 68.1 490.9 68.1 491.4 67.5 491.9 67.5 492.4 67 492.9 67 493.4 66.5 493.9 66.5 494.9 65.5 495.4 65.5 495.9 65 496.4 65 496.9 64.5 497.4 64.5 497.9 64 498.4 64 498.9 63.5 499.4 63.5 499.9 63 500.9 63 501.4 62.5 501.9 62.5 502.4 62 502.9 62 503.4 61.5 503.9 61.5 504.4 61 504.9 61 505.4 60.5 506.4 60.4 497.4 59.7 493.4 59.5 488.9 59.7 479.9 60.4 471.9 60.5 450.4 60.4 439.9 60.1 397.4 60.1 397.4 43Z" fill="#f9f900"/>
<path d="M397.9 43 613.9 43 613.9 74.9 576.9 75 570.2 75.5 562.1 76.5 549.2 78.5 537.3 81.5 521.9 86.5 516.9 88.5 510.5 91.5 490.8 102.5 464.1 118 405.4 118 406.4 117 406.9 117 407.4 116.5 407.9 116.5 408.4 116 408.9 116 409.9 115 410.4 115 410.9 114.5 411.4 114.5 412.4 113.5 412.9 113.5 413.4 113 413.9 113 414.9 112 415.4 112 415.9 111.5 416.4 111.5 417.4 110.5 417.9 110.5 418.4 110 418.9 110 419.9 109 420.4 109 420.9 108.5 421.4 108.5 422.4 107.5 422.9 107.5 423.9 106.5 424.4 106.5 424.9 106 425.4 106 426.4 105 426.9 105 427.4 104.5 427.9 104.5 428.9 103.5 429.4 103.5 429.9 103 430.4 103 431.4 102 431.9 102 432.4 101.5 432.9 101.5 433.4 101 433.9 101 434.9 100 435.4 100 435.9 99.5 436.4 99.5 437.4 98.5 437.9 98.5 438.4 98 438.9 98 439.9 97 440.4 97 440.9 96.5 441.4 96.5 441.9 96 442.4 96 443.4 95 443.9 95 444.4 94.5 444.9 94.5 445.9 93.5 446.4 93.5 446.9 93 447.4 93 447.9 92.5 448.4 92.5 449.4 91.5 449.9 91.5 450.4 91 450.9 91 451.4 90.5 451.9 90.5 452.9 89.5 453.4 89.5 453.9 89 454.4 89 454.9 88.5 455.4 88.5 456.4 87.5 456.9 87.5 457.4 87 457.9 87 458.9 86 459.4 86 459.9 85.5 460.4 85.5 460.9 85 461.4 85 462.4 84 462.9 84 463.4 83.6 463.9 83.6 464.9 82.6 465.4 82.6 465.9 82.1 466.4 82.1 466.9 81.6 467.4 81.6 468.4 80.6 468.9 80.6 469.4 80.1 469.9 80.1 470.4 79.6 470.9 79.6 471.9 78.6 472.4 78.6 472.9 78.1 473.4 78.1 473.9 77.7 474.4 77.7 475.4 76.7 475.9 76.7 476.4 76.2 476.9 76.2 477.4 75.7 477.9 75.7 478.9 74.7 479.4 74.7 479.9 74.2 480.4 74.2 480.9 73.7 481.4 73.7 482.4 72.7 482.9 72.7 483.4 72.2 483.9 72.2 484.4 71.7 484.9 71.7 485.4 71.1 485.9 71.1 486.9 70.1 487.4 70.1 487.9 69.6 488.4 69.6 488.9 69.1 489.4 69.1 490.4 68.1 490.9 68.1 491.4 67.6 491.9 67.6 492.4 67.1 492.9 67.1 493.4 66.6 493.9 66.6 494.9 65.5 495.4 65.5 495.9 65 496.4 65 496.9 64.5 497.4 64.5 497.9 64 498.4 64 498.9 63.5 499.4 63.5 499.9 63 500.9 63 501.4 62.5 501.9 62.5 502.4 62 502.9 62 503.4 61.5 503.9 61.5 504.4 61 504.9 61 505.4 60.5 506.4 60.5 506.9 60 507.4 60 507.9 59.5 508.9 59.5 508.9 59.3 494.9 58.9 475.9 59.5 439.9 59.2 397.4 59.3 397.4 43Z" fill="#f3f300"/>
<path d="M397.9 43 613.9 43 613.9 74.3 577.4 74.4 573.9 74.6 564.8 75.5 548.4 78 536.8 81 521.4 86 516.5 88 510.1 91 490.4 102 462.8 118 405.5 118 406.4 117.1 406.9 117.1 407.4 116.6 407.9 116.6 408.4 116.1 408.9 116.1 409.9 115.1 410.4 115.1 410.9 114.6 411.4 114.6 412.4 113.6 412.9 113.6 413.4 113.1 413.9 113.1 414.9 112.1 415.4 112.1 415.9 111.6 416.4 111.6 417.4 110.6 417.9 110.6 418.4 110.1 418.9 110.1 419.9 109.1 420.4 109.1 420.9 108.6 421.4 108.6 422.4 107.6 422.9 107.6 423.9 106.6 424.4 106.6 424.9 106.1 425.4 106.1 426.4 105.1 426.9 105.1 427.4 104.6 427.9 104.6 428.9 103.6 429.4 103.6 429.9 103.1 430.4 103.1 431.4 102.1 431.9 102.1 432.4 101.6 432.9 101.6 433.4 101.1 433.9 101.1 434.9 100.1 435.4 100.1 435.9 99.6 436.4 99.6 437.4 98.6 437.9 98.6 438.4 98.1 438.9 98.1 439.9 97.1 440.4 97.1 440.9 96.6 441.4 96.6 441.9 96.1 442.4 96.1 443.4 95.1 443.9 95.1 444.4 94.6 444.9 94.6 445.9 93.6 446.4 93.6 446.9 93.1 447.4 93.1 447.9 92.6 448.4 92.6 449.4 91.6 449.9 91.6 450.4 91.1 450.9 91.1 451.4 90.6 451.9 90.6 452.9 89.6 453.4 89.6 453.9 89.1 454.4 89.1 454.9 88.6 455.4 88.6 456.4 87.6 456.9 87.6 457.4 87.1 457.9 87.1 458.9 86.1 459.4 86.1 459.9 85.6 460.4 85.6 460.9 85.1 461.4 85.1 462.4 84.1 462.9 84.1 463.4 83.6 463.9 83.6 464.9 82.6 465.4 82.6 465.9 82.1 466.4 82.1 466.9 81.6 467.4 81.6 468.4 80.6 468.9 80.6 469.4 80.1 469.9 80.1 470.4 79.6 470.9 79.6 471.9 78.6 472.4 78.6 472.9 78.2 473.4 78.2 473.9 77.7 474.4 77.7 475.4 76.7 475.9 76.7 476.4 76.2 476.9 76.2 477.4 75.7 477.9 75.7 478.9 74.7 479.4 74.7 479.9 74.2 480.4 74.2 480.9 73.7 481.4 73.7 482.4 72.7 482.9 72.7 483.4 72.2 483.9 72.2 484.4 71.7 484.9 71.7 485.4 71.2 485.9 71.2 486.9 70.1 487.4 70.1 487.9 69.6 488.4 69.6 488.9 69.1 489.4 69.1 490.4 68.1 490.9 68.1 491.4 67.6 491.9 67.6 492.4 67.1 492.9 67.1 493.4 66.6 493.9 66.6 494.9 65.6 495.4 65.6 495.9 65.1 496.4 65.1 496.9 64.6 497.4 64.6 497.9 64.1 498.4 64.1 498.9 63.6 499.4 63.6 499.9 63.1 500.9 63.1 501.4 62.6 501.9 62.6 502.4 62.1 502.9 62.1 503.4 61.6 503.9 61.6 504.4 61 504.9 61 505.4 60.5 506.4 60.5 506.9 60 507.4 60 507.9 59.5 508.9 59.5 509.4 59 509.9 59 509.9 58.7 496.4 58.4 476.4 58.9 397.4 58.9 397.4 43Z" fill="#e6f006"/>
<path d="M397.9 43 613.9 43 613.9 73.9 576.9 73.9 569.9 74.4 561.4 75.5 548.6 77.5 536.9 80.5 521.4 85.5 516.5 87.5 510.1 90.5 490.4 101.5 461.9 118 405.5 118 406.4 117.1 406.9 117.1 407.4 116.6 407.9 116.6 408.4 116.1 408.9 116.1 409.9 115.1 410.4 115.1 410.9 114.6 411.4 114.6 412.4 113.6 412.9 113.6 413.4 113.1 413.9 113.1 414.9 112.1 415.4 112.1 415.9 111.6 416.4 111.6 417.4 110.6 417.9 110.6 418.4 110.1 418.9 110.1 419.9 109.1 420.4 109.1 420.9 108.6 421.4 108.6 422.4 107.6 422.9 107.6 423.9 106.6 424.4 106.6 424.9 106.1 425.4 106.1 426.4 105.1 426.9 105.1 427.4 104.6 427.9 104.6 428.9 103.6 429.4 103.6 429.9 103.1 430.4 103.1 431.4 102.1 431.9 102.1 432.4 101.6 432.9 101.6 433.4 101.1 433.9 101.1 434.9 100.1 435.4 100.1 435.9 99.6 436.4 99.6 437.4 98.6 437.9 98.6 438.4 98.1 438.9 98.1 439.9 97.1 440.4 97.1 440.9 96.6 441.4 96.6 441.9 96.1 442.4 96.1 443.4 95.1 443.9 95.1 444.4 94.6 444.9 94.6 445.9 93.6 446.4 93.6 446.9 93.1 447.4 93.1 447.9 92.6 448.4 92.6 449.4 91.6 449.9 91.6 450.4 91.1 450.9 91.1 451.4 90.6 451.9 90.6 452.9 89.6 453.4 89.6 453.9 89.1 454.4 89.1 454.9 88.6 455.4 88.6 456.4 87.6 456.9 87.6 457.4 87.1 457.9 87.1 458.9 86.1 459.4 86.1 459.9 85.6 460.4 85.6 460.9 85.1 461.4 85.1 462.4 84.1 462.9 84.1 463.4 83.6 463.9 83.6 464.9 82.6 465.4 82.6 465.9 82.1 466.4 82.1 466.9 81.6 467.4 81.6 468.4 80.6 468.9 80.6 469.4 80.1 469.9 80.1 470.4 79.6 470.9 79.6 471.9 78.7 472.4 78.7 472.9 78.2 473.4 78.2 473.9 77.7 474.4 77.7 475.4 76.7 475.9 76.7 476.4 76.2 476.9 76.2 477.4 75.7 477.9 75.7 478.9 74.7 479.4 74.7 479.9 74.2 480.4 74.2 480.9 73.7 481.4 73.7 482.4 72.7 482.9 72.7 483.4 72.2 483.9 72.2 484.4 71.7 484.9 71.7 485.4 71.2 485.9 71.2 486.9 70.1 487.4 70.1 487.9 69.6 488.4 69.6 488.9 69.1 489.4 69.1 490.4 68.1 490.9 68.1 491.4 67.6 491.9 67.6 492.4 67.1 492.9 67.1 493.4 66.6 493.9 66.6 494.9 65.6 495.4 65.6 495.9 65.1 496.4 65.1 496.9 64.6 497.4 64.6 497.9 64.1 498.4 64.1 498.9 63.6 499.4 63.6 499.9 63.1 500.9 63.1 501.4 62.6 501.9 62.6 502.4 62.1 502.9 62.1 503.4 61.6 503.9 61.6 504.4 61.1 504.9 61.1 505.4 60.6 506.4 60.6 506.9 60.1 507.4 60.1 507.9 59.5 508.9 59.5 509.4 59 509.9 59 510.4 58.5 511.4 58.5 511.4 58.2 497.9 58 474.4 58.4 397.4 58.5 397.4 43Z" fill="#d3f013"/>
<path d="M397.9 43 613.9 43 613.9 73.5 576.9 73.6 570.6 74 562.3 75 549.4 77 544.9 78 535.6 80.5 520.4 85.5 515.6 87.5 509.2 90.5 487.9 102.5 461.2 118 405.5 118 406.4 117.1 406.9 117.1 407.4 116.6 407.9 116.6 408.4 116.1 408.9 116.1 409.9 115.1 410.4 115.1 410.9 114.6 411.4 114.6 412.4 113.6 412.9 113.6 413.4 113.1 413.9 113.1 414.9 112.1 415.4 112.1 415.9 111.6 416.4 111.6 417.4 110.6 417.9 110.6 418.4 110.1 418.9 110.1 419.9 109.1 420.4 109.1 420.9 108.6 421.4 108.6 422.4 107.6 422.9 107.6 423.9 106.6 424.4 106.6 424.9 106.1 425.4 106.1 426.4 105.1 426.9 105.1 427.4 104.6 427.9 104.6 428.9 103.6 429.4 103.6 429.9 103.1 430.4 103.1 431.4 102.1 431.9 102.1 432.4 101.6 432.9 101.6 433.4 101.1 433.9 101.1 434.9 100.1 435.4 100.1 435.9 99.6 436.4 99.6 437.4 98.6 437.9 98.6 438.4 98.1 438.9 98.1 439.9 97.1 440.4 97.1 440.9 96.6 441.4 96.6 441.9 96.1 442.4 96.1 443.4 95.1 443.9 95.1 444.4 94.6 444.9 94.6 445.9 93.6 446.4 93.6 446.9 93.1 447.4 93.1 447.9 92.6 448.4 92.6 449.4 91.6 449.9 91.6 450.4 91.1 450.9 91.1 451.4 90.6 451.9 90.6 452.9 89.6 453.4 89.6 453.9 89.1 454.4 89.1 454.9 88.6 455.4 88.6 456.4 87.6 456.9 87.6 457.4 87.1 457.9 87.1 458.9 86.1 459.4 86.1 459.9 85.6 460.4 85.6 460.9 85.1 461.4 85.1 462.4 84.1 462.9 84.1 463.4 83.6 463.9 83.6 464.9 82.6 465.4 82.6 465.9 82.1 466.4 82.1 466.9 81.6 467.4 81.6 468.4 80.6 468.9 80.6 469.4 80.1 469.9 80.1 470.4 79.7 470.9 79.7 471.9 78.7 472.4 78.7 472.9 78.2 473.4 78.2 473.9 77.7 474.4 77.7 475.4 76.7 475.9 76.7 476.4 76.2 476.9 76.2 477.4 75.7 477.9 75.7 478.9 74.7 479.4 74.7 479.9 74.2 480.4 74.2 480.9 73.7 481.4 73.7 482.4 72.7 482.9 72.7 483.4 72.2 483.9 72.2 484.4 71.7 484.9 71.7 485.4 71.2 485.9 71.2 486.9 70.2 487.4 70.2 487.9 69.7 488.4 69.7 488.9 69.1 489.4 69.1 490.4 68.1 490.9 68.1 491.4 67.6 491.9 67.6 492.4 67.1 492.9 67.1 493.4 66.6 493.9 66.6 494.9 65.6 495.4 65.6 495.9 65.1 496.4 65.1 496.9 64.6 497.4 64.6 497.9 64.1 498.4 64.1 498.9 63.6 499.4 63.6 499.9 63.1 500.9 63.1 501.4 62.6 501.9 62.6 502.4 62.1 502.9 62.1 503.4 61.6 503.9 61.6 504.4 61.1 504.9 61.1 505.4 60.6 506.4 60.6 506.9 60.1 507.4 60.1 507.9 59.6 508.9 59.6 509.4 59.1 509.9 59.1 510.4 58.5 511.4 58.5 511.9 58 512.9 58 512.9 57.8 498.4 57.7 450.4 58.2 397.4 58.3 397.4 43Z" fill="#c0f020"/>
<path d="M397.9 43 613.9 43 613.9 73.2 576.9 73.3 572.8 73.5 563.7 74.5 547.9 77 536.2 80 520.8 85 515.9 87 509.5 90 489.9 101 460.5 118 405.5 118 406.4 117.1 406.9 117.1 407.4 116.6 407.9 116.6 408.4 116.1 408.9 116.1 409.9 115.1 410.4 115.1 410.9 114.6 411.4 114.6 412.4 113.6 412.9 113.6 413.4 113.1 413.9 113.1 414.9 112.1 415.4 112.1 415.9 111.6 416.4 111.6 417.4 110.6 417.9 110.6 418.4 110.1 418.9 110.1 419.9 109.1 420.4 109.1 420.9 108.6 421.4 108.6 422.4 107.6 422.9 107.6 423.9 106.6 424.4 106.6 424.9 106.1 425.4 106.1 426.4 105.1 426.9 105.1 427.4 104.6 427.9 104.6 428.9 103.6 429.4 103.6 429.9 103.1 430.4 103.1 431.4 102.1 431.9 102.1 432.4 101.6 432.9 101.6 433.4 101.1 433.9 101.1 434.9 100.1 435.4 100.1 435.9 99.6 436.4 99.6 437.4 98.6 437.9 98.6 438.4 98.1 438.9 98.1 439.9 97.1 440.4 97.1 440.9 96.6 441.4 96.6 441.9 96.1 442.4 96.1 443.4 95.1 443.9 95.1 444.4 94.6 444.9 94.6 445.9 93.6 446.4 93.6 446.9 93.1 447.4 93.1 447.9 92.6 448.4 92.6 449.4 91.6 449.9 91.6 450.4 91.1 450.9 91.1 451.4 90.6 451.9 90.6 452.9 89.6 453.4 89.6 453.9 89.1 454.4 89.1 454.9 88.6 455.4 88.6 456.4 87.6 456.9 87.6 457.4 87.1 457.9 87.1 458.9 86.1 459.4 86.1 459.9 85.6 460.4 85.6 460.9 85.1 461.4 85.1 462.4 84.1 462.9 84.1 463.4 83.6 463.9 83.6 464.9 82.6 465.4 82.6 465.9 82.1 466.4 82.1 466.9 81.6 467.4 81.6 468.4 80.7 468.9 80.7 469.4 80.2 469.9 80.2 470.4 79.7 470.9 79.7 471.9 78.7 472.4 78.7 472.9 78.2 473.4 78.2 473.9 77.7 474.4 77.7 475.4 76.7 475.9 76.7 476.4 76.2 476.9 76.2 477.4 75.7 477.9 75.7 478.9 74.7 479.4 74.8 479.9 74.2 480.4 74.3 480.9 73.7 481.4 73.7 482.4 72.7 482.9 72.7 483.4 72.2 483.9 72.2 484.4 71.7 484.9 71.7 485.4 71.2 485.9 71.2 486.9 70.2 487.4 70.2 487.9 69.7 488.4 69.7 488.9 69.2 489.4 69.2 490.4 68.1 490.9 68.1 491.4 67.6 491.9 67.6 492.4 67.1 492.9 67.1 493.4 66.6 493.9 66.6 494.9 65.6 495.4 65.6 495.9 65.1 496.4 65.1 496.9 64.6 497.4 64.6 497.9 64.1 498.4 64.1 498.9 63.6 499.4 63.6 499.9 63.1 500.9 63.1 501.4 62.6 501.9 62.6 502.4 62.1 502.9 62.1 503.4 61.6 503.9 61.6 504.4 61.1 504.9 61.1 505.4 60.6 506.4 60.6 506.9 60.1 507.4 60.1 507.9 59.6 508.9 59.6 509.4 59.1 509.9 59.1 510.4 58.6 511.4 58.6 511.9 58 512.9 58 513.4 57.5 514.4 57.5 499.4 57.4 450.4 57.9 397.4 58 397.4 43Z" fill="#a6f02d"/>
<path d="M397.9 43 613.9 43 613.9 72.9 576.9 73 569.9 73.5 561.7 74.5 548.4 76.6 535.3 80 520 85 515.3 87 508.9 90 489.4 101 460 118 405.5 118 406.4 117.1 406.9 117.1 407.4 116.6 407.9 116.6 408.4 116.1 408.9 116.1 409.9 115.1 410.4 115.1 410.9 114.6 411.4 114.6 412.4 113.6 412.9 113.6 413.4 113.1 413.9 113.1 414.9 112.1 415.4 112.1 415.9 111.6 416.4 111.6 417.4 110.6 417.9 110.6 418.4 110.1 418.9 110.1 419.9 109.1 420.4 109.1 420.9 108.6 421.4 108.6 422.4 107.6 422.9 107.6 423.9 106.6 424.4 106.6 424.9 106.1 425.4 106.1 426.4 105.1 426.9 105.1 427.4 104.6 427.9 104.6 428.9 103.6 429.4 103.6 429.9 103.1 430.4 103.1 431.4 102.1 431.9 102.1 432.4 101.6 432.9 101.6 433.4 101.1 433.9 101.1 434.9 100.1 435.4 100.1 435.9 99.6 436.4 99.6 437.4 98.6 437.9 98.6 438.4 98.1 438.9 98.1 439.9 97.1 440.4 97.1 440.9 96.6 441.4 96.6 441.9 96.1 442.4 96.1 443.4 95.1 443.9 95.1 444.4 94.6 444.9 94.6 445.9 93.6 446.4 93.6 446.9 93.1 447.4 93.1 447.9 92.6 448.4 92.6 449.4 91.6 449.9 91.6 450.4 91.1 450.9 91.1 451.4 90.6 451.9 90.6 452.9 89.6 453.4 89.6 453.9 89.1 454.4 89.1 454.9 88.6 455.4 88.6 456.4 87.6 456.9 87.6 457.4 87.1 457.9 87.1 458.9 86.1 459.4 86.1 459.9 85.6 460.4 85.6 460.9 85.1 461.4 85.1 462.4 84.1 462.9 84.1 463.4 83.6 463.9 83.6 464.9 82.7 465.4 82.7 465.9 82.2 466.4 82.2 466.9 81.7 467.4 81.7 468.4 80.7 468.9 80.7 469.4 80.2 469.9 80.2 470.4 79.7 470.9 79.7 471.9 78.7 472.4 78.7 472.9 78.2 473.4 78.2 473.9 77.7 474.4 77.7 475.4 76.7 475.9 76.7 476.4 76.3 476.9 76.3 477.4 75.8 477.9 75.8 478.9 74.8 479.4 74.8 479.9 74.3 480.4 74.3 480.9 73.8 481.4 73.8 482.4 72.7 482.9 72.7 483.4 72.2 483.9 72.2 484.4 71.7 484.9 71.7 485.4 71.2 485.9 71.2 486.9 70.2 487.4 70.2 487.9 69.7 488.4 69.7 488.9 69.2 489.4 69.2 490.4 68.2 490.9 68.2 491.4 67.7 491.9 67.7 492.4 67.2 492.9 67.2 493.4 66.6 493.9 66.6 494.9 65.6 495.4 65.6 495.9 65.1 496.4 65.1 496.9 64.6 497.4 64.6 497.9 64.1 498.4 64.1 498.9 63.6 499.4 63.6 499.9 63.1 500.9 63.1 501.4 62.6 501.9 62.6 502.4 62.1 502.9 62.1 503.4 61.6 503.9 61.6 504.4 61.1 504.9 61.1 505.4 60.6 506.4 60.6 506.9 60.1 507.4 60.1 507.9 59.6 508.9 59.6 509.4 59.1 509.9 59.1 510.4 58.6 511.4 58.6 511.9 58.1 512.9 58.1 513.4 57.5 514.4 57.5 514.4 57.2 499.9 57.1 449.9 57.7 397.4 57.9 397.4 43Z" fill="#8df03a"/>
<path d="M397.9 43 613.9 43 613.9 72.6 576.9 72.7 572.4 73 563.5 74 548.4 76.3 536.1 79.5 520.6 84.5 515.8 86.5 509.4 89.5 488.8 101 459.5 118 405.6 118 406.4 117.2 406.9 117.2 407.4 116.7 407.9 116.7 408.4 116.2 408.9 116.2 409.9 115.2 410.4 115.2 410.9 114.7 411.4 114.7 412.4 113.7 412.9 113.7 413.4 113.2 413.9 113.2 414.9 112.2 415.4 112.2 415.9 111.7 416.4 111.7 417.4 110.7 417.9 110.7 418.4 110.2 418.9 110.2 419.9 109.2 420.4 109.2 420.9 108.7 421.4 108.7 422.4 107.7 422.9 107.7 423.9 106.7 424.4 106.7 424.9 106.2 425.4 106.2 426.4 105.2 426.9 105.2 427.4 104.7 427.9 104.7 428.9 103.7 429.4 103.7 429.9 103.2 430.4 103.2 431.4 102.2 431.9 102.2 432.4 101.7 432.9 101.7 433.4 101.2 433.9 101.2 434.9 100.2 435.4 100.2 435.9 99.7 436.4 99.7 437.4 98.7 437.9 98.7 438.4 98.2 438.9 98.2 439.9 97.2 440.4 97.2 440.9 96.7 441.4 96.7 441.9 96.2 442.4 96.2 443.4 95.2 443.9 95.2 444.4 94.7 444.9 94.7 445.9 93.7 446.4 93.7 446.9 93.2 447.4 93.2 447.9 92.7 448.4 92.7 449.4 91.7 449.9 91.7 450.4 91.2 450.9 91.2 451.4 90.7 451.9 90.7 452.9 89.7 453.4 89.7 453.9 89.2 454.4 89.2 454.9 88.7 455.4 88.7 456.4 87.7 456.9 87.7 457.4 87.2 457.9 87.2 458.9 86.2 459.4 86.2 459.9 85.7 460.4 85.7 460.9 85.2 461.4 85.2 462.4 84.2 462.9 84.2 463.4 83.7 463.9 83.7 464.9 82.7 465.4 82.7 465.9 82.2 466.4 82.2 466.9 81.7 467.4 81.7 468.4 80.7 468.9 80.7 469.4 80.2 469.9 80.2 470.4 79.7 470.9 79.7 471.9 78.7 472.4 78.7 472.9 78.2 473.4 78.2 473.9 77.7 474.4 77.7 475.4 76.8 475.9 76.8 476.4 76.3 476.9 76.3 477.4 75.8 477.9 75.8 478.9 74.8 479.4 74.8 479.9 74.3 480.4 74.3 480.9 73.8 481.4 73.8 482.4 72.8 482.9 72.8 483.4 72.3 483.9 72.3 484.4 71.7 484.9 71.7 485.4 71.2 485.9 71.2 486.9 70.2 487.4 70.2 487.9 69.7 488.4 69.7 488.9 69.2 489.4 69.2 490.4 68.2 490.9 68.2 491.4 67.7 491.9 67.7 492.4 67.2 492.9 67.2 493.4 66.7 493.9 66.7 494.9 65.7 495.4 65.7 495.9 65.2 496.4 65.2 496.9 64.7 497.4 64.7 497.9 64.2 498.4 64.2 498.9 63.7 499.4 63.7 499.9 63.2 500.9 63.2 501.4 62.7 501.9 62.7 502.4 62.2 502.9 62.2 503.4 61.7 503.9 61.7 504.4 61.1 504.9 61.1 505.4 60.6 506.4 60.6 506.9 60.1 507.4 60.1 507.9 59.6 508.9 59.6 509.4 59.1 509.9 59.1 510.4 58.6 511.4 58.6 511.9 58.1 512.9 58.1 513.4 57.6 514.4 57.6 514.9 57 515.9 57 499.9 56.8 449.9 57.5 397.4 57.7 397.4 43Z" fill="#6aee4a"/>
<path d="M397.9 43 613.9 43 613.9 72.4 576.9 72.5 569.9 73 561.8 74 548.4 76.1 535.3 79.5 520 84.5 515.2 86.5 508.8 89.5 488.4 101 459 118 405.6 118 406.4 117.2 406.9 117.2 407.4 116.7 407.9 116.7 408.4 116.2 408.9 116.2 409.9 115.2 410.4 115.2 410.9 114.7 411.4 114.7 412.4 113.7 412.9 113.7 413.4 113.2 413.9 113.2 414.9 112.2 415.4 112.2 415.9 111.7 416.4 111.7 417.4 110.7 417.9 110.7 418.4 110.2 418.9 110.2 419.9 109.2 420.4 109.2 420.9 108.7 421.4 108.7 422.4 107.7 422.9 107.7 423.9 106.7 424.4 106.7 424.9 106.2 425.4 106.2 426.4 105.2 426.9 105.2 427.4 104.7 427.9 104.7 428.9 103.7 429.4 103.7 429.9 103.2 430.4 103.2 431.4 102.2 431.9 102.2 432.4 101.7 432.9 101.7 433.4 101.2 433.9 101.2 434.9 100.2 435.4 100.2 435.9 99.7 436.4 99.7 437.4 98.7 437.9 98.7 438.4 98.2 438.9 98.2 439.9 97.2 440.4 97.2 440.9 96.7 441.4 96.7 441.9 96.2 442.4 96.2 443.4 95.2 443.9 95.2 444.4 94.7 444.9 94.7 445.9 93.7 446.4 93.7 446.9 93.2 447.4 93.2 447.9 92.7 448.4 92.7 449.4 91.7 449.9 91.7 450.4 91.2 450.9 91.2 451.4 90.7 451.9 90.7 452.9 89.7 453.4 89.7 453.9 89.2 454.4 89.2 454.9 88.7 455.4 88.7 456.4 87.7 456.9 87.7 457.4 87.2 457.9 87.2 458.9 86.2 459.4 86.2 459.9 85.7 460.4 85.7 460.9 85.2 461.4 85.2 462.4 84.2 462.9 84.2 463.4 83.7 463.9 83.7 464.9 82.7 465.4 82.7 465.9 82.2 466.4 82.2 466.9 81.7 467.4 81.7 468.4 80.7 468.9 80.7 469.4 80.2 469.9 80.2 470.4 79.7 470.9 79.7 471.9 78.7 472.4 78.7 472.9 78.3 473.4 78.3 473.9 77.8 474.4 77.8 475.4 76.8 475.9 76.8 476.4 76.3 476.9 76.3 477.4 75.8 477.9 75.8 478.9 74.8 479.4 74.8 479.9 74.3 480.4 74.3 480.9 73.8 481.4 73.8 482.4 72.8 482.9 72.8 483.4 72.3 483.9 72.3 484.4 71.8 484.9 71.8 485.4 71.3 485.9 71.3 486.9 70.2 487.4 70.2 487.9 69.7 488.4 69.7 488.9 69.2 489.4 69.2 490.4 68.2 490.9 68.2 491.4 67.7 491.9 67.7 492.4 67.2 492.9 67.2 493.4 66.7 493.9 66.7 494.9 65.7 495.4 65.7 495.9 65.2 496.4 65.2 496.9 64.7 497.4 64.7 497.9 64.2 498.4 64.2 498.9 63.7 499.4 63.7 499.9 63.2 500.9 63.2 501.4 62.7 501.9 62.7 502.4 62.2 502.9 62.2 503.4 61.7 503.9 61.7 504.4 61.2 504.9 61.2 505.4 60.7 506.4 60.7 506.9 60.2 507.4 60.2 507.9 59.7 508.9 59.7 509.4 59.1 509.9 59.1 510.4 58.6 511.4 58.6 511.9 58.1 512.9 58.1 513.4 57.6 514.4 57.6 514.9 57 515.9 57 515.9 56.6 499.9 56.6 449.9 57.3 397.4 57.5 397.4 43Z" fill="#3feb5d"/>
<path d="M397.9 43 613.9 43 613.9 72.2 576.9 72.3 572.9 72.5 563.8 73.5 548.4 75.9 536.2 79 520.7 84 515.8 86 509.3 89 488.8 100.5 458.5 118 405.6 118 406.4 117.2 406.9 117.2 407.4 116.7 407.9 116.7 408.4 116.2 408.9 116.2 409.9 115.2 410.4 115.2 410.9 114.7 411.4 114.7 412.4 113.7 412.9 113.7 413.4 113.2 413.9 113.2 414.9 112.2 415.4 112.2 415.9 111.7 416.4 111.7 417.4 110.7 417.9 110.7 418.4 110.2 418.9 110.2 419.9 109.2 420.4 109.2 420.9 108.7 421.4 108.7 422.4 107.7 422.9 107.7 423.9 106.7 424.4 106.7 424.9 106.2 425.4 106.2 426.4 105.2 426.9 105.2 427.4 104.7 427.9 104.7 428.9 103.7 429.4 103.7 429.9 103.2 430.4 103.2 431.4 102.2 431.9 102.2 432.4 101.7 432.9 101.7 433.4 101.2 433.9 101.2 434.9 100.2 435.4 100.2 435.9 99.7 436.4 99.7 437.4 98.7 437.9 98.7 438.4 98.2 438.9 98.2 439.9 97.2 440.4 97.2 440.9 96.7 441.4 96.7 441.9 96.2 442.4 96.2 443.4 95.2 443.9 95.2 444.4 94.7 444.9 94.7 445.9 93.7 446.4 93.7 446.9 93.2 447.4 93.2 447.9 92.7 448.4 92.7 449.4 91.7 449.9 91.7 450.4 91.2 450.9 91.2 451.4 90.7 451.9 90.7 452.9 89.7 453.4 89.7 453.9 89.2 454.4 89.2 454.9 88.7 455.4 88.7 456.4 87.7 456.9 87.7 457.4 87.2 457.9 87.2 458.9 86.2 459.4 86.2 459.9 85.7 460.4 85.7 460.9 85.2 461.4 85.2 462.4 84.2 462.9 84.2 463.4 83.7 463.9 83.7 464.9 82.7 465.4 82.7 465.9 82.2 466.4 82.2 466.9 81.7 467.4 81.7 468.4 80.7 468.9 80.7 469.4 80.2 469.9 80.2 470.4 79.7 470.9 79.7 471.9 78.8 472.4 78.8 472.9 78.3 473.4 78.3 473.9 77.8 474.4 77.8 475.4 76.8 475.9 76.8 476.4 76.3 476.9 76.3 477.4 75.8 477.9 75.8 478.9 74.8 479.4 74.8 479.9 74.3 480.4 74.3 480.9 73.8 481.4 73.8 482.4 72.8 482.9 72.8 483.4 72.3 483.9 72.3 484.4 71.8 484.9 71.8 485.4 71.3 485.9 71.3 486.9 70.2 487.4 70.2 487.9 69.7 488.4 69.7 488.9 69.2 489.4 69.2 490.4 68.2 490.9 68.2 491.4 67.7 491.9 67.7 492.4 67.2 492.9 67.2 493.4 66.7 493.9 66.7 494.9 65.7 495.4 65.7 495.9 65.2 496.4 65.2 496.9 64.7 497.4 64.7 497.9 64.2 498.4 64.2 498.9 63.7 499.4 63.7 499.9 63.2 500.9 63.2 501.4 62.7 501.9 62.7 502.4 62.2 502.9 62.2 503.4 61.7 503.9 61.7 504.4 61.2 504.9 61.2 505.4 60.7 506.4 60.7 506.9 60.2 507.4 60.2 507.9 59.7 508.9 59.7 509.4 59.2 509.9 59.2 510.4 58.7 511.4 58.7 511.9 58.1 512.9 58.1 513.4 57.6 514.4 57.6 514.9 57.1 515.9 57.1 516.4 56.5 517.4 56.5 499.9 56.4 449.9 57.1 397.4 57.3 397.4 43Z" fill="#14e870"/>
<path d="M397.9 43 613.9 43 613.9 72 576.9 72.1 570.4 72.5 562.2 73.5 548.4 75.6 535.5 79 520.1 84 515.2 86 508.9 89 488.4 100.5 458.1 118 405.6 118 406.4 117.2 406.9 117.2 407.4 116.7 407.9 116.7 408.4 116.2 408.9 116.2 409.9 115.2 410.4 115.2 410.9 114.7 411.4 114.7 412.4 113.7 412.9 113.7 413.4 113.2 413.9 113.2 414.9 112.2 415.4 112.2 415.9 111.7 416.4 111.7 417.4 110.7 417.9 110.7 418.4 110.2 418.9 110.2 419.9 109.2 420.4 109.2 420.9 108.7 421.4 108.7 422.4 107.7 422.9 107.7 423.9 106.7 424.4 106.7 424.9 106.2 425.4 106.2 426.4 105.2 426.9 105.2 427.4 104.7 427.9 104.7 428.9 103.7 429.4 103.7 429.9 103.2 430.4 103.2 431.4 102.2 431.9 102.2 432.4 101.7 432.9 101.7 433.4 101.2 433.9 101.2 434.9 100.2 435.4 100.2 435.9 99.7 436.4 99.7 437.4 98.7 437.9 98.7 438.4 98.2 438.9 98.2 439.9 97.2 440.4 97.2 440.9 96.7 441.4 96.7 441.9 96.2 442.4 96.2 443.4 95.2 443.9 95.2 444.4 94.7 444.9 94.7 445.9 93.7 446.4 93.7 446.9 93.2 447.4 93.2 447.9 92.7 448.4 92.7 449.4 91.7 449.9 91.7 450.4 91.2 450.9 91.2 451.4 90.7 451.9 90.7 452.9 89.7 453.4 89.7 453.9 89.2 454.4 89.2 454.9 88.7 455.4 88.7 456.4 87.7 456.9 87.7 457.4 87.2 457.9 87.2 458.9 86.2 459.4 86.2 459.9 85.7 460.4 85.7 460.9 85.2 461.4 85.2 462.4 84.2 462.9 84.2 463.4 83.7 463.9 83.7 464.9 82.7 465.4 82.7 465.9 82.2 466.4 82.2 466.9 81.7 467.4 81.7 468.4 80.7 468.9 80.7 469.4 80.3 469.9 80.3 470.4 79.8 470.9 79.8 471.9 78.8 472.4 78.8 472.9 78.3 473.4 78.3 473.9 77.8 474.4 77.8 475.4 76.8 475.9 76.8 476.4 76.3 476.9 76.3 477.4 75.8 477.9 75.8 478.9 74.8 479.4 74.8 479.9 74.3 480.4 74.3 480.9 73.8 481.4 73.8 482.4 72.8 482.9 72.8 483.4 72.3 483.9 72.3 484.4 71.8 484.9 71.8 485.4 71.3 485.9 71.3 486.9 70.3 487.4 70.3 487.9 69.8 488.4 69.8 488.9 69.2 489.4 69.2 490.4 68.2 490.9 68.2 491.4 67.7 491.9 67.7 492.4 67.2 492.9 67.2 493.4 66.7 493.9 66.7 494.9 65.7 495.4 65.7 495.9 65.2 496.4 65.2 496.9 64.7 497.4 64.7 497.9 64.2 498.4 64.2 498.9 63.7 499.4 63.7 499.9 63.2 500.9 63.2 501.4 62.7 501.9 62.7 502.4 62.2 502.9 62.2 503.4 61.7 503.9 61.7 504.4 61.2 504.9 61.2 505.4 60.7 506.4 60.7 506.9 60.2 507.4 60.2 507.9 59.7 508.9 59.7 509.4 59.2 509.9 59.2 510.4 58.7 511.4 58.7 511.9 58.2 512.9 58.2 513.4 57.6 514.4 57.6 514.9 57.1 515.9 57.1 516.4 56.5 517.4 56.5 517.4 56.2 499.9 56.1 449.9 56.9 397.4 57.2 397.4 43Z" fill="#12de76"/>
<path d="M397.9 43 613.9 43 613.9 71.8 576.9 71.8 570.4 72.3 560.9 73.5 548.4 75.4 534.9 79 519.9 83.8 514.9 85.9 508.9 88.7 488.9 100 457.7 118 405.6 118 406.4 117.2 406.9 117.2 407.4 116.7 407.9 116.7 408.4 116.2 408.9 116.2 409.9 115.2 410.4 115.2 410.9 114.7 411.4 114.7 412.4 113.7 412.9 113.7 413.4 113.2 413.9 113.2 414.9 112.2 415.4 112.2 415.9 111.7 416.4 111.7 417.4 110.7 417.9 110.7 418.4 110.2 418.9 110.2 419.9 109.2 420.4 109.2 420.9 108.7 421.4 108.7 422.4 107.7 422.9 107.7 423.9 106.7 424.4 106.7 424.9 106.2 425.4 106.2 426.4 105.2 426.9 105.2 427.4 104.7 427.9 104.7 428.9 103.7 429.4 103.7 429.9 103.2 430.4 103.2 431.4 102.2 431.9 102.2 432.4 101.7 432.9 101.7 433.4 101.2 433.9 101.2 434.9 100.2 435.4 100.2 435.9 99.7 436.4 99.7 437.4 98.7 437.9 98.7 438.4 98.2 438.9 98.2 439.9 97.2 440.4 97.2 440.9 96.7 441.4 96.7 441.9 96.2 442.4 96.2 443.4 95.2 443.9 95.2 444.4 94.7 444.9 94.7 445.9 93.7 446.4 93.7 446.9 93.2 447.4 93.2 447.9 92.7 448.4 92.7 449.4 91.7 449.9 91.7 450.4 91.2 450.9 91.2 451.4 90.7 451.9 90.7 452.9 89.7 453.4 89.7 453.9 89.2 454.4 89.2 454.9 88.7 455.4 88.7 456.4 87.7 456.9 87.7 457.4 87.2 457.9 87.2 458.9 86.2 459.4 86.2 459.9 85.7 460.4 85.7 460.9 85.2 461.4 85.2 462.4 84.2 462.9 84.2 463.4 83.7 463.9 83.7 464.9 82.7 465.4 82.7 465.9 82.3 466.4 82.2 466.9 81.8 467.4 81.8 468.4 80.8 468.9 80.8 469.4 80.3 469.9 80.3 470.4 79.8 470.9 79.8 471.9 78.8 472.4 78.8 472.9 78.3 473.4 78.3 473.9 77.8 474.4 77.8 475.4 76.8 475.9 76.8 476.4 76.3 476.9 76.3 477.4 75.8 477.9 75.8 478.9 74.8 479.4 74.8 479.9 74.3 480.4 74.3 480.9 73.8 481.4 73.8 482.4 72.8 482.9 72.8 483.4 72.3 483.9 72.3 484.4 71.8 484.9 71.8 485.4 71.3 485.9 71.3 486.9 70.3 487.4 70.3 487.9 69.8 488.4 69.8 488.9 69.3 489.4 69.3 490.4 68.3 490.9 68.3 491.4 67.8 491.9 67.8 492.4 67.2 492.9 67.2 493.4 66.7 493.9 66.7 494.9 65.7 495.4 65.7 495.9 65.2 496.4 65.2 496.9 64.7 497.4 64.7 497.9 64.2 498.4 64.2 498.9 63.7 499.4 63.7 499.9 63.2 500.9 63.2 501.4 62.7 501.9 62.7 502.4 62.2 502.9 62.2 503.4 61.7 503.9 61.7 504.4 61.2 504.9 61.2 505.4 60.7 506.4 60.7 506.9 60.2 507.4 60.2 507.9 59.7 508.9 59.7 509.4 59.2 509.9 59.2 510.4 58.7 511.4 58.7 511.9 58.2 512.9 58.2 513.4 57.7 514.4 57.7 514.9 57.1 515.9 57.1 516.4 56.6 517.4 56.6 517.9 56 518.9 56 499.9 55.9 449.9 56.7 397.4 57 397.4 43Z" fill="#11d57d"/>
<path d="M397.9 43 613.9 43 613.9 71.5 576.9 71.6 570.4 72.1 560.9 73.3 547.9 75.3 534.9 78.7 519.4 83.8 514.4 85.9 508.4 88.8 487.9 100.3 457.3 118 405.7 118 406.4 117.3 406.9 117.3 407.4 116.8 407.9 116.8 408.4 116.3 408.9 116.3 409.9 115.3 410.4 115.3 410.9 114.8 411.4 114.8 412.4 113.8 412.9 113.8 413.4 113.3 413.9 113.3 414.9 112.3 415.4 112.3 415.9 111.8 416.4 111.8 417.4 110.8 417.9 110.8 418.4 110.3 418.9 110.3 419.9 109.3 420.4 109.3 420.9 108.8 421.4 108.8 422.4 107.8 422.9 107.8 423.9 106.8 424.4 106.8 424.9 106.3 425.4 106.3 426.4 105.3 426.9 105.3 427.4 104.8 427.9 104.8 428.9 103.8 429.4 103.8 429.9 103.3 430.4 103.3 431.4 102.3 431.9 102.3 432.4 101.8 432.9 101.8 433.4 101.3 433.9 101.3 434.9 100.3 435.4 100.3 435.9 99.8 436.4 99.8 437.4 98.8 437.9 98.8 438.4 98.3 438.9 98.3 439.9 97.3 440.4 97.3 440.9 96.8 441.4 96.8 441.9 96.3 442.4 96.3 443.4 95.3 443.9 95.3 444.4 94.8 444.9 94.8 445.9 93.8 446.4 93.8 446.9 93.3 447.4 93.3 447.9 92.8 448.4 92.8 449.4 91.8 449.9 91.8 450.4 91.3 450.9 91.3 451.4 90.8 451.9 90.8 452.9 89.8 453.4 89.8 453.9 89.3 454.4 89.3 454.9 88.8 455.4 88.8 456.4 87.8 456.9 87.8 457.4 87.3 457.9 87.3 458.9 86.3 459.4 86.3 459.9 85.8 460.4 85.8 460.9 85.3 461.4 85.3 462.4 84.3 462.9 84.3 463.4 83.8 463.9 83.8 464.9 82.8 465.4 82.8 465.9 82.3 466.4 82.3 466.9 81.8 467.4 81.8 468.4 80.8 468.9 80.8 469.4 80.3 469.9 80.3 470.4 79.8 470.9 79.8 471.9 78.8 472.4 78.8 472.9 78.3 473.4 78.3 473.9 77.8 474.4 77.8 475.4 76.8 475.9 76.8 476.4 76.3 476.9 76.3 477.4 75.8 477.9 75.8 478.9 74.8 479.4 74.8 479.9 74.3 480.4 74.3 480.9 73.8 481.4 73.8 482.4 72.8 482.9 72.8 483.4 72.3 483.9 72.3 484.4 71.8 484.9 71.8 485.4 71.3 485.9 71.3 486.9 70.3 487.4 70.3 487.9 69.8 488.4 69.8 488.9 69.3 489.4 69.3 490.4 68.3 490.9 68.3 491.4 67.8 491.9 67.8 492.4 67.3 492.9 67.3 493.4 66.8 493.9 66.8 494.9 65.8 495.4 65.8 495.9 65.3 496.4 65.3 496.9 64.8 497.4 64.8 497.9 64.3 498.4 64.3 498.9 63.8 499.4 63.8 499.9 63.3 500.9 63.3 501.4 62.8 501.9 62.8 502.4 62.3 502.9 62.3 503.4 61.8 503.9 61.8 504.4 61.3 504.9 61.3 505.4 60.7 506.4 60.7 506.9 60.2 507.4 60.2 507.9 59.7 508.9 59.7 509.4 59.2 509.9 59.2 510.4 58.7 511.4 58.7 511.9 58.2 512.9 58.2 513.4 57.7 514.4 57.7 514.9 57.2 515.9 57.2 516.4 56.6 517.4 56.6 517.9 56 518.9 56 518.9 55.7 499.9 55.7 449.9 56.5 397.4 56.9 397.4 43Z" fill="#10ca86"/>
<path d="M397.9 43 613.9 43 613.9 71.3 576.9 71.4 570.4 71.9 561.9 72.9 548.4 75 535.4 78.4 519.9 83.4 515.4 85.2 508.9 88.3 488.4 99.8 456.9 118 405.7 118 406.4 117.3 406.9 117.3 407.4 116.8 407.9 116.8 408.4 116.3 408.9 116.3 409.9 115.3 410.4 115.3 410.9 114.8 411.4 114.8 412.4 113.8 412.9 113.8 413.4 113.3 413.9 113.3 414.9 112.3 415.4 112.3 415.9 111.8 416.4 111.8 417.4 110.8 417.9 110.8 418.4 110.3 418.9 110.3 419.9 109.3 420.4 109.3 420.9 108.8 421.4 108.8 422.4 107.8 422.9 107.8 423.9 106.8 424.4 106.8 424.9 106.3 425.4 106.3 426.4 105.3 426.9 105.3 427.4 104.8 427.9 104.8 428.9 103.8 429.4 103.8 429.9 103.3 430.4 103.3 431.4 102.3 431.9 102.3 432.4 101.8 432.9 101.8 433.4 101.3 433.9 101.3 434.9 100.3 435.4 100.3 435.9 99.8 436.4 99.8 437.4 98.8 437.9 98.8 438.4 98.3 438.9 98.3 439.9 97.3 440.4 97.3 440.9 96.8 441.4 96.8 441.9 96.3 442.4 96.3 443.4 95.3 443.9 95.3 444.4 94.8 444.9 94.8 445.9 93.8 446.4 93.8 446.9 93.3 447.4 93.3 447.9 92.8 448.4 92.8 449.4 91.8 449.9 91.8 450.4 91.3 450.9 91.3 451.4 90.8 451.9 90.8 452.9 89.8 453.4 89.8 453.9 89.3 454.4 89.3 454.9 88.8 455.4 88.8 456.4 87.8 456.9 87.8 457.4 87.3 457.9 87.3 458.9 86.3 459.4 86.3 459.9 85.8 460.4 85.8 460.9 85.3 461.4 85.3 462.4 84.3 462.9 84.3 463.4 83.8 463.9 83.8 464.9 82.8 465.4 82.8 465.9 82.3 466.4 82.3 466.9 81.8 467.4 81.8 468.4 80.8 468.9 80.8 469.4 80.3 469.9 80.3 470.4 79.8 470.9 79.8 471.9 78.8 472.4 78.8 472.9 78.3 473.4 78.3 473.9 77.8 474.4 77.8 475.4 76.8 475.9 76.8 476.4 76.3 476.9 76.3 477.4 75.9 477.9 75.9 478.9 74.9 479.4 74.9 479.9 74.4 480.4 74.4 480.9 73.9 481.4 73.9 482.4 72.8 482.9 72.8 483.4 72.3 483.9 72.3 484.4 71.8 484.9 71.8 485.4 71.3 485.9 71.3 486.9 70.3 487.4 70.3 487.9 69.8 488.4 69.8 488.9 69.3 489.4 69.3 490.4 68.3 490.9 68.3 491.4 67.8 491.9 67.8 492.4 67.3 492.9 67.3 493.4 66.8 493.9 66.8 494.9 65.8 495.4 65.8 495.9 65.3 496.4 65.3 496.9 64.8 497.4 64.8 497.9 64.3 498.4 64.3 498.9 63.8 499.4 63.8 499.9 63.3 500.9 63.3 501.4 62.8 501.9 62.8 502.4 62.3 502.9 62.3 503.4 61.8 503.9 61.8 504.4 61.3 504.9 61.3 505.4 60.8 506.4 60.8 506.9 60.3 507.4 60.3 507.9 59.8 508.9 59.8 509.4 59.3 509.9 59.3 510.4 58.7 511.4 58.7 511.9 58.2 512.9 58.2 513.4 57.7 514.4 57.7 514.9 57.2 515.9 57.2 516.4 56.6 517.4 56.6 517.9 56.1 518.9 56.1 519.4 55.5 520.9 55.5 499.9 55.5 479.9 55.7 449.9 56.3 397.4 56.7 397.4 43Z" fill="#10bd93"/>
<path d="M397.9 43 613.9 43 613.9 71.1 576.9 71.2 570.4 71.7 561.4 72.8 548.4 74.8 534.9 78.3 519.4 83.3 514.9 85.2 508.4 88.3 487.9 99.8 456.4 118 405.7 118 406.4 117.3 406.9 117.3 407.4 116.8 407.9 116.8 408.4 116.3 408.9 116.3 409.9 115.3 410.4 115.3 410.9 114.8 411.4 114.8 412.4 113.8 412.9 113.8 413.4 113.3 413.9 113.3 414.9 112.3 415.4 112.3 415.9 111.8 416.4 111.8 417.4 110.8 417.9 110.8 418.4 110.3 418.9 110.3 419.9 109.3 420.4 109.3 420.9 108.8 421.4 108.8 422.4 107.8 422.9 107.8 423.9 106.8 424.4 106.8 424.9 106.3 425.4 106.3 426.4 105.3 426.9 105.3 427.4 104.8 427.9 104.8 428.9 103.8 429.4 103.8 429.9 103.3 430.4 103.3 431.4 102.3 431.9 102.3 432.4 101.8 432.9 101.8 433.4 101.3 433.9 101.3 434.9 100.3 435.4 100.3 435.9 99.8 436.4 99.8 437.4 98.8 437.9 98.8 438.4 98.3 438.9 98.3 439.9 97.3 440.4 97.3 440.9 96.8 441.4 96.8 441.9 96.3 442.4 96.3 443.4 95.3 443.9 95.3 444.4 94.8 444.9 94.8 445.9 93.8 446.4 93.8 446.9 93.3 447.4 93.3 447.9 92.8 448.4 92.8 449.4 91.8 449.9 91.8 450.4 91.3 450.9 91.3 451.4 90.8 451.9 90.8 452.9 89.8 453.4 89.8 453.9 89.3 454.4 89.3 454.9 88.8 455.4 88.8 456.4 87.8 456.9 87.8 457.4 87.3 457.9 87.3 458.9 86.3 459.4 86.3 459.9 85.8 460.4 85.8 460.9 85.3 461.4 85.3 462.4 84.3 462.9 84.3 463.4 83.8 463.9 83.8 464.9 82.8 465.4 82.8 465.9 82.3 466.4 82.3 466.9 81.8 467.4 81.8 468.4 80.8 468.9 80.8 469.4 80.3 469.9 80.3 470.4 79.8 470.9 79.8 471.9 78.8 472.4 78.8 472.9 78.3 473.4 78.3 473.9 77.8 474.4 77.8 475.4 76.9 475.9 76.9 476.4 76.4 476.9 76.4 477.4 75.9 477.9 75.9 478.9 74.9 479.4 74.9 479.9 74.4 480.4 74.4 480.9 73.9 481.4 73.9 482.4 72.9 482.9 72.9 483.4 72.4 483.9 72.4 484.4 71.8 484.9 71.8 485.4 71.3 485.9 71.3 486.9 70.3 487.4 70.3 487.9 69.8 488.4 69.8 488.9 69.3 489.4 69.3 490.4 68.3 490.9 68.3 491.4 67.8 491.9 67.8 492.4 67.3 492.9 67.3 493.4 66.8 493.9 66.8 494.9 65.8 495.4 65.8 495.9 65.3 496.4 65.3 496.9 64.8 497.4 64.8 497.9 64.3 498.4 64.3 498.9 63.8 499.4 63.8 499.9 63.3 500.9 63.3 501.4 62.8 501.9 62.8 502.4 62.3 502.9 62.3 503.4 61.8 503.9 61.8 504.4 61.3 504.9 61.3 505.4 60.8 506.4 60.8 506.9 60.3 507.4 60.3 507.9 59.8 508.9 59.8 509.4 59.3 509.9 59.3 510.4 58.8 511.4 58.8 511.9 58.3 512.9 58.3 513.4 57.7 514.4 57.7 514.9 57.2 515.9 57.2 516.4 56.7 517.4 56.7 517.9 56.1 518.9 56.1 519.4 55.5 520.9 55.5 520.9 55.2 499.9 55.2 479.9 55.4 449.9 56.2 397.4 56.6 397.4 43Z" fill="#10b0a0"/>
<path d="M397.9 43 613.9 43 613.9 70.9 576.9 71 570.4 71.4 560.4 72.7 547.9 74.7 534.4 78.2 519.4 83.1 514.4 85.2 507.9 88.3 487.4 99.8 456 118 405.7 118 406.4 117.3 406.9 117.3 407.4 116.8 407.9 116.8 408.4 116.3 408.9 116.3 409.9 115.3 410.4 115.3 410.9 114.8 411.4 114.8 412.4 113.8 412.9 113.8 413.4 113.3 413.9 113.3 414.9 112.3 415.4 112.3 415.9 111.8 416.4 111.8 417.4 110.8 417.9 110.8 418.4 110.3 418.9 110.3 419.9 109.3 420.4 109.3 420.9 108.8 421.4 108.8 422.4 107.8 422.9 107.8 423.9 106.8 424.4 106.8 424.9 106.3 425.4 106.3 426.4 105.3 426.9 105.3 427.4 104.8 427.9 104.8 428.9 103.8 429.4 103.8 429.9 103.3 430.4 103.3 431.4 102.3 431.9 102.3 432.4 101.8 432.9 101.8 433.4 101.3 433.9 101.3 434.9 100.3 435.4 100.3 435.9 99.8 436.4 99.8 437.4 98.8 437.9 98.8 438.4 98.3 438.9 98.3 439.9 97.3 440.4 97.3 440.9 96.8 441.4 96.8 441.9 96.3 442.4 96.3 443.4 95.3 443.9 95.3 444.4 94.8 444.9 94.8 445.9 93.8 446.4 93.8 446.9 93.3 447.4 93.3 447.9 92.8 448.4 92.8 449.4 91.8 449.9 91.8 450.4 91.3 450.9 91.3 451.4 90.8 451.9 90.8 452.9 89.8 453.4 89.8 453.9 89.3 454.4 89.3 454.9 88.8 455.4 88.8 456.4 87.8 456.9 87.8 457.4 87.3 457.9 87.3 458.9 86.3 459.4 86.3 459.9 85.8 460.4 85.8 460.9 85.3 461.4 85.3 462.4 84.3 462.9 84.3 463.4 83.8 463.9 83.8 464.9 82.8 465.4 82.8 465.9 82.3 466.4 82.3 466.9 81.8 467.4 81.8 468.4 80.8 468.9 80.8 469.4 80.3 469.9 80.3 470.4 79.8 470.9 79.8 471.9 78.9 472.4 78.9 472.9 78.4 473.4 78.4 473.9 77.9 474.4 77.9 475.4 76.9 475.9 76.9 476.4 76.4 476.9 76.4 477.4 75.9 477.9 75.9 478.9 74.9 479.4 74.9 479.9 74.4 480.4 74.4 480.9 73.9 481.4 73.9 482.4 72.9 482.9 72.9 483.4 72.4 483.9 72.4 484.4 71.9 484.9 71.9 485.4 71.4 485.9 71.4 486.9 70.3 487.4 70.3 487.9 69.8 488.4 69.8 488.9 69.3 489.4 69.3 490.4 68.3 490.9 68.3 491.4 67.8 491.9 67.8 492.4 67.3 492.9 67.3 493.4 66.8 493.9 66.8 494.9 65.8 495.4 65.8 495.9 65.3 496.4 65.3 496.9 64.8 497.4 64.8 497.9 64.3 498.4 64.3 498.9 63.8 499.4 63.8 499.9 63.3 500.9 63.3 501.4 62.8 501.9 62.8 502.4 62.3 502.9 62.3 503.4 61.8 503.9 61.8 504.4 61.3 504.9 61.3 505.4 60.8 506.4 60.8 506.9 60.3 507.4 60.3 507.9 59.8 508.9 59.8 509.4 59.3 509.9 59.3 510.4 58.8 511.4 58.8 511.9 58.3 512.9 58.3 513.4 57.8 514.4 57.8 514.9 57.2 515.9 57.2 516.4 56.7 517.4 56.7 517.9 56.2 518.9 56.2 519.4 55.6 521 55.5 520.9 55 499.9 55 479.9 55.2 449.9 56 397.4 56.4 397.4 43Z" fill="#10a3ad"/>
<path d="M397.9 43 613.9 43 613.9 70.7 576.9 70.8 570.4 71.2 561.4 72.3 548.4 74.3 534.9 77.8 519.4 82.9 514.9 84.7 508.4 87.8 487.9 99.3 455.5 118 405.7 118 406.4 117.3 406.9 117.3 407.4 116.8 407.9 116.8 408.4 116.3 408.9 116.3 409.9 115.3 410.4 115.3 410.9 114.8 411.4 114.8 412.4 113.8 412.9 113.8 413.4 113.3 413.9 113.3 414.9 112.3 415.4 112.3 415.9 111.8 416.4 111.8 417.4 110.8 417.9 110.8 418.4 110.3 418.9 110.3 419.9 109.3 420.4 109.3 420.9 108.8 421.4 108.8 422.4 107.8 422.9 107.8 423.9 106.8 424.4 106.8 424.9 106.3 425.4 106.3 426.4 105.3 426.9 105.3 427.4 104.8 427.9 104.8 428.9 103.8 429.4 103.8 429.9 103.3 430.4 103.3 431.4 102.3 431.9 102.3 432.4 101.8 432.9 101.8 433.4 101.3 433.9 101.3 434.9 100.3 435.4 100.3 435.9 99.8 436.4 99.8 437.4 98.8 437.9 98.8 438.4 98.3 438.9 98.3 439.9 97.3 440.4 97.3 440.9 96.8 441.4 96.8 441.9 96.3 442.4 96.3 443.4 95.3 443.9 95.3 444.4 94.8 444.9 94.8 445.9 93.8 446.4 93.8 446.9 93.3 447.4 93.3 447.9 92.8 448.4 92.8 449.4 91.8 449.9 91.8 450.4 91.3 450.9 91.3 451.4 90.8 451.9 90.8 452.9 89.8 453.4 89.8 453.9 89.3 454.4 89.3 454.9 88.8 455.4 88.8 456.4 87.8 456.9 87.8 457.4 87.3 457.9 87.3 458.9 86.3 459.4 86.3 459.9 85.8 460.4 85.8 460.9 85.3 461.4 85.3 462.4 84.3 462.9 84.3 463.4 83.8 463.9 83.8 464.9 82.8 465.4 82.8 465.9 82.3 466.4 82.3 466.9 81.8 467.4 81.8 468.4 80.9 468.9 80.9 469.4 80.4 469.9 80.4 470.4 79.9 470.9 79.9 471.9 78.9 472.4 78.9 472.9 78.4 473.4 78.4 473.9 77.9 474.4 77.9 475.4 76.9 475.9 76.9 476.4 76.4 476.9 76.4 477.4 75.9 477.9 75.9 478.9 74.9 479.4 74.9 479.9 74.4 480.4 74.4 480.9 73.9 481.4 73.9 482.4 72.9 482.9 72.9 483.4 72.4 483.9 72.4 484.4 71.9 484.9 71.9 485.4 71.4 485.9 71.4 486.9 70.4 487.4 70.4 487.9 69.9 488.4 69.9 488.9 69.4 489.4 69.4 490.4 68.3 490.9 68.3 491.4 67.8 491.9 67.8 492.4 67.3 492.9 67.3 493.4 66.8 493.9 66.8 494.9 65.8 495.4 65.8 495.9 65.3 496.4 65.3 496.9 64.8 497.4 64.8 497.9 64.3 498.4 64.3 498.9 63.8 499.4 63.8 499.9 63.3 500.9 63.3 501.4 62.8 501.9 62.8 502.4 62.3 502.9 62.3 503.4 61.8 503.9 61.8 504.4 61.3 504.9 61.3 505.4 60.8 506.4 60.8 506.9 60.3 507.4 60.3 507.9 59.8 508.9 59.8 509.4 59.3 509.9 59.3 510.4 58.8 511.4 58.8 511.9 58.3 512.9 58.3 513.4 57.8 514.4 57.8 514.9 57.3 515.9 57.3 516.4 56.7 517.4 56.7 517.9 56.2 518.9 56.2 519.4 55.6 520.9 55.6 521.4 55.1 523 55 522.9 54.8 499.9 54.7 479.9 55 449.9 55.8 397.4 56.3 397.4 43Z" fill="#1096ba"/>
<path d="M397.9 43 613.9 43 613.9 70.4 574.9 70.6 563.9 71.7 547.9 74.2 535.9 77.3 521.9 81.7 516.4 83.8 510.9 86.3 505.9 88.8 490.9 97.3 455 118 405.8 118 406.4 117.4 406.9 117.4 407.4 116.9 407.9 116.9 408.4 116.4 408.9 116.4 409.9 115.4 410.4 115.4 410.9 114.9 411.4 114.9 412.4 113.9 412.9 113.9 413.4 113.4 413.9 113.4 414.9 112.4 415.4 112.4 415.9 111.9 416.4 111.9 417.4 110.9 417.9 110.9 418.4 110.4 418.9 110.4 419.9 109.4 420.4 109.4 420.9 108.9 421.4 108.9 422.4 107.9 422.9 107.9 423.9 106.9 424.4 106.9 424.9 106.4 425.4 106.4 426.4 105.4 426.9 105.4 427.4 104.9 427.9 104.9 428.9 103.9 429.4 103.9 429.9 103.4 430.4 103.4 431.4 102.4 431.9 102.4 432.4 101.9 432.9 101.9 433.4 101.4 433.9 101.4 434.9 100.4 435.4 100.4 435.9 99.9 436.4 99.9 437.4 98.9 437.9 98.9 438.4 98.4 438.9 98.4 439.9 97.4 440.4 97.4 440.9 96.9 441.4 96.9 441.9 96.4 442.4 96.4 443.4 95.4 443.9 95.4 444.4 94.9 444.9 94.9 445.9 93.9 446.4 93.9 446.9 93.4 447.4 93.4 447.9 92.9 448.4 92.9 449.4 91.9 449.9 91.9 450.4 91.4 450.9 91.4 451.4 90.9 451.9 90.9 452.9 89.9 453.4 89.9 453.9 89.4 454.4 89.4 454.9 88.9 455.4 88.9 456.4 87.9 456.9 87.9 457.4 87.4 457.9 87.4 458.9 86.4 459.4 86.4 459.9 85.9 460.4 85.9 460.9 85.4 461.4 85.4 462.4 84.4 462.9 84.4 463.4 83.9 463.9 83.9 464.9 82.9 465.4 82.9 465.9 82.4 466.4 82.4 466.9 81.9 467.4 81.9 468.4 80.9 468.9 80.9 469.4 80.4 469.9 80.4 470.4 79.9 470.9 79.9 471.9 78.9 472.4 78.9 472.9 78.4 473.4 78.4 473.9 77.9 474.4 77.9 475.4 76.9 475.9 76.9 476.4 76.4 476.9 76.4 477.4 75.9 477.9 75.9 478.9 74.9 479.4 74.9 479.9 74.4 480.4 74.4 480.9 73.9 481.4 73.9 482.4 72.9 482.9 72.9 483.4 72.4 483.9 72.4 484.4 71.9 484.9 71.9 485.4 71.4 485.9 71.4 486.9 70.4 487.4 70.4 487.9 69.9 488.4 69.9 488.9 69.4 489.4 69.4 490.4 68.4 490.9 68.4 491.4 67.9 491.9 67.9 492.4 67.4 492.9 67.4 493.4 66.9 493.9 66.9 494.9 65.9 495.4 65.9 495.9 65.4 496.4 65.4 496.9 64.9 497.4 64.9 497.9 64.4 498.4 64.4 498.9 63.9 499.4 63.9 499.9 63.4 500.9 63.4 501.4 62.9 501.9 62.9 502.4 62.4 502.9 62.4 503.4 61.9 503.9 61.9 504.4 61.4 504.9 61.4 505.4 60.9 506.4 60.9 506.9 60.3 507.4 60.3 507.9 59.8 508.9 59.8 509.4 59.3 509.9 59.3 510.4 58.8 511.4 58.8 511.9 58.3 512.9 58.3 513.4 57.8 514.4 57.8 514.9 57.3 515.9 57.3 516.4 56.8 517.4 56.8 517.9 56.2 518.9 56.2 519.4 55.7 520.9 55.7 521.4 55.1 522.9 55.1 523.4 54.5 524.9 54.5 480.4 54.7 449.9 55.6 397.4 56.1 397.4 43Z" fill="#1086c6"/>
<path d="M397.9 43 613.9 43 613.9 70.2 574.9 70.3 564.9 71.3 547.9 73.9 535.4 77.2 522.4 81.3 516.9 83.3 511.4 85.8 505.4 88.8 491.4 96.7 454.5 118 405.8 118 406.4 117.4 406.9 117.4 407.4 116.9 407.9 116.9 408.4 116.4 408.9 116.4 409.9 115.4 410.4 115.4 410.9 114.9 411.4 114.9 412.4 113.9 412.9 113.9 413.4 113.4 413.9 113.4 414.9 112.4 415.4 112.4 415.9 111.9 416.4 111.9 417.4 110.9 417.9 110.9 418.4 110.4 418.9 110.4 419.9 109.4 420.4 109.4 420.9 108.9 421.4 108.9 422.4 107.9 422.9 107.9 423.9 106.9 424.4 106.9 424.9 106.4 425.4 106.4 426.4 105.4 426.9 105.4 427.4 104.9 427.9 104.9 428.9 103.9 429.4 103.9 429.9 103.4 430.4 103.4 431.4 102.4 431.9 102.4 432.4 101.9 432.9 101.9 433.4 101.4 433.9 101.4 434.9 100.4 435.4 100.4 435.9 99.9 436.4 99.9 437.4 98.9 437.9 98.9 438.4 98.4 438.9 98.4 439.9 97.4 440.4 97.4 440.9 96.9 441.4 96.9 441.9 96.4 442.4 96.4 443.4 95.4 443.9 95.4 444.4 94.9 444.9 94.9 445.9 93.9 446.4 93.9 446.9 93.4 447.4 93.4 447.9 92.9 448.4 92.9 449.4 91.9 449.9 91.9 450.4 91.4 450.9 91.4 451.4 90.9 451.9 90.9 452.9 89.9 453.4 89.9 453.9 89.4 454.4 89.4 454.9 88.9 455.4 88.9 456.4 87.9 456.9 87.9 457.4 87.4 457.9 87.4 458.9 86.4 459.4 86.4 459.9 85.9 460.4 85.9 460.9 85.4 461.4 85.4 462.4 84.4 462.9 84.4 463.4 83.9 463.9 83.9 464.9 82.9 465.4 82.9 465.9 82.4 466.4 82.4 466.9 81.9 467.4 81.9 468.4 80.9 468.9 80.9 469.4 80.4 469.9 80.4 470.4 79.9 470.9 79.9 471.9 78.9 472.4 78.9 472.9 78.4 473.4 78.4 473.9 77.9 474.4 77.9 475.4 76.9 475.9 76.9 476.4 76.4 476.9 76.4 477.4 75.9 477.9 75.9 478.9 74.9 479.4 74.9 479.9 74.4 480.4 74.4 480.9 73.9 481.4 73.9 482.4 72.9 482.9 72.9 483.4 72.4 483.9 72.4 484.4 71.9 484.9 71.9 485.4 71.4 485.9 71.4 486.9 70.4 487.4 70.4 487.9 69.9 488.4 69.9 488.9 69.4 489.4 69.4 490.4 68.4 490.9 68.4 491.4 67.9 491.9 67.9 492.4 67.4 492.9 67.4 493.4 66.9 493.9 66.9 494.9 65.9 495.4 65.9 495.9 65.4 496.4 65.4 496.9 64.9 497.4 64.9 497.9 64.4 498.4 64.4 498.9 63.9 499.4 63.9 499.9 63.4 500.9 63.4 501.4 62.9 501.9 62.9 502.4 62.4 502.9 62.4 503.4 61.9 503.9 61.9 504.4 61.4 504.9 61.4 505.4 60.9 506.4 60.9 506.9 60.4 507.4 60.4 507.9 59.9 508.9 59.9 509.4 59.4 509.9 59.4 510.4 58.9 511.4 58.9 511.9 58.4 512.9 58.4 513.4 57.8 514.4 57.8 514.9 57.3 515.9 57.3 516.4 56.8 517.4 56.8 517.9 56.3 518.9 56.3 519.4 55.7 520.9 55.7 521.4 55.2 522.9 55.2 523.4 54.6 525 54.5 524.9 54.2 480.4 54.4 441.4 55.5 397.4 55.9 397.4 43Z" fill="#1073d3"/>
<path d="M397.9 43 613.9 43 613.9 69.9 574.9 70 563.4 71.2 547.4 73.7 535.9 76.7 522.9 80.8 517.4 82.8 510.9 85.7 504.9 88.7 489.9 97.2 453.9 118 405.8 118 406.4 117.4 406.9 117.4 407.4 116.9 407.9 116.9 408.4 116.4 408.9 116.4 409.9 115.4 410.4 115.4 410.9 114.9 411.4 114.9 412.4 113.9 412.9 113.9 413.4 113.4 413.9 113.4 414.9 112.4 415.4 112.4 415.9 111.9 416.4 111.9 417.4 110.9 417.9 110.9 418.4 110.4 418.9 110.4 419.9 109.4 420.4 109.4 420.9 108.9 421.4 108.9 422.4 107.9 422.9 107.9 423.9 106.9 424.4 106.9 424.9 106.4 425.4 106.4 426.4 105.4 426.9 105.4 427.4 104.9 427.9 104.9 428.9 103.9 429.4 103.9 429.9 103.4 430.4 103.4 431.4 102.4 431.9 102.4 432.4 101.9 432.9 101.9 433.4 101.4 433.9 101.4 434.9 100.4 435.4 100.4 435.9 99.9 436.4 99.9 437.4 98.9 437.9 98.9 438.4 98.4 438.9 98.4 439.9 97.4 440.4 97.4 440.9 96.9 441.4 96.9 441.9 96.4 442.4 96.4 443.4 95.4 443.9 95.4 444.4 94.9 444.9 94.9 445.9 93.9 446.4 93.9 446.9 93.4 447.4 93.4 447.9 92.9 448.4 92.9 449.4 91.9 449.9 91.9 450.4 91.4 450.9 91.4 451.4 90.9 451.9 90.9 452.9 89.9 453.4 89.9 453.9 89.4 454.4 89.4 454.9 88.9 455.4 88.9 456.4 87.9 456.9 87.9 457.4 87.4 457.9 87.4 458.9 86.4 459.4 86.4 459.9 85.9 460.4 85.9 460.9 85.4 461.4 85.4 462.4 84.4 462.9 84.4 463.4 83.9 463.9 83.9 464.9 82.9 465.4 82.9 465.9 82.4 466.4 82.4 466.9 81.9 467.4 81.9 468.4 80.9 468.9 80.9 469.4 80.4 469.9 80.4 470.4 79.9 470.9 79.9 471.9 78.9 472.4 78.9 472.9 78.4 473.4 78.4 473.9 77.9 474.4 77.9 475.4 76.9 475.9 76.9 476.4 76.4 476.9 76.4 477.4 75.9 477.9 75.9 478.9 74.9 479.4 74.9 479.9 74.4 480.4 74.4 480.9 73.9 481.4 73.9 482.4 72.9 482.9 72.9 483.4 72.4 483.9 72.4 484.4 71.9 484.9 71.9 485.4 71.4 485.9 71.4 486.9 70.4 487.4 70.4 487.9 69.9 488.4 69.9 488.9 69.4 489.4 69.4 490.4 68.4 490.9 68.4 491.4 67.9 491.9 67.9 492.4 67.4 492.9 67.4 493.4 66.9 493.9 66.9 494.9 65.9 495.4 65.9 495.9 65.4 496.4 65.4 496.9 64.9 497.4 64.9 497.9 64.4 498.4 64.4 498.9 63.9 499.4 63.9 499.9 63.4 500.9 63.4 501.4 62.9 501.9 62.9 502.4 62.4 502.9 62.4 503.4 61.9 503.9 61.9 504.4 61.4 504.9 61.4 505.4 60.9 506.4 60.9 506.9 60.4 507.4 60.4 507.9 59.9 508.9 59.9 509.4 59.4 509.9 59.4 510.4 58.9 511.4 58.9 511.9 58.4 512.9 58.4 513.4 57.9 514.4 57.9 514.9 57.4 515.9 57.4 516.4 56.8 517.4 56.8 517.9 56.3 518.9 56.3 519.4 55.8 520.9 55.8 521.4 55.2 522.9 55.2 523.4 54.6 524.9 54.6 525.4 54 526.9 54 526.9 53.9 500.4 53.9 480.4 54.1 440.4 55.3 397.4 55.7 397.4 43Z" fill="#1060e0"/>
<path d="M397.9 43 613.9 43 613.9 69.5 574.9 69.7 563.9 70.8 547.9 73.3 536.4 76.2 521.9 80.8 516.9 82.6 510.9 85.3 504.9 88.3 490.9 96.2 453.2 118 405.8 118 406.4 117.4 406.9 117.4 407.4 116.9 407.9 116.9 408.4 116.4 408.9 116.4 409.9 115.4 410.4 115.4 410.9 114.9 411.4 114.9 412.4 113.9 412.9 113.9 413.4 113.4 413.9 113.4 414.9 112.4 415.4 112.4 415.9 111.9 416.4 111.9 417.4 110.9 417.9 110.9 418.4 110.4 418.9 110.4 419.9 109.4 420.4 109.4 420.9 108.9 421.4 108.9 422.4 107.9 422.9 107.9 423.9 106.9 424.4 106.9 424.9 106.4 425.4 106.4 426.4 105.4 426.9 105.4 427.4 104.9 427.9 104.9 428.9 103.9 429.4 103.9 429.9 103.4 430.4 103.4 431.4 102.4 431.9 102.4 432.4 101.9 432.9 101.9 433.4 101.4 433.9 101.4 434.9 100.4 435.4 100.4 435.9 99.9 436.4 99.9 437.4 98.9 437.9 98.9 438.4 98.4 438.9 98.4 439.9 97.4 440.4 97.4 440.9 96.9 441.4 96.9 441.9 96.4 442.4 96.4 443.4 95.4 443.9 95.4 444.4 94.9 444.9 94.9 445.9 93.9 446.4 93.9 446.9 93.4 447.4 93.4 447.9 92.9 448.4 92.9 449.4 91.9 449.9 91.9 450.4 91.4 450.9 91.4 451.4 90.9 451.9 90.9 452.9 89.9 453.4 89.9 453.9 89.4 454.4 89.4 454.9 88.9 455.4 88.9 456.4 87.9 456.9 87.9 457.4 87.4 457.9 87.4 458.9 86.4 459.4 86.4 459.9 85.9 460.4 85.9 460.9 85.4 461.4 85.4 462.4 84.4 462.9 84.4 463.4 83.9 463.9 83.9 464.9 82.9 465.4 82.9 465.9 82.4 466.4 82.4 466.9 81.9 467.4 81.9 468.4 80.9 468.9 80.9 469.4 80.4 469.9 80.4 470.4 79.9 470.9 79.9 471.9 78.9 472.4 78.9 472.9 78.4 473.4 78.4 473.9 77.9 474.4 77.9 475.4 76.9 475.9 76.9 476.4 76.4 476.9 76.4 477.4 75.9 477.9 75.9 478.9 74.9 479.4 74.9 479.9 74.4 480.4 74.4 480.9 73.9 481.4 73.9 482.4 72.9 482.9 72.9 483.4 72.4 483.9 72.4 484.4 71.9 484.9 71.9 485.4 71.4 485.9 71.4 486.9 70.4 487.4 70.4 487.9 69.9 488.4 69.9 488.9 69.4 489.4 69.4 490.4 68.4 490.9 68.4 491.4 67.9 491.9 67.9 492.4 67.4 492.9 67.4 493.4 66.9 493.9 66.9 494.9 65.9 495.4 65.9 495.9 65.4 496.4 65.4 496.9 64.9 497.4 64.9 497.9 64.4 498.4 64.4 498.9 63.9 499.4 63.9 499.9 63.4 500.9 63.4 501.4 62.9 501.9 62.9 502.4 62.4 502.9 62.4 503.4 61.9 503.9 61.9 504.4 61.4 504.9 61.4 505.4 60.9 506.4 60.9 506.9 60.4 507.4 60.4 507.9 59.9 508.9 59.9 509.4 59.4 509.9 59.4 510.4 58.9 511.4 58.9 511.9 58.4 512.9 58.4 513.4 57.9 514.4 57.9 514.9 57.4 515.9 57.4 516.4 56.9 517.4 56.9 517.9 56.3 518.9 56.3 519.4 55.8 520.9 55.8 521.4 55.3 522.9 55.3 523.4 54.7 524.9 54.7 525.4 54.1 526.9 54.1 527.4 53.5 529.4 53.5 480.4 53.7 440.8 55 397.4 55.4 397.4 43Z" fill="#0d4add"/>
<path d="M397.9 43 613.9 43 613.9 69.1 574.9 69.3 564.4 70.3 547.9 72.8 534.9 76.2 521.9 80.3 516.9 82.2 509.9 85.3 504.4 88.1 490.9 95.8 452.4 118 405.8 118 406.4 117.4 406.9 117.4 407.4 116.9 407.9 116.9 408.4 116.4 408.9 116.4 409.9 115.4 410.4 115.4 410.9 114.9 411.4 114.9 412.4 113.9 412.9 113.9 413.4 113.4 413.9 113.4 414.9 112.4 415.4 112.4 415.9 111.9 416.4 111.9 417.4 110.9 417.9 110.9 418.4 110.4 418.9 110.4 419.9 109.4 420.4 109.4 420.9 108.9 421.4 108.9 422.4 107.9 422.9 107.9 423.9 106.9 424.4 106.9 424.9 106.4 425.4 106.4 426.4 105.4 426.9 105.4 427.4 104.9 427.9 104.9 428.9 103.9 429.4 103.9 429.9 103.4 430.4 103.4 431.4 102.4 431.9 102.4 432.4 101.9 432.9 101.9 433.4 101.4 433.9 101.4 434.9 100.4 435.4 100.4 435.9 99.9 436.4 99.9 437.4 98.9 437.9 98.9 438.4 98.4 438.9 98.4 439.9 97.4 440.4 97.4 440.9 96.9 441.4 96.9 441.9 96.4 442.4 96.4 443.4 95.4 443.9 95.4 444.4 94.9 444.9 94.9 445.9 93.9 446.4 93.9 446.9 93.4 447.4 93.4 447.9 92.9 448.4 92.9 449.4 91.9 449.9 91.9 450.4 91.4 450.9 91.4 451.4 90.9 451.9 90.9 452.9 89.9 453.4 89.9 453.9 89.4 454.4 89.4 454.9 88.9 455.4 88.9 456.4 87.9 456.9 87.9 457.4 87.4 457.9 87.4 458.9 86.4 459.4 86.4 459.9 85.9 460.4 85.9 460.9 85.4 461.4 85.4 462.4 84.4 462.9 84.4 463.4 83.9 463.9 83.9 464.9 82.9 465.4 82.9 465.9 82.4 466.4 82.4 466.9 81.9 467.4 81.9 468.4 80.9 468.9 80.9 469.4 80.4 469.9 80.4 470.4 79.9 470.9 79.9 471.9 78.9 472.4 78.9 472.9 78.5 473.4 78.5 473.9 78 474.4 78 475.4 77 475.9 77 476.4 76.5 476.9 76.5 477.4 76 477.9 76 478.9 75 479.4 75 479.9 74.5 480.4 74.5 480.9 74 481.4 74 482.4 73 482.9 73 483.4 72.5 483.9 72.5 484.4 72 484.9 72 485.4 71.5 485.9 71.5 486.9 70.4 487.4 70.4 487.9 69.9 488.4 69.9 488.9 69.4 489.4 69.4 490.4 68.4 490.9 68.4 491.4 67.9 491.9 67.9 492.4 67.4 492.9 67.4 493.4 66.9 493.9 66.9 494.9 65.9 495.4 65.9 495.9 65.4 496.4 65.4 496.9 64.9 497.4 64.9 497.9 64.4 498.4 64.4 498.9 63.9 499.4 63.9 499.9 63.4 500.9 63.4 501.4 62.9 501.9 62.9 502.4 62.4 502.9 62.4 503.4 61.9 503.9 61.9 504.4 61.4 504.9 61.4 505.4 60.9 506.4 60.9 506.9 60.4 507.4 60.4 507.9 59.9 508.9 59.9 509.4 59.4 509.9 59.4 510.4 58.9 511.4 58.9 511.9 58.4 512.9 58.4 513.4 57.9 514.4 57.9 514.9 57.4 515.9 57.4 516.4 56.9 517.4 56.9 517.9 56.4 518.9 56.4 519.4 55.9 520.9 55.9 521.4 55.3 522.9 55.3 523.4 54.8 524.9 54.8 525.4 54.2 526.9 54.2 527.4 53.6 529.5 53.5 529.4 53 480.4 53.2 440.4 54.7 397.4 55.1 397.4 43Z" fill="#0a33da"/>
<path d="M397.9 43 613.9 43 613.9 68.6 574.9 68.7 564.4 69.8 547.9 72.3 536.4 75.2 521.9 79.8 516.4 81.8 509.9 84.7 503.9 87.8 488.9 96.3 451.3 118 405.9 118 406.4 117.5 406.9 117.5 407.4 117 407.9 117 408.4 116.5 408.9 116.5 409.9 115.5 410.4 115.5 410.9 115 411.4 115 412.4 114 412.9 114 413.4 113.5 413.9 113.5 414.9 112.5 415.4 112.5 415.9 112 416.4 112 417.4 111 417.9 111 418.4 110.5 418.9 110.5 419.9 109.5 420.4 109.5 420.9 109 421.4 109 422.4 108 422.9 108 423.9 107 424.4 107 424.9 106.5 425.4 106.5 426.4 105.5 426.9 105.5 427.4 105 427.9 105 428.9 104 429.4 104 429.9 103.5 430.4 103.5 431.4 102.5 431.9 102.5 432.4 102 432.9 102 433.4 101.5 433.9 101.5 434.9 100.5 435.4 100.5 435.9 100 436.4 100 437.4 99 437.9 99 438.4 98.5 438.9 98.5 439.9 97.5 440.4 97.5 440.9 97 441.4 97 441.9 96.5 442.4 96.5 443.4 95.5 443.9 95.5 444.4 95 444.9 95 445.9 94 446.4 94 446.9 93.5 447.4 93.5 447.9 93 448.4 93 449.4 92 449.9 92 450.4 91.5 450.9 91.5 451.4 91 451.9 91 452.9 90 453.4 90 453.9 89.5 454.4 89.5 454.9 89 455.4 89 456.4 88 456.9 88 457.4 87.5 457.9 87.5 458.9 86.5 459.4 86.5 459.9 86 460.4 86 460.9 85.5 461.4 85.5 462.4 84.5 462.9 84.5 463.4 84 463.9 84 464.9 83 465.4 83 465.9 82.5 466.4 82.5 466.9 82 467.4 82 468.4 81 468.9 81 469.4 80.5 469.9 80.5 470.4 80 470.9 80 471.9 79 472.4 79 472.9 78.5 473.4 78.5 473.9 78 474.4 78 475.4 77 475.9 77 476.4 76.5 476.9 76.5 477.4 76 477.9 76 478.9 75 479.4 75 479.9 74.5 480.4 74.5 480.9 74 481.4 74 482.4 73 482.9 73 483.4 72.5 483.9 72.5 484.4 72 484.9 72 485.4 71.5 485.9 71.5 486.9 70.5 487.4 70.5 487.9 70 488.4 70 488.9 69.5 489.4 69.5 490.4 68.5 490.9 68.5 491.4 68 491.9 68 492.4 67.5 492.9 67.5 493.4 67 493.9 67 494.9 66 495.4 66 495.9 65.5 496.4 65.5 496.9 65 497.4 65 497.9 64.5 498.4 64.5 498.9 64 499.4 64 499.9 63.5 500.9 63.5 501.4 63 501.9 63 502.4 62.5 502.9 62.5 503.4 62 503.9 62 504.4 61.5 504.9 61.5 505.4 61 506.4 61 506.9 60.5 507.4 60.5 507.9 60 508.9 60 509.4 59.5 509.9 59.5 510.4 59 511.4 59 511.9 58.4 512.9 58.4 513.4 57.9 514.4 57.9 514.9 57.4 515.9 57.4 516.4 56.9 517.4 56.9 517.9 56.4 518.9 56.4 519.4 55.9 520.9 55.9 521.4 55.4 522.9 55.4 523.4 54.9 524.9 54.9 525.4 54.3 526.9 54.3 527.4 53.7 529.4 53.7 529.9 53.2 531.9 53.2 532.4 52.5 534.4 52.5 534.4 52.4 500.4 52.4 479.9 52.6 439.9 54.2 397.4 54.7 397.4 43Z" fill="#0620d5"/>
<path d="M397.9 43 613.9 43 613.9 67.7 574.9 67.9 569.9 68.3 561.9 69.3 551.9 70.8 546.4 71.8 535.4 74.7 520.9 79.2 515.4 81.3 508.9 84.2 503.9 86.8 486.4 96.7 449.7 118 405.9 118 406.4 117.5 406.9 117.5 407.4 117 407.9 117 408.4 116.5 408.9 116.5 409.9 115.5 410.4 115.5 410.9 115 411.4 115 412.4 114 412.9 114 413.4 113.5 413.9 113.5 414.9 112.5 415.4 112.5 415.9 112 416.4 112 417.4 111 417.9 111 418.4 110.5 418.9 110.5 419.9 109.5 420.4 109.5 420.9 109 421.4 109 422.4 108 422.9 108 423.9 107 424.4 107 424.9 106.5 425.4 106.5 426.4 105.5 426.9 105.5 427.4 105 427.9 105 428.9 104 429.4 104 429.9 103.5 430.4 103.5 431.4 102.5 431.9 102.5 432.4 102 432.9 102 433.4 101.5 433.9 101.5 434.9 100.5 435.4 100.5 435.9 100 436.4 100 437.4 99 437.9 99 438.4 98.5 438.9 98.5 439.9 97.5 440.4 97.5 440.9 97 441.4 97 441.9 96.5 442.4 96.5 443.4 95.5 443.9 95.5 444.4 95 444.9 95 445.9 94 446.4 94 446.9 93.5 447.4 93.5 447.9 93 448.4 93 449.4 92 449.9 92 450.4 91.5 450.9 91.5 451.4 91 451.9 91 452.9 90 453.4 90 453.9 89.5 454.4 89.5 454.9 89 455.4 89 456.4 88 456.9 88 457.4 87.5 457.9 87.5 458.9 86.5 459.4 86.5 459.9 86 460.4 86 460.9 85.5 461.4 85.5 462.4 84.5 462.9 84.5 463.4 84 463.9 84 464.9 83 465.4 83 465.9 82.5 466.4 82.5 466.9 82 467.4 82 468.4 81 468.9 81 469.4 80.5 469.9 80.5 470.4 80 470.9 80 471.9 79 472.4 79 472.9 78.5 473.4 78.5 473.9 78 474.4 78 475.4 77 475.9 77 476.4 76.5 476.9 76.5 477.4 76 477.9 76 478.9 75 479.4 75 479.9 74.5 480.4 74.5 480.9 74 481.4 74 482.4 73 482.9 73 483.4 72.5 483.9 72.5 484.4 72 484.9 72 485.4 71.5 485.9 71.5 486.9 70.5 487.4 70.5 487.9 70 488.4 70 488.9 69.5 489.4 69.5 490.4 68.5 490.9 68.5 491.4 68 491.9 68 492.4 67.5 492.9 67.5 493.4 67 493.9 67 494.9 66 495.4 66 495.9 65.5 496.4 65.5 496.9 65 497.4 65 497.9 64.5 498.4 64.5 498.9 64 499.4 64 499.9 63.5 500.9 63.5 501.4 63 501.9 63 502.4 62.5 502.9 62.5 503.4 62 503.9 62 504.4 61.5 504.9 61.5 505.4 61 506.4 61 506.9 60.5 507.4 60.5 507.9 60 508.9 60 509.4 59.5 509.9 59.5 510.4 59 511.4 59 511.9 58.5 512.9 58.5 513.4 58 514.4 58 514.9 57.5 515.9 57.5 516.4 57 517.4 57 517.9 56.5 518.9 56.5 519.4 56 520.9 56 521.4 55.4 522.9 55.4 523.4 54.9 524.9 54.9 525.4 54.4 526.9 54.4 527.4 53.9 529.4 53.9 529.9 53.3 531.9 53.3 532.4 52.8 534.4 52.8 534.9 52.2 537.4 52.2 537.9 51.5 540.4 51.5 540.4 51.3 500.4 51.3 479.9 51.6 439.9 53.5 397.4 54 397.4 43Z" fill="#0310ce"/>
<path d="M569.9 48 613.9 48 613.9 65.3 577.4 65.4 572.9 65.6 566.4 66.3 555.9 67.7 547.9 69 542.9 70.2 533.9 72.7 519.4 77.2 513.9 79.3 506.4 82.8 483.4 95.7 445 118 405.9 118 406.4 117.5 406.9 117.5 407.4 117 407.9 117 408.4 116.5 408.9 116.5 409.9 115.5 410.4 115.5 410.9 115 411.4 115 412.4 114 412.9 114 413.4 113.5 413.9 113.5 414.9 112.5 415.4 112.5 415.9 112 416.4 112 417.4 111 417.9 111 418.4 110.5 418.9 110.5 419.9 109.5 420.4 109.5 420.9 109 421.4 109 422.4 108 422.9 108 423.9 107 424.4 107 424.9 106.5 425.4 106.5 426.4 105.5 426.9 105.5 427.4 105 427.9 105 428.9 104 429.4 104 429.9 103.5 430.4 103.5 431.4 102.5 431.9 102.5 432.4 102 432.9 102 433.4 101.5 433.9 101.5 434.9 100.5 435.4 100.5 435.9 100 436.4 100 437.4 99 437.9 99 438.4 98.5 438.9 98.5 439.9 97.5 440.4 97.5 440.9 97 441.4 97 441.9 96.5 442.4 96.5 443.4 95.5 443.9 95.5 444.4 95 444.9 95 445.9 94 446.4 94 446.9 93.5 447.4 93.5 447.9 93 448.4 93 449.4 92 449.9 92 450.4 91.5 450.9 91.5 451.4 91 451.9 91 452.9 90 453.4 90 453.9 89.5 454.4 89.5 454.9 89 455.4 89 456.4 88 456.9 88 457.4 87.5 457.9 87.5 458.9 86.5 459.4 86.5 459.9 86 460.4 86 460.9 85.5 461.4 85.5 462.4 84.5 462.9 84.5 463.4 84 463.9 84 464.9 83 465.4 83 465.9 82.5 466.4 82.5 466.9 82 467.4 82 468.4 81 468.9 81 469.4 80.5 469.9 80.5 470.4 80 470.9 80 471.9 79 472.4 79 472.9 78.5 473.4 78.5 473.9 78 474.4 78 475.4 77 475.9 77 476.4 76.5 476.9 76.5 477.4 76 477.9 76 478.9 75 479.4 75 479.9 74.5 480.4 74.5 480.9 74 481.4 74 482.4 73 482.9 73 483.4 72.5 483.9 72.5 484.4 72 484.9 72 485.4 71.5 485.9 71.5 486.9 70.5 487.4 70.5 487.9 70 488.4 70 488.9 69.5 489.4 69.5 490.4 68.5 490.9 68.5 491.4 68 491.9 68 492.4 67.5 492.9 67.5 493.4 67 493.9 67 494.9 66 495.4 66 495.9 65.5 496.4 65.5 496.9 65 497.4 65 497.9 64.5 498.4 64.5 498.9 64 499.4 64 499.9 63.5 500.9 63.5 501.4 63 501.9 63 502.4 62.5 502.9 62.5 503.4 62 503.9 62 504.4 61.5 504.9 61.5 505.4 61 506.4 61 506.9 60.5 507.4 60.5 507.9 60 508.9 60 509.4 59.5 509.9 59.5 510.4 59 511.4 59 511.9 58.5 512.9 58.5 513.4 58 514.4 58 514.9 57.5 515.9 57.5 516.4 57 517.4 57 517.9 56.5 518.9 56.5 519.4 56 520.9 56 521.4 55.5 522.9 55.5 523.4 55 524.9 55 525.4 54.5 526.9 54.5 527.4 54 529.4 54 529.9 53.5 531.9 53.5 532.4 53 534.4 53 534.9 52.5 537.4 52.5 537.9 52 540.4 52 540.9 51.5 543.4 51.5 543.9 51 546.9 51 547.4 50.5 550.9 50.5 551.4 50 554.9 50 555.4 49.5 558.9 49.5 559.4 49 563.9 49 564.4 48.5 569.4 48.5 569.9 48Z" fill="#0000c8"/><path d="M497.4 56.5 L516.5 53.9 L519.9 56.2 L519.4 55.6 L518.4 55.9 L517.4 56.2 L516.4 56.5 L515.4 56.8 L514.4 57.1 L513.4 57.5 L512.4 57.8 L511.4 58.1 L510.4 58.5 L509.4 58.9 L508.4 59.3 L507.3 59.7 L506.3 60.1 L505.3 60.6 L504.3 61 L503.3 61.5 L502.3 61.9 L501.3 62.4 L500.3 62.8 L499.3 63.3 L498.3 63.8 L497.3 64.3 L496.3 64.8 L495.3 65.3 L494.3 65.8 L493.3 66.4 L492.3 66.9 L491.3 67.5 L490.3 68 L489.3 68.6 L488.3 69.2 L487.3 69.8 L486.3 70.3 L485.3 70.9 L484.3 71.5 L483.3 72 L482.3 72.6 L484.5 69.4 L490.5 63.0 L496.8 58.6 Z" fill="#40f030"/><path d="M480 56.0 Q491 55.6 497.2 56.4 L496.6 58.7 L490.3 63.1 L484.2 69.6" fill="none" stroke="#1030d0" stroke-width="0.8" opacity="0.85"/><path d="M399 119.6 401 118.4 403 117.3 405 116.1 407 114.9 409 113.7 411 112.5 413 111.3 415 110.1 417 108.9 419 107.7 421 106.5 423 105.3 425 104.1 427 102.9 429 101.7 431 100.5 433 99.3 435 98.1 437 96.9 439 95.8 441 94.6 443.1 93.4 445.1 92.3 447.1 91.1 449.1 90 451.1 88.9 453 87.7 455 86.5 457 85.4 459 84.2 461 83 463 81.9 465 80.7 467 79.5 469.1 78.4" fill="none" stroke="#20c8b0" stroke-width="0.6" opacity="0.8"/><rect x="470.1" y="48.4" width="3.9" height="13" fill="#f8e820"/><rect x="470.1" y="48.4" width="3.9" height="2.2" fill="#f04020"/><rect x="470.1" y="50.6" width="3.9" height="1.8" fill="#f8a000"/><path d="M395 124.2 397 123 399 121.8 401 120.7 403 119.5 405 118.3 407 117.1 409 115.9 411 114.8 413 113.6 415 112.4 417 111.2 419 110 421 108.7 423 107.5 425 106.3 427 105.1 429 103.9 431 102.7 433 101.5 435 100.3 437 99.2 439 98 441 96.8 443 95.7 445 94.5 447 93.4 449 92.2 451 91.1 453 89.9 455 88.8 457 87.6 459 86.4 461 85.3 463 84.1 465 82.9 467 81.8 469 80.6 471 79.5 473 78.3 475 77.2 477 76 479 74.9 481 73.8 483 72.6 485 71.5 487 70.4 489 69.2 491 68.1 493 67 495 65.9 497 64.9 499 63.9 501 63 503 62 505 61.1 507 60.3 509 59.5 511 58.7 513 58 515 57.3 517 56.7 519 56.1 521 55.5 523 55 525 54.5 527 54 529 53.6 531 53.2 533 52.8 535 52.4 537 52.1 539 51.8 541 51.4 543 51.1 545 50.8 547 50.5 549 50.3 551 50 553 49.8 555 49.5 557 49.3 559 49 561 48.8 563 48.6 565 48.4 567 48.3 569 48.1 571 47.9 573 47.8 575 47.6" fill="none" stroke="#1a0000" stroke-width="1.0"/><path d="M504.9 61 506.9 60.1 508.9 59.3 510.9 58.5 512.9 57.8 514.9 57.1 516.9 56.5 518.9 55.9 520.9 55.4 522.9 54.8 525 54.3 527 53.8 529 53.4 531 53 533 52.6 535 52.2 537 51.9 539 51.6 541 51.2 543 50.9 545 50.6 547 50.3 549 50.1 551 49.8 553 49.6 555 49.3 557 49.1 559 48.8" fill="none" stroke="#b02020" stroke-width="0.5"/><path d="M390 38 L620 38 L620 47.2 L577 47.5 L553 45.3 L390 45.2 Z" fill="#fff"/></g></g>
<rect x="398.45" y="377.35" width="214.5" height="74.55" fill="none" stroke="#222" stroke-width="1"/>
<path d="M398.45 377.35v-8.5M434.2 377.35v-8.5M469.95 377.35v-8.5M505.7 377.35v-8.5M541.45 377.35v-8.5M577.2 377.35v-8.5M612.95 377.35v-8.5" stroke="#222" stroke-width="1" fill="none"/>
<path d="M416.33 377.35v-4.5M452.08 377.35v-4.5M487.83 377.35v-4.5M523.58 377.35v-4.5M559.33 377.35v-4.5M595.08 377.35v-4.5" stroke="#222" stroke-width="1" fill="none"/>
<path d="M398.45 451.9v8.5M434.2 451.9v8.5M469.95 451.9v8.5M505.7 451.9v8.5M541.45 451.9v8.5M577.2 451.9v8.5M612.95 451.9v8.5" stroke="#222" stroke-width="1" fill="none"/>
<path d="M416.33 451.9v4.5M452.08 451.9v4.5M487.83 451.9v4.5M523.58 451.9v4.5M559.33 451.9v4.5M595.08 451.9v4.5" stroke="#222" stroke-width="1" fill="none"/>
<path d="M398.45 380.9h-8.5M398.45 416.4h-8.5M398.45 451.9h-8.5" stroke="#222" stroke-width="1" fill="none"/>
<path d="M398.45 388h-4.5M398.45 395.1h-4.5M398.45 402.2h-4.5M398.45 409.3h-4.5M398.45 423.5h-4.5M398.45 430.6h-4.5M398.45 437.7h-4.5M398.45 444.8h-4.5" stroke="#222" stroke-width="1" fill="none"/>
<path d="M612.95 380.9h8.5M612.95 416.4h8.5M612.95 451.9h8.5" stroke="#222" stroke-width="1" fill="none"/>
<path d="M612.95 388h4.5M612.95 395.1h4.5M612.95 402.2h4.5M612.95 409.3h4.5M612.95 423.5h4.5M612.95 430.6h4.5M612.95 437.7h4.5M612.95 444.8h4.5" stroke="#222" stroke-width="1" fill="none"/>
<text x="398.45" y="366.05" font-size="10.8" text-anchor="middle" fill="#000"  stroke="#000" stroke-width="0.22">500</text>
<text x="434.2" y="366.05" font-size="10.8" text-anchor="middle" fill="#000"  stroke="#000" stroke-width="0.22">400</text>
<text x="469.95" y="366.05" font-size="10.8" text-anchor="middle" fill="#000"  stroke="#000" stroke-width="0.22">300</text>
<text x="505.7" y="366.05" font-size="10.8" text-anchor="middle" fill="#000"  stroke="#000" stroke-width="0.22">200</text>
<text x="541.45" y="366.05" font-size="10.8" text-anchor="middle" fill="#000"  stroke="#000" stroke-width="0.22">100</text>
<text x="577.2" y="366.05" font-size="10.8" text-anchor="middle" fill="#000"  stroke="#000" stroke-width="0.22">0</text>
<text x="612.95" y="366.05" font-size="10.8" text-anchor="middle" fill="#000"  stroke="#000" stroke-width="0.22">−100</text>
<text x="387.5" y="384.8" font-size="10.8" text-anchor="end" fill="#000"  stroke="#000" stroke-width="0.22">0</text>
<text x="387.5" y="420.3" font-size="10.8" text-anchor="end" fill="#000"  stroke="#000" stroke-width="0.22">100</text>
<text x="387.5" y="455.8" font-size="10.8" text-anchor="end" fill="#000"  stroke="#000" stroke-width="0.22">200</text>
<text x="505.5" y="9.5" font-size="13.1" text-anchor="middle" fill="#000"  stroke="#000" stroke-width="0.22">Distance from the trench [km]</text>
<text x="355.2" y="80" font-size="13.1" text-anchor="middle" fill="#000" transform="rotate(-90 355.2 80)" stroke="#000" stroke-width="0.22">Depth [km]</text>
<defs><linearGradient id="gva" x1="0" y1="0" x2="0" y2="1"><stop offset="0.0000" stop-color="#0000c8"/><stop offset="0.0500" stop-color="#0828d8"/><stop offset="0.1000" stop-color="#1060e0"/><stop offset="0.1500" stop-color="#1090c0"/><stop offset="0.2000" stop-color="#10b0a0"/><stop offset="0.2500" stop-color="#10d080"/><stop offset="0.3000" stop-color="#14e870"/><stop offset="0.3500" stop-color="#80f040"/><stop offset="0.4000" stop-color="#c0f020"/><stop offset="0.4500" stop-color="#f0f000"/><stop offset="0.5000" stop-color="#ffff00"/><stop offset="0.6000" stop-color="#ffd000"/><stop offset="0.7000" stop-color="#ff9000"/><stop offset="0.8000" stop-color="#ff3000"/><stop offset="0.9000" stop-color="#e00000"/><stop offset="1.0000" stop-color="#b00000"/></linearGradient></defs><path d="M286.2 45.1 L289.9 38.2 L293.6 45.1 Z" fill="#0000c8" stroke="#000" stroke-width="0.9" stroke-linejoin="round"/><path d="M286.2 161.1 L289.9 168 L293.6 161.1 Z" fill="#a80000" stroke="#000" stroke-width="0.9" stroke-linejoin="round"/><rect x="286.2" y="45.1" width="7.4" height="116" fill="url(#gva)" stroke="#000" stroke-width="0.9"/><path d="M293.6 161.1h8.5M293.6 137.9h8.5M293.6 114.7h8.5M293.6 91.5h8.5M293.6 68.3h8.5M293.6 45.1h8.5" stroke="#333" stroke-width="1" fill="none"/><text x="303.2" y="165.7" font-size="11.2" text-anchor="start" stroke="#000" stroke-width="0.22">17</text><text x="303.2" y="142.5" font-size="11.2" text-anchor="start" stroke="#000" stroke-width="0.22">18</text><text x="303.2" y="119.3" font-size="11.2" text-anchor="start" stroke="#000" stroke-width="0.22">19</text><text x="303.2" y="96.1" font-size="11.2" text-anchor="start" stroke="#000" stroke-width="0.22">20</text><text x="303.2" y="72.9" font-size="11.2" text-anchor="start" stroke="#000" stroke-width="0.22">21</text><text x="303.2" y="49.7" font-size="11.2" text-anchor="start" stroke="#000" stroke-width="0.22">22</text><text font-size="13" text-anchor="middle" transform="translate(327.3 103.7) rotate(-90)" stroke="#000" stroke-width="0.22">Log10 viscosity [Pa·s]</text><defs><linearGradient id="gt" x1="0" y1="0" x2="0" y2="1"><stop offset="0.0000" stop-color="#a00000"/><stop offset="0.0625" stop-color="#d20000"/><stop offset="0.1250" stop-color="#fa0000"/><stop offset="0.1875" stop-color="#ff2800"/><stop offset="0.2500" stop-color="#ff4000"/><stop offset="0.3125" stop-color="#ff7000"/><stop offset="0.3750" stop-color="#ffa000"/><stop offset="0.4375" stop-color="#ffd000"/><stop offset="0.5000" stop-color="#ffff00"/><stop offset="0.5625" stop-color="#d8f200"/><stop offset="0.6250" stop-color="#a0e600"/><stop offset="0.6875" stop-color="#48d420"/><stop offset="0.7500" stop-color="#00c860"/><stop offset="0.8125" stop-color="#00b0b0"/><stop offset="0.8750" stop-color="#0088f0"/><stop offset="0.9375" stop-color="#0048f0"/><stop offset="1.0000" stop-color="#0010c0"/></linearGradient></defs><rect x="626.1" y="36.6" width="7.2" height="84.8" fill="url(#gt)" stroke="#000" stroke-width="0.9"/><path d="M633.3 121.4h8.5M633.3 100.2h8.5M633.3 79h8.5M633.3 57.8h8.5M633.3 36.6h8.5M633.3 116.1h4.5M633.3 110.8h4.5M633.3 105.5h4.5M633.3 94.9h4.5M633.3 89.6h4.5M633.3 84.3h4.5M633.3 73.7h4.5M633.3 68.4h4.5M633.3 63.1h4.5M633.3 52.5h4.5M633.3 47.2h4.5M633.3 41.9h4.5" stroke="#333" stroke-width="1" fill="none"/><text x="668.7" y="126" font-size="11.2" text-anchor="end" stroke="#000" stroke-width="0.22">0</text><text x="668.7" y="104.8" font-size="11.2" text-anchor="end" stroke="#000" stroke-width="0.22">400</text><text x="668.7" y="83.6" font-size="11.2" text-anchor="end" stroke="#000" stroke-width="0.22">800</text><text x="668.7" y="62.4" font-size="11.2" text-anchor="end" stroke="#000" stroke-width="0.22">1200</text><text x="668.7" y="41.2" font-size="11.2" text-anchor="end" stroke="#000" stroke-width="0.22">1600</text><text font-size="13" text-anchor="middle" transform="translate(681.6 79.9) rotate(-90)" stroke="#000" stroke-width="0.22">Temperature [°C]</text><defs><linearGradient id="gw" x1="0" y1="0" x2="0" y2="1"><stop offset="0.0000" stop-color="#182060"/><stop offset="0.1000" stop-color="#2018a0"/><stop offset="0.1800" stop-color="#2838c0"/><stop offset="0.2400" stop-color="#2050d0"/><stop offset="0.3000" stop-color="#2070e0"/><stop offset="0.3600" stop-color="#2090e8"/><stop offset="0.4200" stop-color="#20a8e8"/><stop offset="0.5000" stop-color="#38d8e0"/><stop offset="0.6000" stop-color="#80d2a0"/><stop offset="0.7000" stop-color="#c8cc70"/><stop offset="0.8000" stop-color="#e0c060"/><stop offset="0.9000" stop-color="#b08840"/><stop offset="1.0000" stop-color="#88642c"/></linearGradient></defs><rect x="626.3" y="148.4" width="7.3" height="84.3" fill="url(#gw)" stroke="#000" stroke-width="0.9"/><path d="M633.6 232.7h7.5M633.6 215.8h7.5M633.6 199h7.5M633.6 182.1h7.5M633.6 165.3h7.5M633.6 148.4h7.5" stroke="#333" stroke-width="1" fill="none"/><text x="644.3" y="237.3" font-size="11.2" text-anchor="start" stroke="#000" stroke-width="0.22">0</text><text x="644.3" y="220.4" font-size="11.2" text-anchor="start" stroke="#000" stroke-width="0.22">1</text><text x="644.3" y="203.6" font-size="11.2" text-anchor="start" stroke="#000" stroke-width="0.22">2</text><text x="644.3" y="186.7" font-size="11.2" text-anchor="start" stroke="#000" stroke-width="0.22">3</text><text x="644.3" y="169.9" font-size="11.2" text-anchor="start" stroke="#000" stroke-width="0.22">4</text><text x="644.3" y="153" font-size="11.2" text-anchor="start" stroke="#000" stroke-width="0.22">5</text><text font-size="13" text-anchor="middle" transform="translate(664.6 194.6) rotate(-90)" stroke="#000" stroke-width="0.22">Log10 water</text><text font-size="13" text-anchor="middle" transform="translate(679.2 193.4) rotate(-90)" stroke="#000" stroke-width="0.22">content [H/Si ppm]</text><defs><linearGradient id="gvg" x1="0" y1="0" x2="0" y2="1"><stop offset="0.0000" stop-color="#0000c8"/><stop offset="0.0500" stop-color="#0828d8"/><stop offset="0.1000" stop-color="#1060e0"/><stop offset="0.1500" stop-color="#1090c0"/><stop offset="0.2000" stop-color="#10b0a0"/><stop offset="0.2500" stop-color="#10d080"/><stop offset="0.3000" stop-color="#14e870"/><stop offset="0.3500" stop-color="#80f040"/><stop offset="0.4000" stop-color="#c0f020"/><stop offset="0.4500" stop-color="#f0f000"/><stop offset="0.5000" stop-color="#ffff00"/><stop offset="0.6000" stop-color="#ffd000"/><stop offset="0.7000" stop-color="#ff9000"/><stop offset="0.8000" stop-color="#ff3000"/><stop offset="0.9000" stop-color="#e00000"/><stop offset="1.0000" stop-color="#b00000"/></linearGradient></defs><path d="M626.4 371.6 L629.6 364.7 L632.8 371.6 Z" fill="#0000c8" stroke="#000" stroke-width="0.9" stroke-linejoin="round"/><path d="M626.4 456.9 L629.6 463.8 L632.8 456.9 Z" fill="#a80000" stroke="#000" stroke-width="0.9" stroke-linejoin="round"/><rect x="626.4" y="371.6" width="6.4" height="85.3" fill="url(#gvg)" stroke="#000" stroke-width="0.9"/><path d="M632.8 456.9h8.5M632.8 439.8h8.5M632.8 422.8h8.5M632.8 405.7h8.5M632.8 388.7h8.5M632.8 371.6h8.5" stroke="#333" stroke-width="1" fill="none"/><text x="644" y="461.5" font-size="11.2" text-anchor="start" stroke="#000" stroke-width="0.22">17</text><text x="644" y="444.4" font-size="11.2" text-anchor="start" stroke="#000" stroke-width="0.22">18</text><text x="644" y="427.4" font-size="11.2" text-anchor="start" stroke="#000" stroke-width="0.22">19</text><text x="644" y="410.3" font-size="11.2" text-anchor="start" stroke="#000" stroke-width="0.22">20</text><text x="644" y="393.3" font-size="11.2" text-anchor="start" stroke="#000" stroke-width="0.22">21</text><text x="644" y="376.2" font-size="11.2" text-anchor="start" stroke="#000" stroke-width="0.22">22</text><text font-size="13" text-anchor="middle" transform="translate(671.2 413.1) rotate(-90)" stroke="#000" stroke-width="0.22">Log10 viscosity [Pa·s]</text><path d="M264.1 66 L273.3 60.8 L273.3 71.2 Z" fill="#fff" stroke="#000" stroke-width="1.7" stroke-linejoin="miter"/><path d="M62.3 66 L53.1 60.8 L53.1 71.2 Z" fill="#fff" stroke="#000" stroke-width="1.7"/><path d="M264.1 103.5 L273.3 98.2 L273.3 108.8 Z" fill="#fff" stroke="#000" stroke-width="1.7" stroke-linejoin="miter"/><path d="M62.3 103.5 L53.1 98.2 L53.1 108.8 Z" fill="#fff" stroke="#000" stroke-width="1.7"/><path d="M264.1 141 L273.3 135.8 L273.3 146.2 Z" fill="#fff" stroke="#000" stroke-width="1.7" stroke-linejoin="miter"/><path d="M62.3 141 L53.1 135.8 L53.1 146.2 Z" fill="#fff" stroke="#000" stroke-width="1.7"/><path d="M100 154.2 L94.8 163.4 L105.2 163.4 Z" fill="#fff" stroke="#000" stroke-width="1.7"/><path d="M162.6 154.2 L157.3 163.4 L167.8 163.4 Z" fill="#fff" stroke="#000" stroke-width="1.7"/><path d="M225.3 154.2 L220.1 163.4 L230.6 163.4 Z" fill="#fff" stroke="#000" stroke-width="1.7"/><text x="138.0" y="51.2" font-size="11.4" stroke="#000" stroke-width="0.22">Free surface</text>
</svg></body></html>
